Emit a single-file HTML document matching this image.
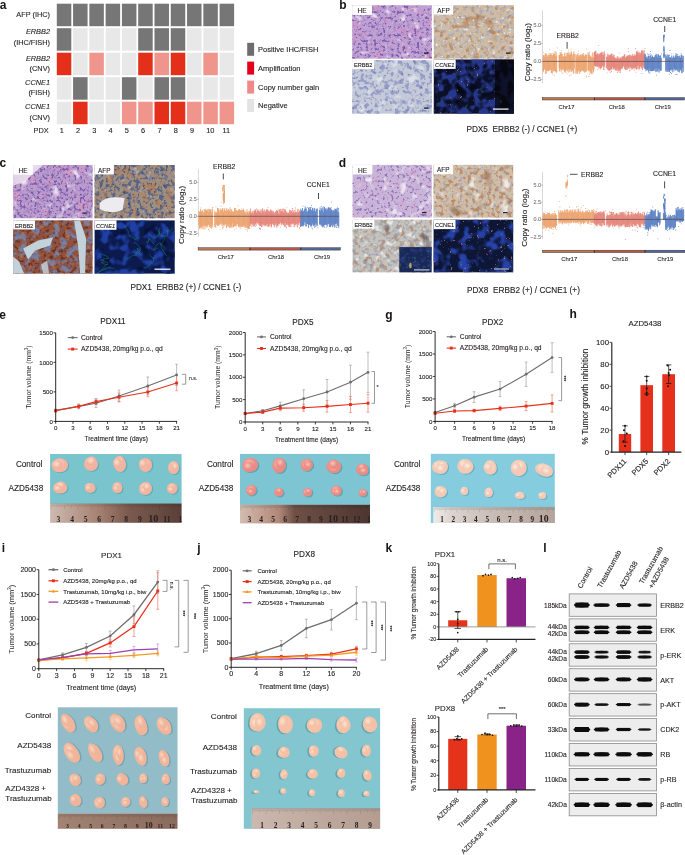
<!DOCTYPE html>
<html><head><meta charset="utf-8"><style>
html,body{margin:0;padding:0;background:#fff;width:685px;height:855px;overflow:hidden}
svg{display:block;will-change:transform}

</style></head><body>
<svg width="685" height="855" viewBox="0 0 685 855" font-family='"Liberation Sans", sans-serif'>
<text x="-0.30" y="8.80" font-size="12" font-weight="bold" fill="#1a1414">a</text><rect x="56.80" y="3.70" width="14.50" height="22.50" fill="#767676"/><rect x="73.08" y="3.70" width="14.50" height="22.50" fill="#767676"/><rect x="89.36" y="3.70" width="14.50" height="22.50" fill="#767676"/><rect x="105.64" y="3.70" width="14.50" height="22.50" fill="#767676"/><rect x="121.92" y="3.70" width="14.50" height="22.50" fill="#767676"/><rect x="138.20" y="3.70" width="14.50" height="22.50" fill="#767676"/><rect x="154.48" y="3.70" width="14.50" height="22.50" fill="#767676"/><rect x="170.76" y="3.70" width="14.50" height="22.50" fill="#767676"/><rect x="187.04" y="3.70" width="14.50" height="22.50" fill="#767676"/><rect x="203.32" y="3.70" width="14.50" height="22.50" fill="#767676"/><rect x="219.60" y="3.70" width="14.50" height="22.50" fill="#767676"/><rect x="56.80" y="28.20" width="14.50" height="22.50" fill="#767676"/><rect x="73.08" y="28.20" width="14.50" height="22.50" fill="#e8e8e8"/><rect x="89.36" y="28.20" width="14.50" height="22.50" fill="#e8e8e8"/><rect x="105.64" y="28.20" width="14.50" height="22.50" fill="#e8e8e8"/><rect x="121.92" y="28.20" width="14.50" height="22.50" fill="#e8e8e8"/><rect x="138.20" y="28.20" width="14.50" height="22.50" fill="#767676"/><rect x="154.48" y="28.20" width="14.50" height="22.50" fill="#767676"/><rect x="170.76" y="28.20" width="14.50" height="22.50" fill="#767676"/><rect x="187.04" y="28.20" width="14.50" height="22.50" fill="#e8e8e8"/><rect x="203.32" y="28.20" width="14.50" height="22.50" fill="#e8e8e8"/><rect x="219.60" y="28.20" width="14.50" height="22.50" fill="#e8e8e8"/><rect x="56.80" y="52.70" width="14.50" height="22.50" fill="#e4301a"/><rect x="73.08" y="52.70" width="14.50" height="22.50" fill="#e8e8e8"/><rect x="89.36" y="52.70" width="14.50" height="22.50" fill="#f0958b"/><rect x="105.64" y="52.70" width="14.50" height="22.50" fill="#e8e8e8"/><rect x="121.92" y="52.70" width="14.50" height="22.50" fill="#e8e8e8"/><rect x="138.20" y="52.70" width="14.50" height="22.50" fill="#e4301a"/><rect x="154.48" y="52.70" width="14.50" height="22.50" fill="#f0958b"/><rect x="170.76" y="52.70" width="14.50" height="22.50" fill="#e4301a"/><rect x="187.04" y="52.70" width="14.50" height="22.50" fill="#e8e8e8"/><rect x="203.32" y="52.70" width="14.50" height="22.50" fill="#f0958b"/><rect x="219.60" y="52.70" width="14.50" height="22.50" fill="#e8e8e8"/><rect x="56.80" y="77.20" width="14.50" height="22.50" fill="#e8e8e8"/><rect x="73.08" y="77.20" width="14.50" height="22.50" fill="#767676"/><rect x="89.36" y="77.20" width="14.50" height="22.50" fill="#e8e8e8"/><rect x="105.64" y="77.20" width="14.50" height="22.50" fill="#e8e8e8"/><rect x="121.92" y="77.20" width="14.50" height="22.50" fill="#767676"/><rect x="138.20" y="77.20" width="14.50" height="22.50" fill="#e8e8e8"/><rect x="154.48" y="77.20" width="14.50" height="22.50" fill="#767676"/><rect x="170.76" y="77.20" width="14.50" height="22.50" fill="#767676"/><rect x="187.04" y="77.20" width="14.50" height="22.50" fill="#e8e8e8"/><rect x="203.32" y="77.20" width="14.50" height="22.50" fill="#e8e8e8"/><rect x="219.60" y="77.20" width="14.50" height="22.50" fill="#e8e8e8"/><rect x="56.80" y="101.70" width="14.50" height="22.50" fill="#e8e8e8"/><rect x="73.08" y="101.70" width="14.50" height="22.50" fill="#e4301a"/><rect x="89.36" y="101.70" width="14.50" height="22.50" fill="#e8e8e8"/><rect x="105.64" y="101.70" width="14.50" height="22.50" fill="#e8e8e8"/><rect x="121.92" y="101.70" width="14.50" height="22.50" fill="#f0958b"/><rect x="138.20" y="101.70" width="14.50" height="22.50" fill="#f0958b"/><rect x="154.48" y="101.70" width="14.50" height="22.50" fill="#e4301a"/><rect x="170.76" y="101.70" width="14.50" height="22.50" fill="#e4301a"/><rect x="187.04" y="101.70" width="14.50" height="22.50" fill="#f0958b"/><rect x="203.32" y="101.70" width="14.50" height="22.50" fill="#f0958b"/><rect x="219.60" y="101.70" width="14.50" height="22.50" fill="#f0958b"/><text x="50.00" y="16.50" font-size="7.35" text-anchor="end" fill="#231f20" stroke="#231f20" stroke-width="0.12">AFP (IHC)</text><text x="50.00" y="33.90" font-size="7.35" text-anchor="end" font-style="italic" fill="#231f20" stroke="#231f20" stroke-width="0.12">ERBB2</text><text x="50.00" y="44.70" font-size="7.35" text-anchor="end" fill="#231f20" stroke="#231f20" stroke-width="0.12">(IHC/FISH)</text><text x="50.00" y="60.80" font-size="7.35" text-anchor="end" font-style="italic" fill="#231f20" stroke="#231f20" stroke-width="0.12">ERBB2</text><text x="50.00" y="71.40" font-size="7.35" text-anchor="end" fill="#231f20" stroke="#231f20" stroke-width="0.12">(CNV)</text><text x="50.00" y="84.70" font-size="7.35" text-anchor="end" font-style="italic" fill="#231f20" stroke="#231f20" stroke-width="0.12">CCNE1</text><text x="50.00" y="95.40" font-size="7.35" text-anchor="end" fill="#231f20" stroke="#231f20" stroke-width="0.12">(FISH)</text><text x="50.00" y="108.70" font-size="7.35" text-anchor="end" font-style="italic" fill="#231f20" stroke="#231f20" stroke-width="0.12">CCNE1</text><text x="50.00" y="119.50" font-size="7.35" text-anchor="end" fill="#231f20" stroke="#231f20" stroke-width="0.12">(CNV)</text><text x="48.60" y="133.40" font-size="7.35" text-anchor="end" fill="#231f20" stroke="#231f20" stroke-width="0.12">PDX</text><text x="59.70" y="133.40" font-size="7.35" fill="#231f20" stroke="#231f20" stroke-width="0.12">1</text><text x="75.98" y="133.40" font-size="7.35" fill="#231f20" stroke="#231f20" stroke-width="0.12">2</text><text x="92.26" y="133.40" font-size="7.35" fill="#231f20" stroke="#231f20" stroke-width="0.12">3</text><text x="108.54" y="133.40" font-size="7.35" fill="#231f20" stroke="#231f20" stroke-width="0.12">4</text><text x="124.82" y="133.40" font-size="7.35" fill="#231f20" stroke="#231f20" stroke-width="0.12">5</text><text x="141.10" y="133.40" font-size="7.35" fill="#231f20" stroke="#231f20" stroke-width="0.12">6</text><text x="157.38" y="133.40" font-size="7.35" fill="#231f20" stroke="#231f20" stroke-width="0.12">7</text><text x="173.66" y="133.40" font-size="7.35" fill="#231f20" stroke="#231f20" stroke-width="0.12">8</text><text x="189.94" y="133.40" font-size="7.35" fill="#231f20" stroke="#231f20" stroke-width="0.12">9</text><text x="206.22" y="133.40" font-size="7.35" fill="#231f20" stroke="#231f20" stroke-width="0.12">10</text><text x="222.50" y="133.40" font-size="7.35" fill="#231f20" stroke="#231f20" stroke-width="0.12">11</text><rect x="247.20" y="42.80" width="6.90" height="13.00" fill="#6d6d6d"/><text x="258.10" y="52.10" font-size="7.47" fill="#231f20" stroke="#231f20" stroke-width="0.12">Positive IHC/FISH</text><rect x="247.20" y="61.60" width="6.90" height="13.00" fill="#e2001a"/><text x="258.10" y="70.90" font-size="7.47" fill="#231f20" stroke="#231f20" stroke-width="0.12">Amplification</text><rect x="247.20" y="80.60" width="6.90" height="13.00" fill="#f08a8a"/><text x="258.10" y="89.90" font-size="7.47" fill="#231f20" stroke="#231f20" stroke-width="0.12">Copy number gain</text><rect x="247.20" y="99.00" width="6.90" height="13.00" fill="#e3e3e3"/><text x="258.10" y="108.30" font-size="7.47" fill="#231f20" stroke="#231f20" stroke-width="0.12">Negative</text><text x="339.30" y="9.00" font-size="12" font-weight="bold" fill="#1a1414">b</text><rect x="352.20" y="5.30" width="79.60" height="53.30" fill="#c2a2d2"/><filter id="nz1" x="0" y="0" width="1" height="1" filterUnits="objectBoundingBox" color-interpolation-filters="sRGB"><feTurbulence type="fractalNoise" baseFrequency="0.08" numOctaves="2" seed="11" result="t"/><feColorMatrix in="t" type="matrix" values="0 0 0 0 0.847 0 0 0 0 0.565 0 0 0 0 0.753 5 0 0 0 -2.7" result="c"/><feComposite in="c" in2="SourceGraphic" operator="in"/></filter><rect x="352.20" y="5.30" width="79.60" height="53.30" fill="#000" filter="url(#nz1)" opacity="0.5"/><filter id="nz2" x="0" y="0" width="1" height="1" filterUnits="objectBoundingBox" color-interpolation-filters="sRGB"><feTurbulence type="fractalNoise" baseFrequency="0.3" numOctaves="2" seed="18" result="t"/><feColorMatrix in="t" type="matrix" values="0 0 0 0 0.612 0 0 0 0 0.486 0 0 0 0 0.769 4 0 0 0 -2.0" result="c"/><feComposite in="c" in2="SourceGraphic" operator="in"/></filter><rect x="352.20" y="5.30" width="79.60" height="53.30" fill="#000" filter="url(#nz2)" opacity="0.6"/><filter id="nz3" x="0" y="0" width="1" height="1" filterUnits="objectBoundingBox" color-interpolation-filters="sRGB"><feTurbulence type="fractalNoise" baseFrequency="0.35" numOctaves="2" seed="25" result="t"/><feColorMatrix in="t" type="matrix" values="0 0 0 0 0.416 0 0 0 0 0.306 0 0 0 0 0.659 6 0 0 0 -3.3" result="c"/><feComposite in="c" in2="SourceGraphic" operator="in"/></filter><rect x="352.20" y="5.30" width="79.60" height="53.30" fill="#000" filter="url(#nz3)" opacity="0.8"/><filter id="nz4" x="0" y="0" width="1" height="1" filterUnits="objectBoundingBox" color-interpolation-filters="sRGB"><feTurbulence type="fractalNoise" baseFrequency="0.14" numOctaves="2" seed="32" result="t"/><feColorMatrix in="t" type="matrix" values="0 0 0 0 0.910 0 0 0 0 0.863 0 0 0 0 0.941 5 0 0 0 -3.0" result="c"/><feComposite in="c" in2="SourceGraphic" operator="in"/></filter><rect x="352.20" y="5.30" width="79.60" height="53.30" fill="#000" filter="url(#nz4)" opacity="1.0"/><rect x="433.80" y="5.20" width="80.10" height="53.40" fill="#d0bca4"/><filter id="nz5" x="0" y="0" width="1" height="1" filterUnits="objectBoundingBox" color-interpolation-filters="sRGB"><feTurbulence type="fractalNoise" baseFrequency="0.3" numOctaves="2" seed="21" result="t"/><feColorMatrix in="t" type="matrix" values="0 0 0 0 0.596 0 0 0 0 0.659 0 0 0 0 0.784 5 0 0 0 -2.5" result="c"/><feComposite in="c" in2="SourceGraphic" operator="in"/></filter><rect x="433.80" y="5.20" width="80.10" height="53.40" fill="#000" filter="url(#nz5)" opacity="0.75"/><filter id="nz6" x="0" y="0" width="1" height="1" filterUnits="objectBoundingBox" color-interpolation-filters="sRGB"><feTurbulence type="fractalNoise" baseFrequency="0.2" numOctaves="2" seed="28" result="t"/><feColorMatrix in="t" type="matrix" values="0 0 0 0 0.722 0 0 0 0 0.478 0 0 0 0 0.298 6 0 0 0 -3.4" result="c"/><feComposite in="c" in2="SourceGraphic" operator="in"/></filter><rect x="433.80" y="5.20" width="80.10" height="53.40" fill="#000" filter="url(#nz6)" opacity="0.65"/><filter id="nz7" x="0" y="0" width="1" height="1" filterUnits="objectBoundingBox" color-interpolation-filters="sRGB"><feTurbulence type="fractalNoise" baseFrequency="0.07" numOctaves="2" seed="35" result="t"/><feColorMatrix in="t" type="matrix" values="0 0 0 0 0.659 0 0 0 0 0.408 0 0 0 0 0.220 6 0 0 0 -3.6" result="c"/><feComposite in="c" in2="SourceGraphic" operator="in"/></filter><rect x="433.80" y="5.20" width="80.10" height="53.40" fill="#000" filter="url(#nz7)" opacity="0.45"/><filter id="nz8" x="0" y="0" width="1" height="1" filterUnits="objectBoundingBox" color-interpolation-filters="sRGB"><feTurbulence type="fractalNoise" baseFrequency="0.25" numOctaves="2" seed="42" result="t"/><feColorMatrix in="t" type="matrix" values="0 0 0 0 0.910 0 0 0 0 0.925 0 0 0 0 0.910 6 0 0 0 -3.9" result="c"/><feComposite in="c" in2="SourceGraphic" operator="in"/></filter><rect x="433.80" y="5.20" width="80.10" height="53.40" fill="#000" filter="url(#nz8)" opacity="1.0"/><rect x="352.20" y="60.10" width="79.60" height="53.60" fill="#c4cad8"/><filter id="nz9" x="0" y="0" width="1" height="1" filterUnits="objectBoundingBox" color-interpolation-filters="sRGB"><feTurbulence type="fractalNoise" baseFrequency="0.2" numOctaves="2" seed="31" result="t"/><feColorMatrix in="t" type="matrix" values="0 0 0 0 0.533 0 0 0 0 0.565 0 0 0 0 0.769 6 0 0 0 -3.0" result="c"/><feComposite in="c" in2="SourceGraphic" operator="in"/></filter><rect x="352.20" y="60.10" width="79.60" height="53.60" fill="#000" filter="url(#nz9)" opacity="0.8"/><filter id="nz10" x="0" y="0" width="1" height="1" filterUnits="objectBoundingBox" color-interpolation-filters="sRGB"><feTurbulence type="fractalNoise" baseFrequency="0.3" numOctaves="2" seed="38" result="t"/><feColorMatrix in="t" type="matrix" values="0 0 0 0 0.361 0 0 0 0 0.392 0 0 0 0 0.643 6 0 0 0 -3.7" result="c"/><feComposite in="c" in2="SourceGraphic" operator="in"/></filter><rect x="352.20" y="60.10" width="79.60" height="53.60" fill="#000" filter="url(#nz10)" opacity="0.5"/><filter id="nz11" x="0" y="0" width="1" height="1" filterUnits="objectBoundingBox" color-interpolation-filters="sRGB"><feTurbulence type="fractalNoise" baseFrequency="0.12" numOctaves="2" seed="45" result="t"/><feColorMatrix in="t" type="matrix" values="0 0 0 0 0.867 0 0 0 0 0.886 0 0 0 0 0.918 5 0 0 0 -2.9" result="c"/><feComposite in="c" in2="SourceGraphic" operator="in"/></filter><rect x="352.20" y="60.10" width="79.60" height="53.60" fill="#000" filter="url(#nz11)" opacity="1.0"/><rect x="433.80" y="59.50" width="80.10" height="54.20" fill="#0b0f28"/><filter id="nz12" x="0" y="0" width="1" height="1" filterUnits="objectBoundingBox" color-interpolation-filters="sRGB"><feTurbulence type="fractalNoise" baseFrequency="0.12" numOctaves="2" seed="41" result="t"/><feColorMatrix in="t" type="matrix" values="0 0 0 0 0.165 0 0 0 0 0.235 0 0 0 0 0.596 5 0 0 0 -2.0" result="c"/><feComposite in="c" in2="SourceGraphic" operator="in"/></filter><rect x="433.80" y="59.50" width="80.10" height="54.20" fill="#000" filter="url(#nz12)" opacity="0.9"/><filter id="nz13" x="0" y="0" width="1" height="1" filterUnits="objectBoundingBox" color-interpolation-filters="sRGB"><feTurbulence type="fractalNoise" baseFrequency="0.06" numOctaves="2" seed="48" result="t"/><feColorMatrix in="t" type="matrix" values="0 0 0 0 0.016 0 0 0 0 0.024 0 0 0 0 0.059 5 0 0 0 -3.1" result="c"/><feComposite in="c" in2="SourceGraphic" operator="in"/></filter><rect x="433.80" y="59.50" width="80.10" height="54.20" fill="#000" filter="url(#nz13)" opacity="1.0"/><filter id="nz14" x="0" y="0" width="1" height="1" filterUnits="objectBoundingBox" color-interpolation-filters="sRGB"><feTurbulence type="fractalNoise" baseFrequency="0.3" numOctaves="2" seed="55" result="t"/><feColorMatrix in="t" type="matrix" values="0 0 0 0 0.847 0 0 0 0 0.565 0 0 0 0 0.376 14 0 0 0 -10.3" result="c"/><feComposite in="c" in2="SourceGraphic" operator="in"/></filter><rect x="433.80" y="59.50" width="80.10" height="54.20" fill="#000" filter="url(#nz14)" opacity="0.75"/><filter id="nz15" x="0" y="0" width="1" height="1" filterUnits="objectBoundingBox" color-interpolation-filters="sRGB"><feTurbulence type="fractalNoise" baseFrequency="0.2" numOctaves="2" seed="62" result="t"/><feColorMatrix in="t" type="matrix" values="0 0 0 0 0.165 0 0 0 0 0.478 0 0 0 0 0.282 6 0 0 0 -4.0" result="c"/><feComposite in="c" in2="SourceGraphic" operator="in"/></filter><rect x="433.80" y="59.50" width="80.10" height="54.20" fill="#000" filter="url(#nz15)" opacity="0.5"/><rect x="495.00" y="59.50" width="18.90" height="54.20" fill="#050508" opacity="0.75"/><rect x="352.20" y="5.30" width="19.80" height="9.60" fill="#fff"/><text x="362.10" y="13.00" font-size="6.5" text-anchor="middle" fill="#231f20" stroke="#231f20" stroke-width="0.12">HE</text><rect x="433.80" y="5.20" width="19.30" height="9.40" fill="#fff"/><text x="443.45" y="12.70" font-size="6.4" text-anchor="middle" fill="#231f20" stroke="#231f20" stroke-width="0.12">AFP</text><rect x="352.20" y="60.10" width="21.90" height="9.00" fill="#fff"/><text x="363.15" y="67.20" font-size="5.6" text-anchor="middle" fill="#231f20" stroke="#231f20" stroke-width="0.12">ERBB2</text><rect x="433.80" y="59.50" width="21.90" height="9.40" fill="#fff"/><text x="444.75" y="67.00" font-size="5.7" text-anchor="middle" font-style="italic" fill="#231f20" stroke="#231f20" stroke-width="0.12">CCNE1</text><rect x="424.00" y="52.50" width="4.50" height="1.20" fill="#111"/><rect x="506.00" y="52.50" width="4.50" height="1.20" fill="#111"/><rect x="424.00" y="107.50" width="4.50" height="1.20" fill="#111"/><rect x="493.00" y="108.50" width="15.50" height="1.20" fill="#fff"/><line x1="542.50" y1="10.30" x2="542.50" y2="83.20" stroke="#cfcfcf" stroke-width="0.8"/><path d="M543.0 56.5V72.3M543.5 55.0V71.3M544.1 55.2V69.7M544.6 56.7V69.4M545.2 53.0V69.5M545.7 54.3V73.9M546.3 54.8V73.4M546.8 53.5V71.0M547.4 56.9V70.9M547.9 55.5V71.1M548.5 54.8V71.2M549.0 57.4V70.6M549.6 54.5V70.0M550.1 54.5V70.1M550.7 53.0V69.5M551.2 54.2V72.9M551.8 55.1V73.2M552.3 55.5V73.2M552.9 55.1V69.6M553.4 52.9V71.3M554.0 54.7V71.5M554.5 53.9V70.9M555.1 51.7V70.5M555.6 56.3V71.9M556.2 51.8V72.6M556.7 55.4V72.4" stroke="#eb9d66" stroke-width="0.8" fill="none"/><path fill="#eb9d66" d="M543.3 52.3h.8v.8h-.8zM551.6 53.0h.8v.8h-.8zM553.8 75.0h.8v.8h-.8zM548.6 52.9h.8v.8h-.8zM549.3 49.2h.8v.8h-.8zM554.5 50.9h.8v.8h-.8zM556.8 47.4h.8v.8h-.8zM545.1 72.9h.8v.8h-.8zM552.2 73.8h.8v.8h-.8z"/><path d="M559.0 55.1V68.3M559.5 54.9V71.3M560.1 52.4V70.2M560.6 53.0V68.5M561.2 52.0V72.0M561.7 54.1V69.9M562.3 54.1V69.4M562.8 56.3V70.0M563.4 56.5V68.7M563.9 56.6V70.8M564.5 53.1V72.3M565.0 55.9V70.7M565.6 56.2V72.8M566.1 53.4V69.9M566.7 56.7V70.8M567.2 52.9V69.6M567.8 52.7V71.8M568.3 54.5V69.2M568.9 51.7V72.6M569.4 54.9V69.9M570.0 53.3V71.6M570.5 54.4V69.0M571.1 51.2V72.1M571.6 52.0V71.5M572.2 54.5V70.6M572.7 57.2V70.6M573.3 53.6V73.5M573.8 52.1V73.3M574.4 54.0V68.7" stroke="#eb9d66" stroke-width="0.8" fill="none"/><path fill="#eb9d66" d="M562.5 73.0h.8v.8h-.8zM566.5 73.4h.8v.8h-.8zM569.2 75.5h.8v.8h-.8zM560.9 50.0h.8v.8h-.8zM570.7 48.8h.8v.8h-.8zM565.8 52.6h.8v.8h-.8zM573.8 51.6h.8v.8h-.8zM570.6 74.6h.8v.8h-.8zM561.7 72.3h.8v.8h-.8zM568.2 49.8h.8v.8h-.8z"/><path d="M575.8 53.8V73.8M576.3 55.2V70.9M576.9 57.7V73.8M577.4 54.3V72.7M578.0 53.1V72.6M578.5 56.4V70.5M579.1 54.8V70.3M579.6 56.6V73.0M580.2 55.2V71.6M580.7 54.4V72.2M581.3 54.6V71.1M581.8 55.8V70.3M582.4 54.2V70.3M582.9 53.7V71.3M583.5 54.9V71.5M584.0 56.1V70.7M584.6 56.2V72.7M585.1 54.4V72.2M585.7 54.3V70.8M586.2 54.7V71.9M586.8 54.7V70.9" stroke="#eb9d66" stroke-width="0.8" fill="none"/><path fill="#eb9d66" d="M586.3 48.8h.8v.8h-.8zM585.8 75.6h.8v.8h-.8zM577.3 73.2h.8v.8h-.8zM579.3 73.3h.8v.8h-.8zM578.2 50.7h.8v.8h-.8zM585.8 77.3h.8v.8h-.8zM583.0 53.1h.8v.8h-.8z"/><path d="M588.0 52.2V69.9M588.5 54.9V71.1M589.1 52.7V69.5M589.6 55.2V71.3M590.2 56.6V73.6M590.7 55.7V72.5M591.3 56.8V73.4M591.8 57.3V74.3M592.4 52.4V69.5M592.9 57.8V73.7M593.5 57.4V72.0M594.0 52.9V70.1" stroke="#eb9d66" stroke-width="0.8" fill="none"/><path fill="#eb9d66" d="M589.0 51.6h.8v.8h-.8zM588.6 76.2h.8v.8h-.8zM589.2 73.9h.8v.8h-.8zM588.1 76.2h.8v.8h-.8z"/><path d="M594.4 51.9V66.1M594.9 52.2V65.9M595.5 50.8V66.2M596.0 53.2V66.8M596.6 54.8V66.0M597.1 54.0V66.9M597.7 53.1V66.8M598.2 53.9V65.8M598.8 55.2V68.6M599.3 53.9V67.0M599.9 53.6V67.8M600.4 52.8V68.8M601.0 52.8V68.2M601.5 52.5V67.8M602.1 51.7V66.5M602.6 54.8V65.9M603.2 52.4V66.9M603.7 55.0V69.3M604.3 51.3V65.7M604.8 54.0V67.5" stroke="#e57c70" stroke-width="0.8" fill="none"/><path fill="#e57c70" d="M596.1 51.5h.8v.8h-.8zM598.3 45.0h.8v.8h-.8zM600.3 68.5h.8v.8h-.8zM603.9 69.2h.8v.8h-.8zM594.4 51.4h.8v.8h-.8zM597.4 68.9h.8v.8h-.8zM602.8 69.0h.8v.8h-.8z"/><path d="M606.6 56.5V67.8M607.1 57.0V68.6M607.7 55.1V69.7M608.2 54.3V70.0M608.8 56.3V70.9M609.3 55.1V70.0M609.9 54.9V71.2M610.4 54.3V69.8M611.0 55.9V69.5M611.5 53.6V69.5M612.1 53.7V69.4M612.6 56.1V66.7M613.2 56.6V67.9M613.7 54.6V68.8" stroke="#e57c70" stroke-width="0.8" fill="none"/><path fill="#e57c70" d="M611.2 71.1h.8v.8h-.8zM606.6 72.4h.8v.8h-.8zM610.3 71.9h.8v.8h-.8zM607.1 53.8h.8v.8h-.8zM607.2 53.8h.8v.8h-.8z"/><path d="M614.0 58.3V70.2M614.5 56.6V68.6M615.1 57.8V67.8M615.6 58.6V70.2M616.2 57.5V71.1M616.7 58.9V69.8M617.3 56.1V68.7M617.8 58.3V71.3M618.4 58.3V71.4M618.9 56.7V68.6M619.5 58.6V70.0M620.0 58.5V72.6M620.6 57.3V70.7M621.1 58.5V67.9M621.7 58.2V69.2" stroke="#e57c70" stroke-width="0.8" fill="none"/><path fill="#e57c70" d="M618.8 52.8h.8v.8h-.8zM619.6 72.3h.8v.8h-.8zM621.0 56.7h.8v.8h-.8zM614.0 54.7h.8v.8h-.8zM617.2 72.0h.8v.8h-.8z"/><path d="M622.0 57.3V68.1M622.5 56.6V68.5M623.1 56.1V66.0M623.6 56.2V66.5M624.2 54.5V67.2M624.7 54.0V69.1M625.3 57.7V69.5M625.8 56.8V70.1M626.4 56.5V69.7M626.9 55.5V66.3M627.5 55.6V69.5M628.0 56.7V66.9M628.6 55.3V68.2M629.1 54.9V69.1M629.7 54.8V66.6M630.2 56.7V67.8M630.8 54.7V67.8M631.3 56.2V69.6M631.9 55.8V67.6M632.4 54.5V68.7M633.0 56.4V69.6M633.5 55.6V67.7M634.1 56.0V68.4M634.6 54.8V67.7M635.2 55.1V69.0M635.7 56.3V67.3" stroke="#e57c70" stroke-width="0.8" fill="none"/><path fill="#e57c70" d="M632.5 54.1h.8v.8h-.8zM635.5 71.7h.8v.8h-.8zM629.4 69.8h.8v.8h-.8zM634.6 53.7h.8v.8h-.8zM628.2 51.2h.8v.8h-.8zM634.2 69.8h.8v.8h-.8zM628.0 48.4h.8v.8h-.8zM628.9 70.5h.8v.8h-.8zM635.0 48.2h.8v.8h-.8z"/><path d="M636.0 54.3V66.7M636.5 51.3V69.8M637.1 51.1V68.6M637.6 52.0V65.8M638.2 52.8V69.2M638.7 52.8V65.8M639.3 51.9V69.1M639.8 54.7V68.6M640.4 52.5V66.4M640.9 54.2V66.7M641.5 50.1V68.5M642.0 51.6V65.9M642.6 50.5V69.2M643.1 54.6V68.1M643.7 52.2V66.4M644.2 49.9V66.3M644.8 53.7V68.2" stroke="#e57c70" stroke-width="0.8" fill="none"/><path fill="#e57c70" d="M642.0 69.1h.8v.8h-.8zM638.6 69.5h.8v.8h-.8zM644.5 48.2h.8v.8h-.8zM637.7 50.4h.8v.8h-.8zM642.7 50.7h.8v.8h-.8zM641.5 73.1h.8v.8h-.8z"/><path d="M644.8 54.6V69.0M645.3 54.3V68.8M645.9 56.7V71.3M646.4 57.3V70.3M647.0 56.7V68.8M647.5 58.4V70.3M648.1 55.9V70.4M648.6 55.7V72.6M649.2 55.7V68.3M649.7 58.8V71.2M650.3 55.4V71.3M650.8 55.4V70.2M651.4 57.5V71.2M651.9 56.6V71.1M652.5 55.6V71.0M653.0 57.1V71.1M653.6 57.0V70.9M654.1 57.6V69.0M654.7 56.6V71.0M655.2 54.7V69.2M655.8 55.1V72.2M656.3 55.7V71.6M656.9 53.9V68.5M657.4 57.4V71.2M658.0 55.2V72.1M658.5 54.2V68.6M659.1 58.4V72.7M659.6 55.8V69.7M660.2 55.2V71.1M660.7 55.4V70.4M661.3 57.9V70.6" stroke="#5279c0" stroke-width="0.8" fill="none"/><path fill="#5279c0" d="M655.6 53.7h.8v.8h-.8zM650.2 51.2h.8v.8h-.8zM661.2 53.4h.8v.8h-.8zM648.3 53.9h.8v.8h-.8zM656.6 54.8h.8v.8h-.8zM647.0 53.4h.8v.8h-.8zM656.0 74.7h.8v.8h-.8zM649.7 53.6h.8v.8h-.8zM651.0 54.7h.8v.8h-.8zM648.9 72.5h.8v.8h-.8zM649.5 72.7h.8v.8h-.8z"/><path d="M665.7 54.4V71.1M666.2 55.5V72.0M666.8 57.1V69.9M667.3 54.3V72.0M667.9 58.0V70.0M668.4 54.8V71.7M669.0 56.1V71.6M669.5 57.4V72.1M670.1 57.2V70.5M670.6 57.3V70.1M671.2 58.2V70.4M671.7 55.5V69.4M672.3 57.9V72.4M672.8 57.6V70.1M673.4 55.6V68.5M673.9 57.4V71.7M674.5 57.8V69.2M675.0 56.3V69.6M675.6 54.7V70.4M676.1 56.8V70.4M676.7 53.6V69.6M677.2 55.9V70.1M677.8 55.5V71.4M678.3 56.1V71.9M678.9 57.8V68.9M679.4 55.6V72.5M680.0 56.5V71.0M680.5 57.8V69.9M681.1 54.5V69.2M681.6 55.0V72.8M682.2 58.4V73.2M682.7 55.5V68.1M683.3 56.0V71.8" stroke="#5279c0" stroke-width="0.8" fill="none"/><path fill="#5279c0" d="M676.6 73.9h.8v.8h-.8zM680.8 53.4h.8v.8h-.8zM669.2 54.8h.8v.8h-.8zM669.5 50.1h.8v.8h-.8zM668.5 54.9h.8v.8h-.8zM670.0 72.1h.8v.8h-.8zM675.6 74.0h.8v.8h-.8zM671.4 53.5h.8v.8h-.8zM675.4 53.2h.8v.8h-.8zM671.1 73.0h.8v.8h-.8zM677.3 53.9h.8v.8h-.8zM668.8 73.8h.8v.8h-.8z"/><path d="M664.0 48.5V53.8M664.2 46.3V48.6M664.0 54.7V56.8M664.0 53.4V57.1M664.0 53.6V58.3M663.7 36.9V42.3M664.0 54.0V58.0M663.9 35.1V37.3M664.2 34.7V36.2M664.2 48.4V54.8M664.0 34.7V37.1M663.8 34.9V41.0M663.7 45.9V51.1M663.8 35.7V38.5" stroke="#5279c0" stroke-width="0.7" fill="none"/><line x1="542.50" y1="61.40" x2="683.30" y2="61.40" stroke="#5a4a4a" stroke-width="0.7"/><line x1="541.30" y1="25.30" x2="542.50" y2="25.30" stroke="#777" stroke-width="0.6"/><text x="540.90" y="27.20" font-size="5.4" text-anchor="end" fill="#7a7a7a" stroke="#7a7a7a" stroke-width="0.12">5.0</text><line x1="541.30" y1="43.35" x2="542.50" y2="43.35" stroke="#777" stroke-width="0.6"/><text x="540.90" y="45.25" font-size="5.4" text-anchor="end" fill="#7a7a7a" stroke="#7a7a7a" stroke-width="0.12">2.5</text><line x1="541.30" y1="61.40" x2="542.50" y2="61.40" stroke="#777" stroke-width="0.6"/><text x="540.90" y="63.30" font-size="5.4" text-anchor="end" fill="#7a7a7a" stroke="#7a7a7a" stroke-width="0.12">0.0</text><line x1="541.30" y1="79.45" x2="542.50" y2="79.45" stroke="#777" stroke-width="0.6"/><text x="540.90" y="81.35" font-size="5.4" text-anchor="end" fill="#7a7a7a" stroke="#7a7a7a" stroke-width="0.12">−2.5</text><text x="529.60" y="52.10" font-size="8.1" text-anchor="middle" fill="#231f20" stroke="#231f20" stroke-width="0.12" transform="rotate(-90 529.60 52.10)">Copy ratio (log<tspan font-size="5.2" dy="1.6">2</tspan><tspan dy="-1.6">)</tspan></text><text x="567.60" y="37.80" font-size="6.8" text-anchor="middle" fill="#231f20" stroke="#231f20" stroke-width="0.12">ERBB2</text><line x1="567.10" y1="42.00" x2="567.10" y2="48.70" stroke="#231f20" stroke-width="0.8"/><text x="664.70" y="21.60" font-size="6.8" text-anchor="middle" fill="#231f20" stroke="#231f20" stroke-width="0.12">CCNE1</text><line x1="664.70" y1="26.00" x2="664.70" y2="32.00" stroke="#231f20" stroke-width="0.8"/><rect x="542.30" y="97.60" width="52.10" height="2.40" fill="#bc7a52"/><rect x="594.40" y="97.60" width="50.40" height="2.40" fill="#b45a4a"/><rect x="644.80" y="97.60" width="39.70" height="2.40" fill="#52689a"/><rect x="542.30" y="97.60" width="142.20" height="2.4" fill="none" stroke="#3a2a2a" stroke-width="0.45"/><line x1="594.40" y1="97.60" x2="594.40" y2="100.00" stroke="#111" stroke-width="0.8"/><line x1="644.80" y1="97.60" x2="644.80" y2="100.00" stroke="#111" stroke-width="0.8"/><text x="566.60" y="108.60" font-size="5.9" text-anchor="middle" fill="#333" stroke="#333" stroke-width="0.12">Chr17</text><text x="616.80" y="108.60" font-size="5.9" text-anchor="middle" fill="#333" stroke="#333" stroke-width="0.12">Chr18</text><text x="662.70" y="108.60" font-size="5.9" text-anchor="middle" fill="#333" stroke="#333" stroke-width="0.12">Chr19</text><text x="466.40" y="132.20" font-size="8.24" fill="#231f20" stroke="#231f20" stroke-width="0.12" xml:space="preserve">PDX5  ERBB2 (-) / CCNE1 (+)</text><text x="-0.60" y="166.60" font-size="12" font-weight="bold" fill="#1a1414">c</text><rect x="13.10" y="165.00" width="79.40" height="53.20" fill="#bc9ccc"/><filter id="nz16" x="0" y="0" width="1" height="1" filterUnits="objectBoundingBox" color-interpolation-filters="sRGB"><feTurbulence type="fractalNoise" baseFrequency="0.08" numOctaves="2" seed="51" result="t"/><feColorMatrix in="t" type="matrix" values="0 0 0 0 0.878 0 0 0 0 0.596 0 0 0 0 0.753 5 0 0 0 -2.7" result="c"/><feComposite in="c" in2="SourceGraphic" operator="in"/></filter><rect x="13.10" y="165.00" width="79.40" height="53.20" fill="#000" filter="url(#nz16)" opacity="0.6"/><filter id="nz17" x="0" y="0" width="1" height="1" filterUnits="objectBoundingBox" color-interpolation-filters="sRGB"><feTurbulence type="fractalNoise" baseFrequency="0.3" numOctaves="2" seed="58" result="t"/><feColorMatrix in="t" type="matrix" values="0 0 0 0 0.541 0 0 0 0 0.424 0 0 0 0 0.722 4 0 0 0 -2.0" result="c"/><feComposite in="c" in2="SourceGraphic" operator="in"/></filter><rect x="13.10" y="165.00" width="79.40" height="53.20" fill="#000" filter="url(#nz17)" opacity="0.5"/><filter id="nz18" x="0" y="0" width="1" height="1" filterUnits="objectBoundingBox" color-interpolation-filters="sRGB"><feTurbulence type="fractalNoise" baseFrequency="0.35" numOctaves="2" seed="65" result="t"/><feColorMatrix in="t" type="matrix" values="0 0 0 0 0.416 0 0 0 0 0.314 0 0 0 0 0.659 6 0 0 0 -3.2" result="c"/><feComposite in="c" in2="SourceGraphic" operator="in"/></filter><rect x="13.10" y="165.00" width="79.40" height="53.20" fill="#000" filter="url(#nz18)" opacity="0.8"/><filter id="nz19" x="0" y="0" width="1" height="1" filterUnits="objectBoundingBox" color-interpolation-filters="sRGB"><feTurbulence type="fractalNoise" baseFrequency="0.1" numOctaves="2" seed="72" result="t"/><feColorMatrix in="t" type="matrix" values="0 0 0 0 0.941 0 0 0 0 0.902 0 0 0 0 0.957 5 0 0 0 -3.1" result="c"/><feComposite in="c" in2="SourceGraphic" operator="in"/></filter><rect x="13.10" y="165.00" width="79.40" height="53.20" fill="#000" filter="url(#nz19)" opacity="1.0"/><path d="M13.1 174 L31.1 165 L43.1 165 L25.1 181 L13.1 186Z" fill="#ece2f0" opacity="0.85"/><rect x="94.60" y="165.00" width="80.10" height="53.20" fill="#a09080"/><filter id="nz20" x="0" y="0" width="1" height="1" filterUnits="objectBoundingBox" color-interpolation-filters="sRGB"><feTurbulence type="fractalNoise" baseFrequency="0.25" numOctaves="2" seed="61" result="t"/><feColorMatrix in="t" type="matrix" values="0 0 0 0 0.290 0 0 0 0 0.353 0 0 0 0 0.541 6 0 0 0 -2.9" result="c"/><feComposite in="c" in2="SourceGraphic" operator="in"/></filter><rect x="94.60" y="165.00" width="80.10" height="53.20" fill="#000" filter="url(#nz20)" opacity="0.8"/><filter id="nz21" x="0" y="0" width="1" height="1" filterUnits="objectBoundingBox" color-interpolation-filters="sRGB"><feTurbulence type="fractalNoise" baseFrequency="0.12" numOctaves="2" seed="68" result="t"/><feColorMatrix in="t" type="matrix" values="0 0 0 0 0.722 0 0 0 0 0.502 0 0 0 0 0.345 5 0 0 0 -2.6" result="c"/><feComposite in="c" in2="SourceGraphic" operator="in"/></filter><rect x="94.60" y="165.00" width="80.10" height="53.20" fill="#000" filter="url(#nz21)" opacity="0.8"/><filter id="nz22" x="0" y="0" width="1" height="1" filterUnits="objectBoundingBox" color-interpolation-filters="sRGB"><feTurbulence type="fractalNoise" baseFrequency="0.35" numOctaves="2" seed="75" result="t"/><feColorMatrix in="t" type="matrix" values="0 0 0 0 0.180 0 0 0 0 0.227 0 0 0 0 0.400 6 0 0 0 -3.6" result="c"/><feComposite in="c" in2="SourceGraphic" operator="in"/></filter><rect x="94.60" y="165.00" width="80.10" height="53.20" fill="#000" filter="url(#nz22)" opacity="0.6"/><filter id="nz23" x="0" y="0" width="1" height="1" filterUnits="objectBoundingBox" color-interpolation-filters="sRGB"><feTurbulence type="fractalNoise" baseFrequency="0.15" numOctaves="2" seed="82" result="t"/><feColorMatrix in="t" type="matrix" values="0 0 0 0 0.847 0 0 0 0 0.816 0 0 0 0 0.816 5 0 0 0 -3.2" result="c"/><feComposite in="c" in2="SourceGraphic" operator="in"/></filter><rect x="94.60" y="165.00" width="80.10" height="53.20" fill="#000" filter="url(#nz23)" opacity="0.5"/><path d="M99.6 203 Q106.6 195 124.6 198 L122.6 210 Q109.6 215 99.6 209Z" fill="#ebebf0"/><rect x="13.10" y="220.40" width="79.40" height="53.20" fill="#945038"/><filter id="nz24" x="0" y="0" width="1" height="1" filterUnits="objectBoundingBox" color-interpolation-filters="sRGB"><feTurbulence type="fractalNoise" baseFrequency="0.3" numOctaves="2" seed="71" result="t"/><feColorMatrix in="t" type="matrix" values="0 0 0 0 0.369 0 0 0 0 0.157 0 0 0 0 0.078 6 0 0 0 -3.1" result="c"/><feComposite in="c" in2="SourceGraphic" operator="in"/></filter><rect x="13.10" y="220.40" width="79.40" height="53.20" fill="#000" filter="url(#nz24)" opacity="0.75"/><filter id="nz25" x="0" y="0" width="1" height="1" filterUnits="objectBoundingBox" color-interpolation-filters="sRGB"><feTurbulence type="fractalNoise" baseFrequency="0.15" numOctaves="2" seed="78" result="t"/><feColorMatrix in="t" type="matrix" values="0 0 0 0 0.471 0 0 0 0 0.533 0 0 0 0 0.690 5 0 0 0 -2.3" result="c"/><feComposite in="c" in2="SourceGraphic" operator="in"/></filter><rect x="13.10" y="220.40" width="79.40" height="53.20" fill="#000" filter="url(#nz25)" opacity="0.85"/><filter id="nz26" x="0" y="0" width="1" height="1" filterUnits="objectBoundingBox" color-interpolation-filters="sRGB"><feTurbulence type="fractalNoise" baseFrequency="0.35" numOctaves="2" seed="85" result="t"/><feColorMatrix in="t" type="matrix" values="0 0 0 0 0.290 0 0 0 0 0.353 0 0 0 0 0.596 6 0 0 0 -3.6" result="c"/><feComposite in="c" in2="SourceGraphic" operator="in"/></filter><rect x="13.10" y="220.40" width="79.40" height="53.20" fill="#000" filter="url(#nz26)" opacity="0.6"/><filter id="nz27" x="0" y="0" width="1" height="1" filterUnits="objectBoundingBox" color-interpolation-filters="sRGB"><feTurbulence type="fractalNoise" baseFrequency="0.2" numOctaves="2" seed="92" result="t"/><feColorMatrix in="t" type="matrix" values="0 0 0 0 0.753 0 0 0 0 0.502 0 0 0 0 0.376 5 0 0 0 -3.0" result="c"/><feComposite in="c" in2="SourceGraphic" operator="in"/></filter><rect x="13.10" y="220.40" width="79.40" height="53.20" fill="#000" filter="url(#nz27)" opacity="0.5"/><path d="M23.1 248.4 L38.1 240.4 L53.1 237.4 L50.1 245.4 L35.1 250.4 L28.1 259.4Z" fill="#c2d2da"/><path d="M74.1 220.4 L80.1 220.4 L86.1 238.4 L85.1 273.6 L80.1 273.6 L78.1 246.4Z" fill="#c2d2da"/><path d="M13.1 256.4 L19.1 261.4 L24.1 273.6 L13.1 273.6Z" fill="#c2d2da"/><path d="M41.1 264.4 L47.1 260.4 L49.1 273.6 L43.1 273.6Z" fill="#c8d6dc" opacity="0.8"/><rect x="94.60" y="220.40" width="80.10" height="53.20" fill="#0c1a4e"/><filter id="nz28" x="0" y="0" width="1" height="1" filterUnits="objectBoundingBox" color-interpolation-filters="sRGB"><feTurbulence type="fractalNoise" baseFrequency="0.1" numOctaves="2" seed="81" result="t"/><feColorMatrix in="t" type="matrix" values="0 0 0 0 0.141 0 0 0 0 0.275 0 0 0 0 0.706 5 0 0 0 -2.3" result="c"/><feComposite in="c" in2="SourceGraphic" operator="in"/></filter><rect x="94.60" y="220.40" width="80.10" height="53.20" fill="#000" filter="url(#nz28)" opacity="0.85"/><filter id="nz29" x="0" y="0" width="1" height="1" filterUnits="objectBoundingBox" color-interpolation-filters="sRGB"><feTurbulence type="fractalNoise" baseFrequency="0.08" numOctaves="2" seed="88" result="t"/><feColorMatrix in="t" type="matrix" values="0 0 0 0 0.020 0 0 0 0 0.039 0 0 0 0 0.141 5 0 0 0 -2.9" result="c"/><feComposite in="c" in2="SourceGraphic" operator="in"/></filter><rect x="94.60" y="220.40" width="80.10" height="53.20" fill="#000" filter="url(#nz29)" opacity="0.8"/><clipPath id="ccg"><rect x="94.6" y="220.4" width="80.1" height="53.2"/></clipPath><path d="M159.9 228.0 Q157.6 232.0 160.0 233.9 Q156.4 228.8 160.1 231.4 Q155.4 240.7 154.0 237.5 M108.1 262.2 Q102.3 261.5 101.2 262.6 Q108.5 266.4 107.9 263.4 Q101.8 269.4 100.8 270.3 M158.5 234.5 Q166.2 237.7 167.3 235.6 Q168.2 227.4 166.3 231.0 Q173.2 231.5 172.0 227.6 M141.5 255.7 Q134.4 245.9 138.2 248.7 Q140.3 250.9 140.2 247.8 Q134.8 240.1 133.6 244.0 M94.8 239.3 Q85.5 238.0 87.7 237.3 Q90.3 232.9 89.3 233.1 Q80.7 236.4 82.8 239.3 M102.3 254.4 Q108.2 256.4 109.0 258.3 Q100.7 259.1 100.2 260.3 Q106.3 261.4 102.8 259.5 M114.5 268.5 Q105.5 266.8 106.3 268.9 Q94.4 273.2 98.3 272.8 Q103.9 268.7 106.3 267.8 M135.2 254.5 Q139.3 248.4 140.8 250.0 Q135.0 257.2 132.7 255.4 Q125.8 260.0 123.8 260.2 M154.0 244.5 Q146.9 235.3 149.1 238.9 Q147.7 245.2 146.1 242.4 Q150.4 238.7 149.9 239.2 M157.8 248.2 Q157.3 248.0 153.5 250.2 Q158.5 241.3 160.4 243.4 Q166.7 248.3 164.8 249.7 M165.1 237.9 Q161.5 245.1 160.4 243.6 Q163.1 253.0 163.4 250.3 Q166.4 257.1 166.9 255.3 M140.3 236.8 Q131.7 241.8 135.1 238.5 Q125.6 235.3 128.7 231.9 Q122.1 223.2 125.9 226.9 M150.1 254.1 Q150.2 258.2 153.6 257.4 Q153.7 265.0 151.2 261.9 Q146.7 270.6 143.4 267.0 M103.2 231.3 Q99.0 227.3 96.2 224.8 Q99.7 227.7 98.6 229.4 Q93.5 221.4 91.4 223.7" fill="none" stroke="#22987a" stroke-width="0.8" opacity="0.5" clip-path="url(#ccg)"/><rect x="13.10" y="165.00" width="19.80" height="9.60" fill="#fff"/><text x="23.00" y="172.70" font-size="6.5" text-anchor="middle" fill="#231f20" stroke="#231f20" stroke-width="0.12">HE</text><rect x="94.60" y="165.00" width="19.30" height="9.40" fill="#fff"/><text x="104.25" y="172.50" font-size="6.4" text-anchor="middle" fill="#231f20" stroke="#231f20" stroke-width="0.12">AFP</text><rect x="13.10" y="220.40" width="21.90" height="9.00" fill="#fff"/><text x="24.05" y="227.50" font-size="5.6" text-anchor="middle" fill="#231f20" stroke="#231f20" stroke-width="0.12">ERBB2</text><rect x="94.60" y="220.40" width="21.90" height="9.40" fill="#fff"/><text x="105.55" y="227.90" font-size="5.7" text-anchor="middle" font-style="italic" fill="#231f20" stroke="#231f20" stroke-width="0.12">CCNE1</text><rect x="82.50" y="212.50" width="4.50" height="1.20" fill="#222"/><rect x="154.50" y="268.60" width="16.00" height="1.20" fill="#fff"/><line x1="198.40" y1="169.30" x2="198.40" y2="236.80" stroke="#cfcfcf" stroke-width="0.8"/><path d="M198.8 211.2V224.9M199.4 211.9V228.3M199.9 211.6V229.3M200.5 208.8V227.4M201.0 211.7V227.3M201.6 210.8V227.4M202.1 211.8V228.5M202.7 209.7V226.0M203.2 212.7V228.9M203.8 212.1V226.0M204.3 209.1V225.4M204.9 211.2V228.4M205.4 208.8V226.2M206.0 210.0V227.3M206.5 210.5V225.5M207.1 209.1V227.7M207.6 211.0V226.2M208.2 208.8V225.1M208.7 212.1V224.8M209.3 209.0V227.2M209.8 208.9V225.8M210.4 210.4V228.1M210.9 209.4V225.7M211.5 212.4V228.8M212.0 209.1V225.0M212.6 209.3V227.3" stroke="#eb9d66" stroke-width="0.8" fill="none"/><path fill="#eb9d66" d="M200.5 207.4h.8v.8h-.8zM208.4 228.7h.8v.8h-.8zM209.2 230.4h.8v.8h-.8zM212.3 207.6h.8v.8h-.8zM203.6 228.8h.8v.8h-.8zM201.4 228.5h.8v.8h-.8zM207.9 229.0h.8v.8h-.8zM212.4 206.9h.8v.8h-.8zM204.8 228.4h.8v.8h-.8z"/><path d="M214.7 210.7V226.7M215.2 212.6V227.3M215.8 211.7V227.9M216.4 212.8V224.9M216.9 212.2V224.1M217.5 208.9V225.5M218.0 208.6V226.1M218.6 208.4V226.0M219.1 211.4V224.1M219.7 211.3V225.2M220.2 208.3V224.2M220.8 209.6V224.3M221.3 209.9V222.9M221.9 209.7V225.8M222.4 208.0V224.3M223.0 209.7V228.3M223.5 212.1V225.0M224.1 208.0V224.0M224.6 209.1V225.7M225.2 210.9V224.0M225.7 210.5V224.5M226.3 210.2V227.4M226.8 210.8V228.1M227.4 209.5V225.9M227.9 211.3V224.1M228.5 209.2V226.9M229.0 209.7V223.6M229.6 211.1V228.0M230.1 207.4V226.9M230.7 211.9V227.6M231.2 209.7V225.0" stroke="#eb9d66" stroke-width="0.8" fill="none"/><path fill="#eb9d66" d="M225.4 229.7h.8v.8h-.8zM217.1 208.1h.8v.8h-.8zM219.6 229.4h.8v.8h-.8zM222.5 227.4h.8v.8h-.8zM220.9 202.2h.8v.8h-.8zM226.0 209.1h.8v.8h-.8zM226.7 208.4h.8v.8h-.8zM225.6 208.0h.8v.8h-.8zM221.8 228.7h.8v.8h-.8zM220.7 205.8h.8v.8h-.8zM215.6 206.5h.8v.8h-.8z"/><path d="M231.3 209.1V226.5M231.9 213.0V228.1M232.4 210.9V223.3M233.0 211.8V227.1M233.5 211.8V227.3M234.1 211.0V226.6M234.6 208.6V225.9M235.2 208.1V226.2M235.7 209.7V225.9M236.3 209.9V226.6M236.8 211.0V224.0M237.4 210.6V223.9M237.9 211.6V225.3M238.5 209.8V226.9M239.0 209.3V226.0M239.6 209.2V226.7M240.1 210.6V227.5M240.7 210.1V226.6M241.2 210.3V226.9M241.8 210.1V226.7M242.3 210.1V227.0M242.9 209.8V226.6M243.4 208.7V225.0M244.0 209.9V226.5" stroke="#eb9d66" stroke-width="0.8" fill="none"/><path fill="#eb9d66" d="M234.0 208.1h.8v.8h-.8zM234.5 229.5h.8v.8h-.8zM235.0 207.9h.8v.8h-.8zM237.7 205.3h.8v.8h-.8zM235.7 228.3h.8v.8h-.8zM241.4 208.4h.8v.8h-.8zM240.4 228.0h.8v.8h-.8zM239.4 227.4h.8v.8h-.8z"/><path d="M244.1 212.0V227.2M244.7 213.6V225.2M245.2 211.3V227.7M245.8 212.4V227.9M246.3 213.5V228.0M246.9 209.7V224.8M247.4 211.9V228.3M248.0 211.5V229.2M248.5 213.6V229.0M249.1 210.9V226.2M249.6 211.1V228.9" stroke="#eb9d66" stroke-width="0.8" fill="none"/><path fill="#eb9d66" d="M245.2 228.9h.8v.8h-.8zM246.6 229.4h.8v.8h-.8zM247.2 230.8h.8v.8h-.8zM246.6 209.5h.8v.8h-.8z"/><path d="M250.0 212.4V226.0M250.6 208.5V224.0M251.1 212.9V225.6M251.7 213.0V223.4M252.2 211.2V224.2M252.8 212.0V225.6M253.3 213.7V226.3M253.9 210.6V224.0M254.4 210.8V226.4M255.0 209.7V222.6M255.5 210.1V224.5M256.1 211.4V226.0M256.6 212.7V222.6M257.2 209.6V222.9M257.7 210.5V223.8M258.3 210.6V222.5M258.8 211.1V224.8M259.4 212.3V225.7M259.9 210.8V225.6M260.5 211.7V226.1M261.0 209.3V224.4M261.6 213.2V227.1M262.1 209.5V223.9M262.7 209.1V226.0M263.2 211.7V224.4M263.8 211.0V225.0M264.3 209.4V225.9M264.9 213.5V224.3M265.4 210.9V226.2M266.0 212.3V225.5M266.5 209.2V224.6M267.1 210.1V226.4M267.6 209.2V223.9M268.2 211.6V226.7M268.7 210.6V227.1M269.3 211.2V226.0M269.8 212.4V223.9M270.4 209.6V224.3M270.9 210.6V226.6M271.5 211.3V226.9M272.0 210.4V224.1M272.6 212.2V223.5M273.1 210.9V224.8M273.7 211.4V224.8M274.2 213.5V227.4M274.8 212.9V225.6M275.3 212.0V224.8M275.9 211.3V223.2M276.4 210.0V227.1M277.0 210.9V223.9M277.5 211.0V226.2M278.1 209.4V226.3M278.6 213.4V224.1M279.2 213.3V223.6M279.7 209.6V224.6M280.3 208.8V222.4M280.8 211.4V223.2M281.4 211.4V224.4M281.9 209.1V225.3M282.5 211.5V223.7M283.0 208.4V223.0M283.6 212.9V225.0M284.1 208.9V225.5M284.7 210.7V226.4M285.2 209.0V222.8M285.8 210.7V227.2M286.3 211.7V224.9M286.9 212.3V223.7M287.4 213.0V225.2M288.0 212.7V224.0M288.5 212.8V225.4M289.1 213.5V227.0M289.6 209.9V226.8M290.2 211.9V224.0M290.7 210.1V226.9M291.3 211.1V224.0M291.8 210.7V224.8M292.4 212.8V223.7M292.9 210.6V223.1M293.5 211.5V223.9M294.0 212.6V226.8M294.6 212.7V225.1M295.1 209.8V223.6M295.7 212.1V225.6M296.2 212.0V224.5M296.8 212.5V224.0M297.3 209.4V227.1M297.9 212.1V223.3M298.4 212.3V225.1M299.0 209.6V223.3M299.5 211.3V222.9M300.1 210.6V225.8M300.6 211.9V227.0" stroke="#e57c70" stroke-width="0.8" fill="none"/><path fill="#e57c70" d="M261.1 226.2h.8v.8h-.8zM259.2 228.1h.8v.8h-.8zM260.0 229.0h.8v.8h-.8zM295.2 207.6h.8v.8h-.8zM258.9 227.6h.8v.8h-.8zM286.0 227.4h.8v.8h-.8zM260.3 228.0h.8v.8h-.8zM276.4 227.2h.8v.8h-.8zM267.7 206.9h.8v.8h-.8zM293.9 209.9h.8v.8h-.8zM270.8 209.8h.8v.8h-.8zM283.8 226.3h.8v.8h-.8zM292.2 210.0h.8v.8h-.8zM285.7 226.7h.8v.8h-.8zM297.4 226.2h.8v.8h-.8zM286.3 207.5h.8v.8h-.8zM294.1 226.5h.8v.8h-.8zM255.5 209.0h.8v.8h-.8zM251.3 226.0h.8v.8h-.8zM299.1 227.6h.8v.8h-.8zM258.5 209.6h.8v.8h-.8zM291.5 226.0h.8v.8h-.8zM297.1 226.5h.8v.8h-.8zM292.5 208.8h.8v.8h-.8zM285.7 226.7h.8v.8h-.8zM254.8 226.0h.8v.8h-.8zM256.3 208.5h.8v.8h-.8zM288.7 226.2h.8v.8h-.8zM270.6 227.3h.8v.8h-.8zM261.6 226.2h.8v.8h-.8zM279.1 209.7h.8v.8h-.8zM292.0 208.0h.8v.8h-.8zM280.3 226.8h.8v.8h-.8zM297.8 209.3h.8v.8h-.8zM262.2 207.9h.8v.8h-.8z"/><path d="M300.8 208.6V226.9M301.4 210.2V225.8M301.9 211.3V226.3M302.5 208.0V226.2M303.0 212.0V224.6M303.6 211.1V226.3M304.1 210.2V225.2M304.7 208.8V222.3M305.2 206.5V222.3M305.8 208.3V226.5M306.3 208.6V226.4M306.9 212.0V224.2M307.4 211.4V223.9M308.0 210.7V224.3M308.5 208.0V227.9M309.1 210.7V225.0M309.6 209.0V224.6M310.2 206.9V225.0M310.7 208.7V226.7M311.3 210.0V226.5M311.8 210.4V225.9M312.4 207.8V224.5M312.9 208.0V223.1M313.5 211.1V225.7M314.0 209.1V226.4M314.6 207.9V225.0M315.1 210.8V227.2M315.7 211.9V223.5M316.2 208.8V224.4M316.8 209.1V226.5M317.3 208.4V225.6" stroke="#5279c0" stroke-width="0.8" fill="none"/><path fill="#5279c0" d="M317.5 227.4h.8v.8h-.8zM312.1 228.4h.8v.8h-.8zM311.2 205.2h.8v.8h-.8zM309.6 207.6h.8v.8h-.8zM311.5 227.4h.8v.8h-.8zM302.5 205.7h.8v.8h-.8zM310.7 207.3h.8v.8h-.8zM317.6 227.4h.8v.8h-.8zM314.0 227.3h.8v.8h-.8zM308.4 207.6h.8v.8h-.8zM306.8 207.3h.8v.8h-.8z"/><path d="M319.5 209.9V224.3M320.1 207.3V224.8M320.6 211.0V224.4M321.2 209.6V226.2M321.7 208.2V225.1M322.3 207.3V226.8M322.8 210.2V227.6M323.4 212.3V226.3M323.9 207.5V226.5M324.5 207.1V225.2M325.0 208.5V224.7M325.6 209.2V224.8M326.1 207.9V224.6M326.7 210.6V225.4M327.2 209.0V226.9M327.8 208.7V224.2M328.3 206.9V224.3M328.9 207.9V223.7M329.4 207.5V227.0M330.0 211.2V227.0M330.5 207.6V227.2M331.1 209.1V223.0M331.6 209.7V225.6M332.2 211.4V226.3M332.7 209.9V227.3M333.3 211.3V224.6M333.8 209.8V225.6M334.4 211.1V227.6M334.9 208.5V223.7M335.5 209.2V224.2M336.0 209.0V227.3M336.6 209.7V223.4M337.1 208.8V224.0M337.7 211.6V226.0M338.2 208.4V226.1M338.8 212.4V227.2" stroke="#5279c0" stroke-width="0.8" fill="none"/><path fill="#5279c0" d="M325.8 227.2h.8v.8h-.8zM322.8 206.5h.8v.8h-.8zM336.3 227.2h.8v.8h-.8zM328.3 208.1h.8v.8h-.8zM323.8 206.7h.8v.8h-.8zM338.3 208.0h.8v.8h-.8zM324.2 226.6h.8v.8h-.8zM337.7 227.1h.8v.8h-.8zM337.1 207.5h.8v.8h-.8zM331.3 201.5h.8v.8h-.8zM320.8 206.2h.8v.8h-.8zM331.0 207.5h.8v.8h-.8zM336.7 208.1h.8v.8h-.8z"/><path d="M224.4 200.3V202.5M223.5 198.4V203.9M223.5 194.7V197.6M224.4 193.7V198.1M224.5 190.9V196.6M223.8 193.6V197.2M223.4 193.7V196.4M222.8 187.3V189.8M223.0 196.6V200.6M224.2 190.7V194.2M224.2 196.7V199.8M223.2 192.5V196.9M223.8 195.2V198.8M223.2 185.0V188.9M224.5 185.0V186.4M223.6 185.0V186.6M223.5 193.1V195.0M224.2 190.3V192.1M224.3 186.0V191.0M222.9 189.3V191.4M222.8 186.8V191.5M224.2 197.7V200.0M224.4 197.1V202.9M224.2 188.4V190.7M224.1 199.8V202.5M224.3 194.0V197.0M224.3 191.5V195.8M223.9 185.0V188.8" stroke="#eb9d66" stroke-width="0.7" fill="none"/><line x1="198.40" y1="216.30" x2="339.10" y2="216.30" stroke="#5a4a4a" stroke-width="0.7"/><line x1="197.20" y1="182.30" x2="198.40" y2="182.30" stroke="#777" stroke-width="0.6"/><text x="196.80" y="184.20" font-size="5.4" text-anchor="end" fill="#7a7a7a" stroke="#7a7a7a" stroke-width="0.12">5.0</text><line x1="197.20" y1="199.30" x2="198.40" y2="199.30" stroke="#777" stroke-width="0.6"/><text x="196.80" y="201.20" font-size="5.4" text-anchor="end" fill="#7a7a7a" stroke="#7a7a7a" stroke-width="0.12">2.5</text><line x1="197.20" y1="216.30" x2="198.40" y2="216.30" stroke="#777" stroke-width="0.6"/><text x="196.80" y="218.20" font-size="5.4" text-anchor="end" fill="#7a7a7a" stroke="#7a7a7a" stroke-width="0.12">0.0</text><line x1="197.20" y1="233.30" x2="198.40" y2="233.30" stroke="#777" stroke-width="0.6"/><text x="196.80" y="235.20" font-size="5.4" text-anchor="end" fill="#7a7a7a" stroke="#7a7a7a" stroke-width="0.12">−2.5</text><text x="183.90" y="215.00" font-size="8.1" text-anchor="middle" fill="#231f20" stroke="#231f20" stroke-width="0.12" transform="rotate(-90 183.90 215.00)">Copy ratio (log<tspan font-size="5.2" dy="1.6">2</tspan><tspan dy="-1.6">)</tspan></text><text x="224.20" y="168.80" font-size="6.8" text-anchor="middle" fill="#231f20" stroke="#231f20" stroke-width="0.12">ERBB2</text><line x1="223.30" y1="173.50" x2="223.30" y2="179.40" stroke="#231f20" stroke-width="0.8"/><text x="318.20" y="186.70" font-size="6.8" text-anchor="middle" fill="#231f20" stroke="#231f20" stroke-width="0.12">CCNE1</text><line x1="318.50" y1="193.00" x2="318.50" y2="199.00" stroke="#231f20" stroke-width="0.8"/><rect x="198.10" y="247.70" width="51.90" height="2.40" fill="#bc7a52"/><rect x="250.00" y="247.70" width="50.80" height="2.40" fill="#b45a4a"/><rect x="300.80" y="247.70" width="39.50" height="2.40" fill="#52689a"/><rect x="198.10" y="247.70" width="142.20" height="2.4" fill="none" stroke="#3a2a2a" stroke-width="0.45"/><line x1="250.00" y1="247.70" x2="250.00" y2="250.10" stroke="#111" stroke-width="0.8"/><line x1="300.80" y1="247.70" x2="300.80" y2="250.10" stroke="#111" stroke-width="0.8"/><text x="225.70" y="258.80" font-size="5.9" text-anchor="middle" fill="#333" stroke="#333" stroke-width="0.12">Chr17</text><text x="276.00" y="258.80" font-size="5.9" text-anchor="middle" fill="#333" stroke="#333" stroke-width="0.12">Chr18</text><text x="322.00" y="258.80" font-size="5.9" text-anchor="middle" fill="#333" stroke="#333" stroke-width="0.12">Chr19</text><text x="130.40" y="290.30" font-size="8.24" fill="#231f20" stroke="#231f20" stroke-width="0.12" xml:space="preserve">PDX1  ERBB2 (+) / CCNE1 (-)</text><text x="338.70" y="166.80" font-size="12" font-weight="bold" fill="#1a1414">d</text><rect x="352.60" y="164.90" width="79.10" height="52.60" fill="#cab4d8"/><filter id="nz30" x="0" y="0" width="1" height="1" filterUnits="objectBoundingBox" color-interpolation-filters="sRGB"><feTurbulence type="fractalNoise" baseFrequency="0.35" numOctaves="2" seed="91" result="t"/><feColorMatrix in="t" type="matrix" values="0 0 0 0 0.541 0 0 0 0 0.455 0 0 0 0 0.722 6 0 0 0 -3.3" result="c"/><feComposite in="c" in2="SourceGraphic" operator="in"/></filter><rect x="352.60" y="164.90" width="79.10" height="52.60" fill="#000" filter="url(#nz30)" opacity="1.0"/><filter id="nz31" x="0" y="0" width="1" height="1" filterUnits="objectBoundingBox" color-interpolation-filters="sRGB"><feTurbulence type="fractalNoise" baseFrequency="0.1" numOctaves="2" seed="98" result="t"/><feColorMatrix in="t" type="matrix" values="0 0 0 0 0.847 0 0 0 0 0.627 0 0 0 0 0.784 5 0 0 0 -2.9" result="c"/><feComposite in="c" in2="SourceGraphic" operator="in"/></filter><rect x="352.60" y="164.90" width="79.10" height="52.60" fill="#000" filter="url(#nz31)" opacity="0.5"/><filter id="nz32" x="0" y="0" width="1" height="1" filterUnits="objectBoundingBox" color-interpolation-filters="sRGB"><feTurbulence type="fractalNoise" baseFrequency="0.12" numOctaves="2" seed="105" result="t"/><feColorMatrix in="t" type="matrix" values="0 0 0 0 0.925 0 0 0 0 0.886 0 0 0 0 0.941 5 0 0 0 -2.9" result="c"/><feComposite in="c" in2="SourceGraphic" operator="in"/></filter><rect x="352.60" y="164.90" width="79.10" height="52.60" fill="#000" filter="url(#nz32)" opacity="1.0"/><rect x="433.60" y="164.90" width="79.60" height="52.60" fill="#d0bea8"/><filter id="nz33" x="0" y="0" width="1" height="1" filterUnits="objectBoundingBox" color-interpolation-filters="sRGB"><feTurbulence type="fractalNoise" baseFrequency="0.25" numOctaves="2" seed="101" result="t"/><feColorMatrix in="t" type="matrix" values="0 0 0 0 0.722 0 0 0 0 0.478 0 0 0 0 0.314 6 0 0 0 -3.1" result="c"/><feComposite in="c" in2="SourceGraphic" operator="in"/></filter><rect x="433.60" y="164.90" width="79.60" height="52.60" fill="#000" filter="url(#nz33)" opacity="0.75"/><filter id="nz34" x="0" y="0" width="1" height="1" filterUnits="objectBoundingBox" color-interpolation-filters="sRGB"><feTurbulence type="fractalNoise" baseFrequency="0.3" numOctaves="2" seed="108" result="t"/><feColorMatrix in="t" type="matrix" values="0 0 0 0 0.596 0 0 0 0 0.643 0 0 0 0 0.769 5 0 0 0 -2.7" result="c"/><feComposite in="c" in2="SourceGraphic" operator="in"/></filter><rect x="433.60" y="164.90" width="79.60" height="52.60" fill="#000" filter="url(#nz34)" opacity="0.7"/><filter id="nz35" x="0" y="0" width="1" height="1" filterUnits="objectBoundingBox" color-interpolation-filters="sRGB"><feTurbulence type="fractalNoise" baseFrequency="0.1" numOctaves="2" seed="115" result="t"/><feColorMatrix in="t" type="matrix" values="0 0 0 0 0.933 0 0 0 0 0.918 0 0 0 0 0.894 5 0 0 0 -3.0" result="c"/><feComposite in="c" in2="SourceGraphic" operator="in"/></filter><rect x="433.60" y="164.90" width="79.60" height="52.60" fill="#000" filter="url(#nz35)" opacity="1.0"/><filter id="nz36" x="0" y="0" width="1" height="1" filterUnits="objectBoundingBox" color-interpolation-filters="sRGB"><feTurbulence type="fractalNoise" baseFrequency="0.06" numOctaves="2" seed="122" result="t"/><feColorMatrix in="t" type="matrix" values="0 0 0 0 0.541 0 0 0 0 0.353 0 0 0 0 0.227 6 0 0 0 -3.9" result="c"/><feComposite in="c" in2="SourceGraphic" operator="in"/></filter><rect x="433.60" y="164.90" width="79.60" height="52.60" fill="#000" filter="url(#nz36)" opacity="0.5"/><rect x="352.60" y="219.70" width="79.10" height="52.60" fill="#c6c2bc"/><filter id="nz37" x="0" y="0" width="1" height="1" filterUnits="objectBoundingBox" color-interpolation-filters="sRGB"><feTurbulence type="fractalNoise" baseFrequency="0.2" numOctaves="2" seed="111" result="t"/><feColorMatrix in="t" type="matrix" values="0 0 0 0 0.690 0 0 0 0 0.518 0 0 0 0 0.392 5 0 0 0 -2.5" result="c"/><feComposite in="c" in2="SourceGraphic" operator="in"/></filter><rect x="352.60" y="219.70" width="79.10" height="52.60" fill="#000" filter="url(#nz37)" opacity="0.75"/><filter id="nz38" x="0" y="0" width="1" height="1" filterUnits="objectBoundingBox" color-interpolation-filters="sRGB"><feTurbulence type="fractalNoise" baseFrequency="0.3" numOctaves="2" seed="118" result="t"/><feColorMatrix in="t" type="matrix" values="0 0 0 0 0.541 0 0 0 0 0.612 0 0 0 0 0.737 5 0 0 0 -2.6" result="c"/><feComposite in="c" in2="SourceGraphic" operator="in"/></filter><rect x="352.60" y="219.70" width="79.10" height="52.60" fill="#000" filter="url(#nz38)" opacity="0.7"/><filter id="nz39" x="0" y="0" width="1" height="1" filterUnits="objectBoundingBox" color-interpolation-filters="sRGB"><feTurbulence type="fractalNoise" baseFrequency="0.15" numOctaves="2" seed="125" result="t"/><feColorMatrix in="t" type="matrix" values="0 0 0 0 0.894 0 0 0 0 0.918 0 0 0 0 0.925 5 0 0 0 -2.9" result="c"/><feComposite in="c" in2="SourceGraphic" operator="in"/></filter><rect x="352.60" y="219.70" width="79.10" height="52.60" fill="#000" filter="url(#nz39)" opacity="1.0"/><filter id="nz40" x="0" y="0" width="1" height="1" filterUnits="objectBoundingBox" color-interpolation-filters="sRGB"><feTurbulence type="fractalNoise" baseFrequency="0.06" numOctaves="2" seed="132" result="t"/><feColorMatrix in="t" type="matrix" values="0 0 0 0 0.353 0 0 0 0 0.290 0 0 0 0 0.282 6 0 0 0 -3.9" result="c"/><feComposite in="c" in2="SourceGraphic" operator="in"/></filter><rect x="352.60" y="219.70" width="79.10" height="52.60" fill="#000" filter="url(#nz40)" opacity="0.6"/><rect x="433.60" y="219.70" width="79.60" height="52.60" fill="#0e1636"/><filter id="nz41" x="0" y="0" width="1" height="1" filterUnits="objectBoundingBox" color-interpolation-filters="sRGB"><feTurbulence type="fractalNoise" baseFrequency="0.1" numOctaves="2" seed="121" result="t"/><feColorMatrix in="t" type="matrix" values="0 0 0 0 0.149 0 0 0 0 0.259 0 0 0 0 0.659 5 0 0 0 -2.3" result="c"/><feComposite in="c" in2="SourceGraphic" operator="in"/></filter><rect x="433.60" y="219.70" width="79.60" height="52.60" fill="#000" filter="url(#nz41)" opacity="1.0"/><filter id="nz42" x="0" y="0" width="1" height="1" filterUnits="objectBoundingBox" color-interpolation-filters="sRGB"><feTurbulence type="fractalNoise" baseFrequency="0.3" numOctaves="2" seed="128" result="t"/><feColorMatrix in="t" type="matrix" values="0 0 0 0 0.878 0 0 0 0 0.439 0 0 0 0 0.502 14 0 0 0 -10.0" result="c"/><feComposite in="c" in2="SourceGraphic" operator="in"/></filter><rect x="433.60" y="219.70" width="79.60" height="52.60" fill="#000" filter="url(#nz42)" opacity="0.7"/><filter id="nz43" x="0" y="0" width="1" height="1" filterUnits="objectBoundingBox" color-interpolation-filters="sRGB"><feTurbulence type="fractalNoise" baseFrequency="0.3" numOctaves="2" seed="135" result="t"/><feColorMatrix in="t" type="matrix" values="0 0 0 0 0.251 0 0 0 0 0.627 0 0 0 0 0.376 10 0 0 0 -7.2" result="c"/><feComposite in="c" in2="SourceGraphic" operator="in"/></filter><rect x="433.60" y="219.70" width="79.60" height="52.60" fill="#000" filter="url(#nz43)" opacity="0.6"/><rect x="399.30" y="247.10" width="32.30" height="25.20" fill="#1a2858"/><filter id="nz44" x="0" y="0" width="1" height="1" filterUnits="objectBoundingBox" color-interpolation-filters="sRGB"><feTurbulence type="fractalNoise" baseFrequency="0.15" numOctaves="2" seed="131" result="t"/><feColorMatrix in="t" type="matrix" values="0 0 0 0 0.165 0 0 0 0 0.235 0 0 0 0 0.502 5 0 0 0 -2.6" result="c"/><feComposite in="c" in2="SourceGraphic" operator="in"/></filter><rect x="399.30" y="247.10" width="32.30" height="25.20" fill="#000" filter="url(#nz44)" opacity="0.8"/><filter id="nz45" x="0" y="0" width="1" height="1" filterUnits="objectBoundingBox" color-interpolation-filters="sRGB"><feTurbulence type="fractalNoise" baseFrequency="0.3" numOctaves="2" seed="138" result="t"/><feColorMatrix in="t" type="matrix" values="0 0 0 0 0.165 0 0 0 0 0.439 0 0 0 0 0.502 8 0 0 0 -5.0" result="c"/><feComposite in="c" in2="SourceGraphic" operator="in"/></filter><rect x="399.30" y="247.10" width="32.30" height="25.20" fill="#000" filter="url(#nz45)" opacity="0.5"/><ellipse cx="410.4" cy="265.5" rx="1.3" ry="2.8" fill="#d0b060" opacity="0.9"/><rect x="414.00" y="269.30" width="15.50" height="1.20" fill="#c8c8c8"/><rect x="352.60" y="164.90" width="19.80" height="9.60" fill="#fff"/><text x="362.50" y="172.60" font-size="6.5" text-anchor="middle" fill="#231f20" stroke="#231f20" stroke-width="0.12">HE</text><rect x="433.60" y="164.90" width="19.30" height="9.40" fill="#fff"/><text x="443.25" y="172.40" font-size="6.4" text-anchor="middle" fill="#231f20" stroke="#231f20" stroke-width="0.12">AFP</text><rect x="352.60" y="219.70" width="21.90" height="9.00" fill="#fff"/><text x="363.55" y="226.80" font-size="5.6" text-anchor="middle" fill="#231f20" stroke="#231f20" stroke-width="0.12">ERBB2</text><rect x="433.60" y="219.70" width="21.90" height="9.40" fill="#fff"/><text x="444.55" y="227.20" font-size="5.7" text-anchor="middle" fill="#231f20" stroke="#231f20" stroke-width="0.12">CCNE1</text><rect x="422.00" y="212.00" width="4.50" height="1.20" fill="#222"/><rect x="503.00" y="212.00" width="4.50" height="1.20" fill="#222"/><rect x="494.00" y="268.40" width="15.00" height="1.20" fill="#bbb"/><line x1="542.50" y1="171.80" x2="542.50" y2="239.20" stroke="#cfcfcf" stroke-width="0.8"/><path d="M542.9 215.4V228.8M543.4 212.6V225.1M544.0 214.2V228.7M544.5 213.0V225.8M545.1 215.6V227.9M545.6 214.2V227.3M546.2 214.5V227.9M546.7 214.1V227.9M547.3 212.5V227.2M547.8 214.8V227.7M548.4 213.0V226.8M548.9 215.1V227.4M549.5 212.6V228.3M550.0 213.5V228.8M550.6 215.8V226.2M551.1 214.5V228.3M551.7 213.6V229.2M552.2 215.2V227.1M552.8 213.0V227.2M553.3 214.6V228.1M553.9 213.4V226.6M554.4 215.2V227.5M555.0 212.8V226.6M555.5 213.2V228.9M556.1 215.5V225.8M556.6 214.9V225.8" stroke="#eb9d66" stroke-width="0.8" fill="none"/><path fill="#eb9d66" d="M556.2 229.0h.8v.8h-.8zM548.6 229.9h.8v.8h-.8zM544.8 211.4h.8v.8h-.8zM546.2 228.2h.8v.8h-.8zM552.4 232.9h.8v.8h-.8zM547.8 213.1h.8v.8h-.8zM552.7 228.9h.8v.8h-.8zM554.2 210.9h.8v.8h-.8zM545.2 229.8h.8v.8h-.8z"/><path d="M558.8 210.2V223.4M559.3 212.4V222.4M559.9 213.0V222.0M560.4 210.9V222.6M561.0 212.3V222.8M561.5 212.4V221.1M562.1 210.3V223.9M562.6 211.0V224.5M563.2 212.2V222.1M563.7 212.2V222.5M564.3 210.5V223.5M564.8 209.4V222.5M565.4 212.3V221.5M565.9 210.9V224.1M566.5 212.4V223.0M567.0 209.1V220.6M567.6 209.5V222.6M568.1 212.4V223.6M568.7 211.8V222.7M569.2 210.2V221.6M569.8 211.6V223.4M570.3 209.9V223.0M570.9 210.3V221.5M571.4 212.3V223.1M572.0 211.1V221.8M572.5 209.6V221.0M573.1 212.0V222.0M573.6 212.3V223.0M574.2 209.5V221.4M574.7 210.9V222.7M575.3 211.7V222.2M575.8 209.7V223.3M576.4 212.3V222.6M576.9 211.4V221.2M577.5 212.3V222.8M578.0 208.9V222.7M578.6 208.8V221.9M579.1 212.0V222.3M579.7 211.5V222.3M580.2 210.4V222.0M580.8 211.9V223.8M581.3 212.8V223.6M581.9 212.5V222.9M582.4 211.0V222.2M583.0 210.8V221.9M583.5 212.7V224.2M584.1 212.2V223.3M584.6 212.8V222.8M585.2 211.5V222.8M585.7 211.3V221.4M586.3 210.7V220.9M586.8 212.6V222.2M587.4 210.3V222.3M587.9 211.9V223.4M588.5 212.0V223.0M589.0 212.3V223.9M589.6 210.1V221.0M590.1 212.0V220.9M590.7 212.8V222.8M591.2 212.2V223.4M591.8 209.9V222.8M592.3 210.2V223.0M592.9 211.5V222.4M593.4 210.5V223.1M594.0 211.7V221.3" stroke="#eb9d66" stroke-width="0.8" fill="none"/><path fill="#eb9d66" d="M585.0 207.9h.8v.8h-.8zM560.3 210.0h.8v.8h-.8zM578.3 223.2h.8v.8h-.8zM591.1 223.7h.8v.8h-.8zM565.7 210.1h.8v.8h-.8zM593.9 209.9h.8v.8h-.8zM559.5 223.3h.8v.8h-.8zM568.0 224.5h.8v.8h-.8zM569.1 207.0h.8v.8h-.8zM579.7 208.8h.8v.8h-.8zM583.3 205.0h.8v.8h-.8zM559.3 201.2h.8v.8h-.8zM576.1 206.6h.8v.8h-.8zM587.2 223.3h.8v.8h-.8zM580.8 207.0h.8v.8h-.8zM593.1 209.3h.8v.8h-.8zM589.8 223.9h.8v.8h-.8zM577.6 206.3h.8v.8h-.8zM579.7 223.6h.8v.8h-.8zM587.9 209.5h.8v.8h-.8zM575.4 209.5h.8v.8h-.8zM570.7 209.4h.8v.8h-.8zM559.5 206.6h.8v.8h-.8zM580.4 225.4h.8v.8h-.8z"/><path d="M594.3 214.2V224.0M594.8 212.9V224.4M595.4 214.3V225.5M595.9 211.1V222.9M596.5 213.9V225.7M597.0 212.9V226.6M597.6 212.6V224.1M598.1 212.3V225.1M598.7 212.2V224.3M599.2 211.8V223.7M599.8 212.3V225.9M600.3 212.7V225.8M600.9 211.0V223.2M601.4 212.4V226.0M602.0 213.7V226.0M602.5 212.2V223.0M603.1 213.7V224.8M603.6 211.3V223.2M604.2 212.3V225.7M604.7 214.0V225.1" stroke="#e57c70" stroke-width="0.8" fill="none"/><path fill="#e57c70" d="M604.9 210.0h.8v.8h-.8zM604.3 211.6h.8v.8h-.8zM596.2 210.9h.8v.8h-.8zM602.6 211.8h.8v.8h-.8zM594.5 226.7h.8v.8h-.8zM596.5 208.8h.8v.8h-.8zM601.4 226.3h.8v.8h-.8z"/><path d="M606.6 215.9V224.8M607.1 213.5V226.6M607.7 215.2V224.5M608.2 215.3V224.8M608.8 215.3V227.6M609.3 214.7V226.8M609.9 214.5V226.4M610.4 214.8V225.5M611.0 211.8V224.8M611.5 211.9V223.3M612.1 213.7V225.3M612.6 213.3V226.9M613.2 216.1V225.2M613.7 212.7V225.1M614.3 214.6V226.5M614.8 214.5V226.6M615.4 214.7V225.9M615.9 213.4V223.5M616.5 213.1V225.5M617.0 213.3V224.8M617.6 214.6V224.7M618.1 215.1V226.6M618.7 214.3V225.3M619.2 212.4V227.3M619.8 215.0V225.6M620.3 213.4V225.3M620.9 212.9V226.8M621.4 212.1V225.9M622.0 214.3V226.3M622.5 212.7V224.7M623.1 211.8V224.6M623.6 213.4V224.5M624.2 215.3V226.4M624.7 212.6V224.4M625.3 214.8V227.4M625.8 213.5V227.0M626.4 216.3V227.1M626.9 214.8V225.4M627.5 214.8V227.0M628.0 212.2V226.6M628.6 212.4V226.6M629.1 214.4V224.2M629.7 216.2V227.6M630.2 214.9V226.4M630.8 214.1V223.3M631.3 212.2V225.9M631.9 213.7V226.2M632.4 215.2V227.2M633.0 212.5V224.1M633.5 214.4V224.3M634.1 214.4V226.5M634.6 214.3V225.4M635.2 213.1V225.0M635.7 212.8V226.2M636.3 213.9V224.5M636.8 214.2V226.5M637.4 212.8V223.7M637.9 214.7V223.6M638.5 211.5V224.9M639.0 215.6V226.6M639.6 213.5V227.1M640.1 212.7V227.1M640.7 213.0V227.5M641.2 214.0V223.4M641.8 215.2V224.5M642.3 214.1V223.3M642.9 211.9V224.3M643.4 215.7V225.7M644.0 214.8V225.7M644.5 212.2V224.0" stroke="#e57c70" stroke-width="0.8" fill="none"/><path fill="#e57c70" d="M622.8 212.1h.8v.8h-.8zM612.4 209.3h.8v.8h-.8zM637.4 227.0h.8v.8h-.8zM625.8 210.9h.8v.8h-.8zM634.6 229.6h.8v.8h-.8zM632.0 229.7h.8v.8h-.8zM636.6 227.5h.8v.8h-.8zM628.0 211.6h.8v.8h-.8zM618.7 227.7h.8v.8h-.8zM631.4 211.7h.8v.8h-.8zM629.3 212.5h.8v.8h-.8zM630.7 212.2h.8v.8h-.8zM609.1 211.3h.8v.8h-.8zM632.5 212.8h.8v.8h-.8zM637.1 231.0h.8v.8h-.8zM635.9 208.8h.8v.8h-.8zM624.7 211.7h.8v.8h-.8zM624.9 239.3h.8v.8h-.8zM609.1 211.7h.8v.8h-.8zM626.8 212.5h.8v.8h-.8zM613.2 212.6h.8v.8h-.8zM642.9 227.2h.8v.8h-.8zM620.5 212.7h.8v.8h-.8zM612.5 212.1h.8v.8h-.8zM620.6 211.9h.8v.8h-.8zM610.0 212.3h.8v.8h-.8z"/><path d="M645.2 215.8V229.6M645.8 215.0V228.6M646.3 216.4V229.7M646.8 213.2V228.8M647.4 214.6V228.7M647.9 215.9V230.1M648.5 214.1V231.1M649.0 215.4V229.1M649.6 214.0V227.1M650.1 212.6V228.6M650.7 211.7V229.4" stroke="#5279c0" stroke-width="0.8" fill="none"/><path fill="#5279c0" d="M647.4 232.3h.8v.8h-.8zM646.9 211.8h.8v.8h-.8zM648.7 212.0h.8v.8h-.8zM647.4 234.6h.8v.8h-.8z"/><path d="M651.0 209.0V226.3M651.5 210.0V224.4M652.1 210.1V225.1M652.6 210.5V226.5M653.2 212.0V224.8M653.7 210.7V226.4M654.3 210.7V226.7M654.8 210.6V225.0M655.4 209.2V225.3" stroke="#5279c0" stroke-width="0.8" fill="none"/><path fill="#5279c0" d="M653.0 230.5h.8v.8h-.8zM652.4 206.8h.8v.8h-.8zM654.8 226.2h.8v.8h-.8z"/><path d="M655.9 216.6V225.0M656.4 216.4V226.2M657.0 216.5V226.2M657.5 216.6V227.4" stroke="#5279c0" stroke-width="0.8" fill="none"/><path fill="#5279c0" d="M657.5 238.5h.8v.8h-.8z"/><path d="M658.0 210.4V222.2M658.5 212.4V222.5M659.1 212.1V222.3M659.6 213.3V225.4M660.2 212.0V223.5" stroke="#5279c0" stroke-width="0.8" fill="none"/><path fill="#5279c0" d="M658.1 210.7h.8v.8h-.8z"/><path d="M663.4 212.6V220.0M663.9 213.3V219.4M664.5 211.0V219.8M665.0 212.7V220.3M665.6 212.6V220.4" stroke="#5279c0" stroke-width="0.8" fill="none"/><path fill="#5279c0" d="M664.9 211.6h.8v.8h-.8z"/><path d="M665.6 215.5V229.8M666.1 218.0V228.6M666.7 217.8V230.1M667.2 216.4V228.6M667.8 217.8V227.4M668.3 217.0V226.2M668.9 214.6V227.4M669.4 216.3V229.6M670.0 217.8V229.3M670.5 214.8V227.7M671.1 215.9V229.3M671.6 216.4V227.0M672.2 218.5V227.8M672.7 215.0V227.3M673.3 215.2V229.6M673.8 218.0V228.4M674.4 214.6V228.6M674.9 215.2V227.0M675.5 216.5V227.4" stroke="#5279c0" stroke-width="0.8" fill="none"/><path fill="#5279c0" d="M675.4 229.8h.8v.8h-.8zM665.9 215.0h.8v.8h-.8zM668.6 229.3h.8v.8h-.8zM667.1 229.9h.8v.8h-.8zM672.7 229.0h.8v.8h-.8zM669.3 238.5h.8v.8h-.8zM675.4 229.6h.8v.8h-.8z"/><path d="M676.0 208.2V221.9M676.5 209.7V220.9M677.1 207.9V221.2M677.6 210.9V221.5M678.2 206.9V220.0M678.7 209.9V221.3M679.3 208.7V222.5M679.8 210.3V220.8M680.4 209.9V222.7M680.9 208.3V221.5M681.5 209.4V220.9M682.0 207.7V221.9M682.6 210.7V221.8M683.1 209.0V221.0M683.7 209.3V221.1" stroke="#5279c0" stroke-width="0.8" fill="none"/><path fill="#5279c0" d="M681.1 223.5h.8v.8h-.8zM681.1 223.4h.8v.8h-.8zM682.5 207.2h.8v.8h-.8zM678.0 226.3h.8v.8h-.8zM676.9 207.3h.8v.8h-.8z"/><path d="M566.8 182.3V184.9M566.8 186.0V188.6M567.5 181.4V185.4M567.6 174.7V177.3M566.8 184.2V186.0M566.0 183.2V188.4M567.1 181.4V186.4M566.0 181.5V186.9M567.6 179.2V183.6" stroke="#eb9d66" stroke-width="0.7" fill="none"/><path d="M566.0 195.3V197.0" stroke="#eb9d66" stroke-width="0.7" fill="none"/><path d="M664.7 206.2V208.8M664.9 198.4V203.7M665.0 208.3V211.3M663.7 203.7V208.8M663.8 205.5V207.3M664.9 200.1V202.3M664.1 193.9V196.5M663.6 196.9V199.0M664.4 204.4V209.6M664.9 203.2V209.0M664.7 198.6V200.3M663.5 195.8V197.4M664.4 205.1V206.8M664.6 205.9V211.4M663.6 202.9V206.2M664.7 193.9V195.8M664.9 199.0V204.0M664.4 203.3V208.1M664.0 208.0V211.6M664.9 198.7V200.8" stroke="#5279c0" stroke-width="0.7" fill="none"/><line x1="542.50" y1="219.40" x2="683.70" y2="219.40" stroke="#5a4a4a" stroke-width="0.7"/><line x1="541.30" y1="185.00" x2="542.50" y2="185.00" stroke="#777" stroke-width="0.6"/><text x="540.90" y="186.90" font-size="5.4" text-anchor="end" fill="#7a7a7a" stroke="#7a7a7a" stroke-width="0.12">5.0</text><line x1="541.30" y1="202.20" x2="542.50" y2="202.20" stroke="#777" stroke-width="0.6"/><text x="540.90" y="204.10" font-size="5.4" text-anchor="end" fill="#7a7a7a" stroke="#7a7a7a" stroke-width="0.12">2.5</text><line x1="541.30" y1="219.40" x2="542.50" y2="219.40" stroke="#777" stroke-width="0.6"/><text x="540.90" y="221.30" font-size="5.4" text-anchor="end" fill="#7a7a7a" stroke="#7a7a7a" stroke-width="0.12">0.0</text><line x1="541.30" y1="236.60" x2="542.50" y2="236.60" stroke="#777" stroke-width="0.6"/><text x="540.90" y="238.50" font-size="5.4" text-anchor="end" fill="#7a7a7a" stroke="#7a7a7a" stroke-width="0.12">−2.5</text><text x="527.00" y="217.60" font-size="8.1" text-anchor="middle" fill="#231f20" stroke="#231f20" stroke-width="0.12" transform="rotate(-90 527.00 217.60)">Copy ratio (log<tspan font-size="5.2" dy="1.6">2</tspan><tspan dy="-1.6">)</tspan></text><line x1="570.00" y1="174.30" x2="577.50" y2="174.30" stroke="#231f20" stroke-width="0.8"/><text x="581.00" y="176.70" font-size="6.8" fill="#231f20" stroke="#231f20" stroke-width="0.12">ERBB2</text><text x="664.60" y="176.00" font-size="6.8" text-anchor="middle" fill="#231f20" stroke="#231f20" stroke-width="0.12">CCNE1</text><line x1="664.60" y1="181.40" x2="664.60" y2="188.30" stroke="#231f20" stroke-width="0.8"/><rect x="542.40" y="250.20" width="51.90" height="2.40" fill="#bc7a52"/><rect x="594.30" y="250.20" width="50.60" height="2.40" fill="#b45a4a"/><rect x="644.90" y="250.20" width="40.00" height="2.40" fill="#52689a"/><rect x="542.40" y="250.20" width="142.50" height="2.4" fill="none" stroke="#3a2a2a" stroke-width="0.45"/><line x1="594.30" y1="250.20" x2="594.30" y2="252.60" stroke="#111" stroke-width="0.8"/><line x1="644.90" y1="250.20" x2="644.90" y2="252.60" stroke="#111" stroke-width="0.8"/><text x="569.30" y="261.20" font-size="5.9" text-anchor="middle" fill="#333" stroke="#333" stroke-width="0.12">Chr17</text><text x="619.90" y="261.20" font-size="5.9" text-anchor="middle" fill="#333" stroke="#333" stroke-width="0.12">Chr18</text><text x="665.30" y="261.20" font-size="5.9" text-anchor="middle" fill="#333" stroke="#333" stroke-width="0.12">Chr19</text><text x="466.90" y="292.70" font-size="8.24" fill="#231f20" stroke="#231f20" stroke-width="0.12" xml:space="preserve">PDX8  ERBB2 (+) / CCNE1 (+)</text><text x="-0.80" y="318.70" font-size="12" font-weight="bold" fill="#1a1414">e</text><text x="203.30" y="318.70" font-size="12" font-weight="bold" fill="#1a1414">f</text><text x="385.30" y="319.30" font-size="12" font-weight="bold" fill="#1a1414">g</text><text x="569.50" y="318.40" font-size="12" font-weight="bold" fill="#1a1414">h</text><line x1="55.70" y1="411.59" x2="55.70" y2="409.23" stroke="#a0a0a0" stroke-width="0.7"/><line x1="54.30" y1="409.23" x2="57.10" y2="409.23" stroke="#a0a0a0" stroke-width="0.7"/><line x1="54.30" y1="411.59" x2="57.10" y2="411.59" stroke="#a0a0a0" stroke-width="0.7"/><line x1="78.73" y1="408.76" x2="78.73" y2="404.03" stroke="#a0a0a0" stroke-width="0.7"/><line x1="77.33" y1="404.03" x2="80.13" y2="404.03" stroke="#a0a0a0" stroke-width="0.7"/><line x1="77.33" y1="408.76" x2="80.13" y2="408.76" stroke="#a0a0a0" stroke-width="0.7"/><line x1="96.00" y1="407.46" x2="96.00" y2="399.19" stroke="#a0a0a0" stroke-width="0.7"/><line x1="94.60" y1="399.19" x2="97.40" y2="399.19" stroke="#a0a0a0" stroke-width="0.7"/><line x1="94.60" y1="407.46" x2="97.40" y2="407.46" stroke="#a0a0a0" stroke-width="0.7"/><line x1="119.03" y1="401.91" x2="119.03" y2="390.09" stroke="#a0a0a0" stroke-width="0.7"/><line x1="117.63" y1="390.09" x2="120.43" y2="390.09" stroke="#a0a0a0" stroke-width="0.7"/><line x1="117.63" y1="401.91" x2="120.43" y2="401.91" stroke="#a0a0a0" stroke-width="0.7"/><line x1="147.81" y1="394.76" x2="147.81" y2="377.04" stroke="#a0a0a0" stroke-width="0.7"/><line x1="146.41" y1="377.04" x2="149.21" y2="377.04" stroke="#a0a0a0" stroke-width="0.7"/><line x1="146.41" y1="394.76" x2="149.21" y2="394.76" stroke="#a0a0a0" stroke-width="0.7"/><line x1="176.60" y1="385.55" x2="176.60" y2="364.28" stroke="#a0a0a0" stroke-width="0.7"/><line x1="175.20" y1="364.28" x2="178.00" y2="364.28" stroke="#a0a0a0" stroke-width="0.7"/><line x1="175.20" y1="385.55" x2="178.00" y2="385.55" stroke="#a0a0a0" stroke-width="0.7"/><line x1="55.70" y1="411.95" x2="55.70" y2="409.59" stroke="#ef7a68" stroke-width="0.7"/><line x1="54.30" y1="409.59" x2="57.10" y2="409.59" stroke="#ef7a68" stroke-width="0.7"/><line x1="54.30" y1="411.95" x2="57.10" y2="411.95" stroke="#ef7a68" stroke-width="0.7"/><line x1="78.73" y1="408.41" x2="78.73" y2="404.27" stroke="#ef7a68" stroke-width="0.7"/><line x1="77.33" y1="404.27" x2="80.13" y2="404.27" stroke="#ef7a68" stroke-width="0.7"/><line x1="77.33" y1="408.41" x2="80.13" y2="408.41" stroke="#ef7a68" stroke-width="0.7"/><line x1="96.00" y1="404.57" x2="96.00" y2="398.66" stroke="#ef7a68" stroke-width="0.7"/><line x1="94.60" y1="398.66" x2="97.40" y2="398.66" stroke="#ef7a68" stroke-width="0.7"/><line x1="94.60" y1="404.57" x2="97.40" y2="404.57" stroke="#ef7a68" stroke-width="0.7"/><line x1="119.03" y1="401.32" x2="119.03" y2="393.05" stroke="#ef7a68" stroke-width="0.7"/><line x1="117.63" y1="393.05" x2="120.43" y2="393.05" stroke="#ef7a68" stroke-width="0.7"/><line x1="117.63" y1="401.32" x2="120.43" y2="401.32" stroke="#ef7a68" stroke-width="0.7"/><line x1="147.81" y1="396.71" x2="147.81" y2="387.26" stroke="#ef7a68" stroke-width="0.7"/><line x1="146.41" y1="387.26" x2="149.21" y2="387.26" stroke="#ef7a68" stroke-width="0.7"/><line x1="146.41" y1="396.71" x2="149.21" y2="396.71" stroke="#ef7a68" stroke-width="0.7"/><line x1="176.60" y1="390.69" x2="176.60" y2="375.33" stroke="#ef7a68" stroke-width="0.7"/><line x1="175.20" y1="375.33" x2="178.00" y2="375.33" stroke="#ef7a68" stroke-width="0.7"/><line x1="175.20" y1="390.69" x2="178.00" y2="390.69" stroke="#ef7a68" stroke-width="0.7"/><polyline points="55.70,410.41 78.73,406.40 96.00,403.33 119.03,396.00 147.81,385.90 176.60,374.91" fill="none" stroke="#6e6e6e" stroke-width="1.1"/><circle cx="55.70" cy="410.41" r="1.4" fill="#6e6e6e"/><circle cx="78.73" cy="406.40" r="1.4" fill="#6e6e6e"/><circle cx="96.00" cy="403.33" r="1.4" fill="#6e6e6e"/><circle cx="119.03" cy="396.00" r="1.4" fill="#6e6e6e"/><circle cx="147.81" cy="385.90" r="1.4" fill="#6e6e6e"/><circle cx="176.60" cy="374.91" r="1.4" fill="#6e6e6e"/><polyline points="55.70,410.77 78.73,406.34 96.00,401.61 119.03,397.18 147.81,391.98 176.60,383.01" fill="none" stroke="#e5311c" stroke-width="1.1"/><rect x="54.25" y="409.32" width="2.90" height="2.90" fill="#e5311c"/><rect x="77.28" y="404.89" width="2.90" height="2.90" fill="#e5311c"/><rect x="94.55" y="400.16" width="2.90" height="2.90" fill="#e5311c"/><rect x="117.58" y="395.73" width="2.90" height="2.90" fill="#e5311c"/><rect x="146.36" y="390.53" width="2.90" height="2.90" fill="#e5311c"/><rect x="175.15" y="381.56" width="2.90" height="2.90" fill="#e5311c"/><line x1="55.70" y1="332.80" x2="55.70" y2="421.80" stroke="#111" stroke-width="0.9"/><line x1="55.30" y1="421.40" x2="177.00" y2="421.40" stroke="#111" stroke-width="0.9"/><line x1="53.50" y1="421.40" x2="55.70" y2="421.40" stroke="#111" stroke-width="0.8"/><text x="52.90" y="423.60" font-size="6.1" text-anchor="end" fill="#231f20" stroke="#231f20" stroke-width="0.12">0</text><line x1="53.50" y1="391.87" x2="55.70" y2="391.87" stroke="#111" stroke-width="0.8"/><text x="52.90" y="394.07" font-size="6.1" text-anchor="end" fill="#231f20" stroke="#231f20" stroke-width="0.12">500</text><line x1="53.50" y1="362.33" x2="55.70" y2="362.33" stroke="#111" stroke-width="0.8"/><text x="52.90" y="364.53" font-size="6.1" text-anchor="end" fill="#231f20" stroke="#231f20" stroke-width="0.12">1000</text><line x1="53.50" y1="332.80" x2="55.70" y2="332.80" stroke="#111" stroke-width="0.8"/><text x="52.90" y="335.00" font-size="6.1" text-anchor="end" fill="#231f20" stroke="#231f20" stroke-width="0.12">1500</text><line x1="55.70" y1="421.40" x2="55.70" y2="423.80" stroke="#111" stroke-width="0.8"/><text x="55.70" y="430.20" font-size="6.1" text-anchor="middle" fill="#231f20" stroke="#231f20" stroke-width="0.12">0</text><line x1="72.97" y1="421.40" x2="72.97" y2="423.80" stroke="#111" stroke-width="0.8"/><text x="72.97" y="430.20" font-size="6.1" text-anchor="middle" fill="#231f20" stroke="#231f20" stroke-width="0.12">3</text><line x1="90.24" y1="421.40" x2="90.24" y2="423.80" stroke="#111" stroke-width="0.8"/><text x="90.24" y="430.20" font-size="6.1" text-anchor="middle" fill="#231f20" stroke="#231f20" stroke-width="0.12">6</text><line x1="107.51" y1="421.40" x2="107.51" y2="423.80" stroke="#111" stroke-width="0.8"/><text x="107.51" y="430.20" font-size="6.1" text-anchor="middle" fill="#231f20" stroke="#231f20" stroke-width="0.12">9</text><line x1="124.79" y1="421.40" x2="124.79" y2="423.80" stroke="#111" stroke-width="0.8"/><text x="124.79" y="430.20" font-size="6.1" text-anchor="middle" fill="#231f20" stroke="#231f20" stroke-width="0.12">12</text><line x1="142.06" y1="421.40" x2="142.06" y2="423.80" stroke="#111" stroke-width="0.8"/><text x="142.06" y="430.20" font-size="6.1" text-anchor="middle" fill="#231f20" stroke="#231f20" stroke-width="0.12">15</text><line x1="159.33" y1="421.40" x2="159.33" y2="423.80" stroke="#111" stroke-width="0.8"/><text x="159.33" y="430.20" font-size="6.1" text-anchor="middle" fill="#231f20" stroke="#231f20" stroke-width="0.12">18</text><line x1="176.60" y1="421.40" x2="176.60" y2="423.80" stroke="#111" stroke-width="0.8"/><text x="176.60" y="430.20" font-size="6.1" text-anchor="middle" fill="#231f20" stroke="#231f20" stroke-width="0.12">21</text><text x="116.15" y="440.50" font-size="6.5" text-anchor="middle" fill="#231f20" stroke="#231f20" stroke-width="0.12">Treatment time (days)</text><text x="30.80" y="377.10" font-size="6.8" text-anchor="middle" fill="#231f20" transform="rotate(-90 30.80 377.10)">Tumor volume (mm<tspan font-size="4.49" dy="-2.58">3</tspan><tspan dy="2.58">)</tspan></text><text x="113.00" y="324.30" font-size="8.2" text-anchor="middle" fill="#231f20" stroke="#231f20" stroke-width="0.12">PDX11</text><line x1="67.80" y1="337.60" x2="77.50" y2="337.60" stroke="#6e6e6e" stroke-width="1.1"/><circle cx="72.65" cy="337.60" r="1.4" fill="#6e6e6e"/><text x="80.90" y="339.80" font-size="6.7" fill="#231f20" stroke="#231f20" stroke-width="0.12">Control</text><line x1="67.80" y1="349.10" x2="77.50" y2="349.10" stroke="#e5311c" stroke-width="1.1"/><rect x="71.20" y="347.65" width="2.90" height="2.90" fill="#e5311c"/><text x="80.90" y="351.30" font-size="6.7" fill="#231f20" stroke="#231f20" stroke-width="0.12">AZD5438, 20mg/kg p.o., qd</text><path d="M181.90 374.30H185.70V384.20H181.90" fill="none" stroke="#555" stroke-width="0.6"/><text x="188.90" y="380.40" font-size="5.2" fill="#333" stroke="#333" stroke-width="0.12">n.s.</text><line x1="245.20" y1="414.39" x2="245.20" y2="412.60" stroke="#a0a0a0" stroke-width="0.7"/><line x1="243.80" y1="412.60" x2="246.60" y2="412.60" stroke="#a0a0a0" stroke-width="0.7"/><line x1="243.80" y1="414.39" x2="246.60" y2="414.39" stroke="#a0a0a0" stroke-width="0.7"/><line x1="262.74" y1="412.15" x2="262.74" y2="409.47" stroke="#a0a0a0" stroke-width="0.7"/><line x1="261.34" y1="409.47" x2="264.14" y2="409.47" stroke="#a0a0a0" stroke-width="0.7"/><line x1="261.34" y1="412.15" x2="264.14" y2="412.15" stroke="#a0a0a0" stroke-width="0.7"/><line x1="280.29" y1="409.47" x2="280.29" y2="402.31" stroke="#a0a0a0" stroke-width="0.7"/><line x1="278.89" y1="402.31" x2="281.69" y2="402.31" stroke="#a0a0a0" stroke-width="0.7"/><line x1="278.89" y1="409.47" x2="281.69" y2="409.47" stroke="#a0a0a0" stroke-width="0.7"/><line x1="303.68" y1="407.68" x2="303.68" y2="389.78" stroke="#a0a0a0" stroke-width="0.7"/><line x1="302.28" y1="389.78" x2="305.08" y2="389.78" stroke="#a0a0a0" stroke-width="0.7"/><line x1="302.28" y1="407.68" x2="305.08" y2="407.68" stroke="#a0a0a0" stroke-width="0.7"/><line x1="327.07" y1="404.55" x2="327.07" y2="379.49" stroke="#a0a0a0" stroke-width="0.7"/><line x1="325.67" y1="379.49" x2="328.47" y2="379.49" stroke="#a0a0a0" stroke-width="0.7"/><line x1="325.67" y1="404.55" x2="328.47" y2="404.55" stroke="#a0a0a0" stroke-width="0.7"/><line x1="350.46" y1="399.18" x2="350.46" y2="365.17" stroke="#a0a0a0" stroke-width="0.7"/><line x1="349.06" y1="365.17" x2="351.86" y2="365.17" stroke="#a0a0a0" stroke-width="0.7"/><line x1="349.06" y1="399.18" x2="351.86" y2="399.18" stroke="#a0a0a0" stroke-width="0.7"/><line x1="368.00" y1="392.46" x2="368.00" y2="352.19" stroke="#a0a0a0" stroke-width="0.7"/><line x1="366.60" y1="352.19" x2="369.40" y2="352.19" stroke="#a0a0a0" stroke-width="0.7"/><line x1="366.60" y1="392.46" x2="369.40" y2="392.46" stroke="#a0a0a0" stroke-width="0.7"/><line x1="245.20" y1="414.39" x2="245.20" y2="412.60" stroke="#ef7a68" stroke-width="0.7"/><line x1="243.80" y1="412.60" x2="246.60" y2="412.60" stroke="#ef7a68" stroke-width="0.7"/><line x1="243.80" y1="414.39" x2="246.60" y2="414.39" stroke="#ef7a68" stroke-width="0.7"/><line x1="262.74" y1="413.50" x2="262.74" y2="410.81" stroke="#ef7a68" stroke-width="0.7"/><line x1="261.34" y1="410.81" x2="264.14" y2="410.81" stroke="#ef7a68" stroke-width="0.7"/><line x1="261.34" y1="413.50" x2="264.14" y2="413.50" stroke="#ef7a68" stroke-width="0.7"/><line x1="280.29" y1="410.81" x2="280.29" y2="405.44" stroke="#ef7a68" stroke-width="0.7"/><line x1="278.89" y1="405.44" x2="281.69" y2="405.44" stroke="#ef7a68" stroke-width="0.7"/><line x1="278.89" y1="410.81" x2="281.69" y2="410.81" stroke="#ef7a68" stroke-width="0.7"/><line x1="303.68" y1="411.26" x2="303.68" y2="404.10" stroke="#ef7a68" stroke-width="0.7"/><line x1="302.28" y1="404.10" x2="305.08" y2="404.10" stroke="#ef7a68" stroke-width="0.7"/><line x1="302.28" y1="411.26" x2="305.08" y2="411.26" stroke="#ef7a68" stroke-width="0.7"/><line x1="327.07" y1="412.15" x2="327.07" y2="400.52" stroke="#ef7a68" stroke-width="0.7"/><line x1="325.67" y1="400.52" x2="328.47" y2="400.52" stroke="#ef7a68" stroke-width="0.7"/><line x1="325.67" y1="412.15" x2="328.47" y2="412.15" stroke="#ef7a68" stroke-width="0.7"/><line x1="350.46" y1="412.60" x2="350.46" y2="396.49" stroke="#ef7a68" stroke-width="0.7"/><line x1="349.06" y1="396.49" x2="351.86" y2="396.49" stroke="#ef7a68" stroke-width="0.7"/><line x1="349.06" y1="412.60" x2="351.86" y2="412.60" stroke="#ef7a68" stroke-width="0.7"/><line x1="368.00" y1="412.15" x2="368.00" y2="394.25" stroke="#ef7a68" stroke-width="0.7"/><line x1="366.60" y1="394.25" x2="369.40" y2="394.25" stroke="#ef7a68" stroke-width="0.7"/><line x1="366.60" y1="412.15" x2="369.40" y2="412.15" stroke="#ef7a68" stroke-width="0.7"/><polyline points="245.20,413.50 262.74,410.81 280.29,405.89 303.68,398.73 327.07,392.02 350.46,382.17 368.00,372.33" fill="none" stroke="#6e6e6e" stroke-width="1.1"/><circle cx="245.20" cy="413.50" r="1.4" fill="#6e6e6e"/><circle cx="262.74" cy="410.81" r="1.4" fill="#6e6e6e"/><circle cx="280.29" cy="405.89" r="1.4" fill="#6e6e6e"/><circle cx="303.68" cy="398.73" r="1.4" fill="#6e6e6e"/><circle cx="327.07" cy="392.02" r="1.4" fill="#6e6e6e"/><circle cx="350.46" cy="382.17" r="1.4" fill="#6e6e6e"/><circle cx="368.00" cy="372.33" r="1.4" fill="#6e6e6e"/><polyline points="245.20,413.50 262.74,412.15 280.29,408.13 303.68,407.68 327.07,406.34 350.46,404.55 368.00,403.20" fill="none" stroke="#e5311c" stroke-width="1.1"/><rect x="243.75" y="412.05" width="2.90" height="2.90" fill="#e5311c"/><rect x="261.29" y="410.70" width="2.90" height="2.90" fill="#e5311c"/><rect x="278.84" y="406.68" width="2.90" height="2.90" fill="#e5311c"/><rect x="302.23" y="406.23" width="2.90" height="2.90" fill="#e5311c"/><rect x="325.62" y="404.89" width="2.90" height="2.90" fill="#e5311c"/><rect x="349.01" y="403.10" width="2.90" height="2.90" fill="#e5311c"/><rect x="366.55" y="401.75" width="2.90" height="2.90" fill="#e5311c"/><line x1="245.20" y1="332.50" x2="245.20" y2="422.40" stroke="#111" stroke-width="0.9"/><line x1="244.80" y1="422.00" x2="368.40" y2="422.00" stroke="#111" stroke-width="0.9"/><line x1="243.00" y1="422.00" x2="245.20" y2="422.00" stroke="#111" stroke-width="0.8"/><text x="242.40" y="424.20" font-size="6.1" text-anchor="end" fill="#231f20" stroke="#231f20" stroke-width="0.12">0</text><line x1="243.00" y1="399.62" x2="245.20" y2="399.62" stroke="#111" stroke-width="0.8"/><text x="242.40" y="401.82" font-size="6.1" text-anchor="end" fill="#231f20" stroke="#231f20" stroke-width="0.12">500</text><line x1="243.00" y1="377.25" x2="245.20" y2="377.25" stroke="#111" stroke-width="0.8"/><text x="242.40" y="379.45" font-size="6.1" text-anchor="end" fill="#231f20" stroke="#231f20" stroke-width="0.12">1000</text><line x1="243.00" y1="354.88" x2="245.20" y2="354.88" stroke="#111" stroke-width="0.8"/><text x="242.40" y="357.07" font-size="6.1" text-anchor="end" fill="#231f20" stroke="#231f20" stroke-width="0.12">1500</text><line x1="243.00" y1="332.50" x2="245.20" y2="332.50" stroke="#111" stroke-width="0.8"/><text x="242.40" y="334.70" font-size="6.1" text-anchor="end" fill="#231f20" stroke="#231f20" stroke-width="0.12">2000</text><line x1="245.20" y1="422.00" x2="245.20" y2="424.40" stroke="#111" stroke-width="0.8"/><text x="245.20" y="430.80" font-size="6.1" text-anchor="middle" fill="#231f20" stroke="#231f20" stroke-width="0.12">0</text><line x1="262.74" y1="422.00" x2="262.74" y2="424.40" stroke="#111" stroke-width="0.8"/><text x="262.74" y="430.80" font-size="6.1" text-anchor="middle" fill="#231f20" stroke="#231f20" stroke-width="0.12">3</text><line x1="280.29" y1="422.00" x2="280.29" y2="424.40" stroke="#111" stroke-width="0.8"/><text x="280.29" y="430.80" font-size="6.1" text-anchor="middle" fill="#231f20" stroke="#231f20" stroke-width="0.12">6</text><line x1="297.83" y1="422.00" x2="297.83" y2="424.40" stroke="#111" stroke-width="0.8"/><text x="297.83" y="430.80" font-size="6.1" text-anchor="middle" fill="#231f20" stroke="#231f20" stroke-width="0.12">9</text><line x1="315.37" y1="422.00" x2="315.37" y2="424.40" stroke="#111" stroke-width="0.8"/><text x="315.37" y="430.80" font-size="6.1" text-anchor="middle" fill="#231f20" stroke="#231f20" stroke-width="0.12">12</text><line x1="332.91" y1="422.00" x2="332.91" y2="424.40" stroke="#111" stroke-width="0.8"/><text x="332.91" y="430.80" font-size="6.1" text-anchor="middle" fill="#231f20" stroke="#231f20" stroke-width="0.12">15</text><line x1="350.46" y1="422.00" x2="350.46" y2="424.40" stroke="#111" stroke-width="0.8"/><text x="350.46" y="430.80" font-size="6.1" text-anchor="middle" fill="#231f20" stroke="#231f20" stroke-width="0.12">18</text><line x1="368.00" y1="422.00" x2="368.00" y2="424.40" stroke="#111" stroke-width="0.8"/><text x="368.00" y="430.80" font-size="6.1" text-anchor="middle" fill="#231f20" stroke="#231f20" stroke-width="0.12">21</text><text x="306.60" y="441.50" font-size="6.5" text-anchor="middle" fill="#231f20" stroke="#231f20" stroke-width="0.12">Treatment time (days)</text><text x="220.40" y="377.25" font-size="6.8" text-anchor="middle" fill="#231f20" transform="rotate(-90 220.40 377.25)">Tumor volume (mm<tspan font-size="4.49" dy="-2.58">3</tspan><tspan dy="2.58">)</tspan></text><text x="302.90" y="324.70" font-size="8.2" text-anchor="middle" fill="#231f20" stroke="#231f20" stroke-width="0.12">PDX5</text><line x1="257.00" y1="336.90" x2="266.00" y2="336.90" stroke="#6e6e6e" stroke-width="1.1"/><circle cx="261.50" cy="336.90" r="1.4" fill="#6e6e6e"/><text x="270.00" y="339.10" font-size="6.7" fill="#231f20" stroke="#231f20" stroke-width="0.12">Control</text><line x1="257.00" y1="348.50" x2="266.00" y2="348.50" stroke="#e5311c" stroke-width="1.1"/><rect x="260.05" y="347.05" width="2.90" height="2.90" fill="#e5311c"/><text x="270.00" y="350.70" font-size="6.7" fill="#231f20" stroke="#231f20" stroke-width="0.12">AZD5438, 20mg/kg p.o., qd</text><path d="M371.50 371.50H374.50V403.30H371.50" fill="none" stroke="#555" stroke-width="0.6"/><text x="376.60" y="388.60" font-size="5.5" fill="#333" stroke="#333" stroke-width="0.12">*</text><line x1="435.10" y1="413.31" x2="435.10" y2="411.51" stroke="#a0a0a0" stroke-width="0.7"/><line x1="433.70" y1="411.51" x2="436.50" y2="411.51" stroke="#a0a0a0" stroke-width="0.7"/><line x1="433.70" y1="413.31" x2="436.50" y2="413.31" stroke="#a0a0a0" stroke-width="0.7"/><line x1="454.60" y1="407.91" x2="454.60" y2="403.42" stroke="#a0a0a0" stroke-width="0.7"/><line x1="453.20" y1="403.42" x2="456.00" y2="403.42" stroke="#a0a0a0" stroke-width="0.7"/><line x1="453.20" y1="407.91" x2="456.00" y2="407.91" stroke="#a0a0a0" stroke-width="0.7"/><line x1="474.10" y1="402.52" x2="474.10" y2="391.73" stroke="#a0a0a0" stroke-width="0.7"/><line x1="472.70" y1="391.73" x2="475.50" y2="391.73" stroke="#a0a0a0" stroke-width="0.7"/><line x1="472.70" y1="402.52" x2="475.50" y2="402.52" stroke="#a0a0a0" stroke-width="0.7"/><line x1="500.10" y1="396.68" x2="500.10" y2="381.39" stroke="#a0a0a0" stroke-width="0.7"/><line x1="498.70" y1="381.39" x2="501.50" y2="381.39" stroke="#a0a0a0" stroke-width="0.7"/><line x1="498.70" y1="396.68" x2="501.50" y2="396.68" stroke="#a0a0a0" stroke-width="0.7"/><line x1="526.10" y1="386.34" x2="526.10" y2="362.07" stroke="#a0a0a0" stroke-width="0.7"/><line x1="524.70" y1="362.07" x2="527.50" y2="362.07" stroke="#a0a0a0" stroke-width="0.7"/><line x1="524.70" y1="386.34" x2="527.50" y2="386.34" stroke="#a0a0a0" stroke-width="0.7"/><line x1="552.10" y1="372.40" x2="552.10" y2="342.74" stroke="#a0a0a0" stroke-width="0.7"/><line x1="550.70" y1="342.74" x2="553.50" y2="342.74" stroke="#a0a0a0" stroke-width="0.7"/><line x1="550.70" y1="372.40" x2="553.50" y2="372.40" stroke="#a0a0a0" stroke-width="0.7"/><line x1="435.10" y1="413.98" x2="435.10" y2="412.63" stroke="#ef7a68" stroke-width="0.7"/><line x1="433.70" y1="412.63" x2="436.50" y2="412.63" stroke="#ef7a68" stroke-width="0.7"/><line x1="433.70" y1="413.98" x2="436.50" y2="413.98" stroke="#ef7a68" stroke-width="0.7"/><line x1="454.60" y1="412.41" x2="454.60" y2="409.71" stroke="#ef7a68" stroke-width="0.7"/><line x1="453.20" y1="409.71" x2="456.00" y2="409.71" stroke="#ef7a68" stroke-width="0.7"/><line x1="453.20" y1="412.41" x2="456.00" y2="412.41" stroke="#ef7a68" stroke-width="0.7"/><line x1="474.10" y1="411.96" x2="474.10" y2="409.26" stroke="#ef7a68" stroke-width="0.7"/><line x1="472.70" y1="409.26" x2="475.50" y2="409.26" stroke="#ef7a68" stroke-width="0.7"/><line x1="472.70" y1="411.96" x2="475.50" y2="411.96" stroke="#ef7a68" stroke-width="0.7"/><line x1="500.10" y1="410.61" x2="500.10" y2="406.12" stroke="#ef7a68" stroke-width="0.7"/><line x1="498.70" y1="406.12" x2="501.50" y2="406.12" stroke="#ef7a68" stroke-width="0.7"/><line x1="498.70" y1="410.61" x2="501.50" y2="410.61" stroke="#ef7a68" stroke-width="0.7"/><line x1="526.10" y1="410.61" x2="526.10" y2="401.62" stroke="#ef7a68" stroke-width="0.7"/><line x1="524.70" y1="401.62" x2="527.50" y2="401.62" stroke="#ef7a68" stroke-width="0.7"/><line x1="524.70" y1="410.61" x2="527.50" y2="410.61" stroke="#ef7a68" stroke-width="0.7"/><line x1="552.10" y1="411.96" x2="552.10" y2="394.88" stroke="#ef7a68" stroke-width="0.7"/><line x1="550.70" y1="394.88" x2="553.50" y2="394.88" stroke="#ef7a68" stroke-width="0.7"/><line x1="550.70" y1="411.96" x2="553.50" y2="411.96" stroke="#ef7a68" stroke-width="0.7"/><polyline points="435.10,412.41 454.60,405.67 474.10,397.13 500.10,389.04 526.10,374.20 552.10,357.57" fill="none" stroke="#6e6e6e" stroke-width="1.1"/><circle cx="435.10" cy="412.41" r="1.4" fill="#6e6e6e"/><circle cx="454.60" cy="405.67" r="1.4" fill="#6e6e6e"/><circle cx="474.10" cy="397.13" r="1.4" fill="#6e6e6e"/><circle cx="500.10" cy="389.04" r="1.4" fill="#6e6e6e"/><circle cx="526.10" cy="374.20" r="1.4" fill="#6e6e6e"/><circle cx="552.10" cy="357.57" r="1.4" fill="#6e6e6e"/><polyline points="435.10,413.31 454.60,411.06 474.10,410.61 500.10,408.36 526.10,406.12 552.10,403.42" fill="none" stroke="#e5311c" stroke-width="1.1"/><rect x="433.65" y="411.86" width="2.90" height="2.90" fill="#e5311c"/><rect x="453.15" y="409.61" width="2.90" height="2.90" fill="#e5311c"/><rect x="472.65" y="409.16" width="2.90" height="2.90" fill="#e5311c"/><rect x="498.65" y="406.91" width="2.90" height="2.90" fill="#e5311c"/><rect x="524.65" y="404.67" width="2.90" height="2.90" fill="#e5311c"/><rect x="550.65" y="401.97" width="2.90" height="2.90" fill="#e5311c"/><line x1="435.10" y1="331.50" x2="435.10" y2="421.80" stroke="#111" stroke-width="0.9"/><line x1="434.70" y1="421.40" x2="552.50" y2="421.40" stroke="#111" stroke-width="0.9"/><line x1="432.90" y1="421.40" x2="435.10" y2="421.40" stroke="#111" stroke-width="0.8"/><text x="432.30" y="423.60" font-size="6.1" text-anchor="end" fill="#231f20" stroke="#231f20" stroke-width="0.12">0</text><line x1="432.90" y1="398.92" x2="435.10" y2="398.92" stroke="#111" stroke-width="0.8"/><text x="432.30" y="401.12" font-size="6.1" text-anchor="end" fill="#231f20" stroke="#231f20" stroke-width="0.12">500</text><line x1="432.90" y1="376.45" x2="435.10" y2="376.45" stroke="#111" stroke-width="0.8"/><text x="432.30" y="378.65" font-size="6.1" text-anchor="end" fill="#231f20" stroke="#231f20" stroke-width="0.12">1000</text><line x1="432.90" y1="353.98" x2="435.10" y2="353.98" stroke="#111" stroke-width="0.8"/><text x="432.30" y="356.18" font-size="6.1" text-anchor="end" fill="#231f20" stroke="#231f20" stroke-width="0.12">1500</text><line x1="432.90" y1="331.50" x2="435.10" y2="331.50" stroke="#111" stroke-width="0.8"/><text x="432.30" y="333.70" font-size="6.1" text-anchor="end" fill="#231f20" stroke="#231f20" stroke-width="0.12">2000</text><line x1="435.10" y1="421.40" x2="435.10" y2="423.80" stroke="#111" stroke-width="0.8"/><text x="435.10" y="430.20" font-size="6.1" text-anchor="middle" fill="#231f20" stroke="#231f20" stroke-width="0.12">0</text><line x1="454.60" y1="421.40" x2="454.60" y2="423.80" stroke="#111" stroke-width="0.8"/><text x="454.60" y="430.20" font-size="6.1" text-anchor="middle" fill="#231f20" stroke="#231f20" stroke-width="0.12">3</text><line x1="474.10" y1="421.40" x2="474.10" y2="423.80" stroke="#111" stroke-width="0.8"/><text x="474.10" y="430.20" font-size="6.1" text-anchor="middle" fill="#231f20" stroke="#231f20" stroke-width="0.12">6</text><line x1="493.60" y1="421.40" x2="493.60" y2="423.80" stroke="#111" stroke-width="0.8"/><text x="493.60" y="430.20" font-size="6.1" text-anchor="middle" fill="#231f20" stroke="#231f20" stroke-width="0.12">9</text><line x1="513.10" y1="421.40" x2="513.10" y2="423.80" stroke="#111" stroke-width="0.8"/><text x="513.10" y="430.20" font-size="6.1" text-anchor="middle" fill="#231f20" stroke="#231f20" stroke-width="0.12">12</text><line x1="532.60" y1="421.40" x2="532.60" y2="423.80" stroke="#111" stroke-width="0.8"/><text x="532.60" y="430.20" font-size="6.1" text-anchor="middle" fill="#231f20" stroke="#231f20" stroke-width="0.12">15</text><line x1="552.10" y1="421.40" x2="552.10" y2="423.80" stroke="#111" stroke-width="0.8"/><text x="552.10" y="430.20" font-size="6.1" text-anchor="middle" fill="#231f20" stroke="#231f20" stroke-width="0.12">18</text><text x="493.60" y="441.00" font-size="6.5" text-anchor="middle" fill="#231f20" stroke="#231f20" stroke-width="0.12">Treatment time (days)</text><text x="409.80" y="376.45" font-size="6.8" text-anchor="middle" fill="#231f20" transform="rotate(-90 409.80 376.45)">Tumor volume (mm<tspan font-size="4.49" dy="-2.58">3</tspan><tspan dy="2.58">)</tspan></text><text x="492.70" y="324.80" font-size="8.2" text-anchor="middle" fill="#231f20" stroke="#231f20" stroke-width="0.12">PDX2</text><line x1="446.70" y1="336.80" x2="455.90" y2="336.80" stroke="#6e6e6e" stroke-width="1.1"/><circle cx="451.30" cy="336.80" r="1.4" fill="#6e6e6e"/><text x="459.80" y="339.00" font-size="6.7" fill="#231f20" stroke="#231f20" stroke-width="0.12">Control</text><line x1="446.70" y1="348.10" x2="455.90" y2="348.10" stroke="#e5311c" stroke-width="1.1"/><rect x="449.85" y="346.65" width="2.90" height="2.90" fill="#e5311c"/><text x="459.80" y="350.30" font-size="6.7" fill="#231f20" stroke="#231f20" stroke-width="0.12">AZD5438, 20mg/kg p.o., qd</text><path d="M558.40 357.50H561.60V400.70H558.40" fill="none" stroke="#555" stroke-width="0.6"/><text x="561.80" y="378.40" font-size="5.0" text-anchor="middle" fill="#231f20" stroke="#231f20" stroke-width="0.12" transform="rotate(90 561.80 378.40)">***</text><rect x="618.80" y="434.00" width="12.40" height="18.10" fill="#e5311c"/><rect x="640.40" y="385.18" width="12.60" height="66.92" fill="#e5311c"/><rect x="662.30" y="374.21" width="12.70" height="77.89" fill="#e5311c"/><line x1="625.00" y1="442.23" x2="625.00" y2="425.77" stroke="#111" stroke-width="0.7"/><line x1="622.30" y1="425.77" x2="627.70" y2="425.77" stroke="#111" stroke-width="0.7"/><line x1="622.30" y1="442.23" x2="627.70" y2="442.23" stroke="#111" stroke-width="0.7"/><g fill="#111"><circle cx="625.00" cy="425.77" r="1.0"/><circle cx="624.00" cy="430.16" r="1.0"/><circle cx="626.80" cy="433.45" r="1.0"/><circle cx="623.50" cy="441.13" r="1.0"/><circle cx="625.00" cy="446.07" r="1.0"/></g><line x1="646.70" y1="393.96" x2="646.70" y2="376.41" stroke="#111" stroke-width="0.7"/><line x1="644.00" y1="376.41" x2="649.40" y2="376.41" stroke="#111" stroke-width="0.7"/><line x1="644.00" y1="393.96" x2="649.40" y2="393.96" stroke="#111" stroke-width="0.7"/><g fill="#111"><circle cx="646.70" cy="376.41" r="1.0"/><circle cx="646.70" cy="380.80" r="1.0"/><circle cx="646.70" cy="388.47" r="1.0"/><circle cx="646.70" cy="392.86" r="1.0"/><circle cx="646.70" cy="395.06" r="1.0"/></g><line x1="668.65" y1="383.54" x2="668.65" y2="364.89" stroke="#111" stroke-width="0.7"/><line x1="665.95" y1="364.89" x2="671.35" y2="364.89" stroke="#111" stroke-width="0.7"/><line x1="665.95" y1="383.54" x2="671.35" y2="383.54" stroke="#111" stroke-width="0.7"/><g fill="#111"><circle cx="667.65" cy="365.44" r="1.0"/><circle cx="670.15" cy="369.82" r="1.0"/><circle cx="668.65" cy="373.12" r="1.0"/><circle cx="668.15" cy="386.28" r="1.0"/><circle cx="669.15" cy="375.31" r="1.0"/></g><line x1="611.80" y1="342.40" x2="611.80" y2="452.60" stroke="#222" stroke-width="1.15"/><line x1="611.30" y1="452.10" x2="681.40" y2="452.10" stroke="#222" stroke-width="1.15"/><line x1="609.60" y1="452.10" x2="611.80" y2="452.10" stroke="#222" stroke-width="0.8"/><text x="609.00" y="454.91" font-size="7.8" text-anchor="end" fill="#231f20" stroke="#231f20" stroke-width="0.12">0</text><line x1="609.60" y1="430.16" x2="611.80" y2="430.16" stroke="#222" stroke-width="0.8"/><text x="609.00" y="432.97" font-size="7.8" text-anchor="end" fill="#231f20" stroke="#231f20" stroke-width="0.12">20</text><line x1="609.60" y1="408.22" x2="611.80" y2="408.22" stroke="#222" stroke-width="0.8"/><text x="609.00" y="411.03" font-size="7.8" text-anchor="end" fill="#231f20" stroke="#231f20" stroke-width="0.12">40</text><line x1="609.60" y1="386.28" x2="611.80" y2="386.28" stroke="#222" stroke-width="0.8"/><text x="609.00" y="389.09" font-size="7.8" text-anchor="end" fill="#231f20" stroke="#231f20" stroke-width="0.12">60</text><line x1="609.60" y1="364.34" x2="611.80" y2="364.34" stroke="#222" stroke-width="0.8"/><text x="609.00" y="367.15" font-size="7.8" text-anchor="end" fill="#231f20" stroke="#231f20" stroke-width="0.12">80</text><line x1="609.60" y1="342.40" x2="611.80" y2="342.40" stroke="#222" stroke-width="0.8"/><text x="609.00" y="345.21" font-size="7.8" text-anchor="end" fill="#231f20" stroke="#231f20" stroke-width="0.12">100</text><line x1="625.00" y1="452.10" x2="625.00" y2="455.10" stroke="#222" stroke-width="0.8"/><text x="627.00" y="461.90" font-size="7.5" text-anchor="end" fill="#231f20" stroke="#231f20" stroke-width="0.12" transform="rotate(-45 627.00 461.90)">PDX11</text><line x1="646.70" y1="452.10" x2="646.70" y2="455.10" stroke="#222" stroke-width="0.8"/><text x="648.70" y="461.90" font-size="7.5" text-anchor="end" fill="#231f20" stroke="#231f20" stroke-width="0.12" transform="rotate(-45 648.70 461.90)">PDX5</text><line x1="668.65" y1="452.10" x2="668.65" y2="455.10" stroke="#222" stroke-width="0.8"/><text x="670.65" y="461.90" font-size="7.5" text-anchor="end" fill="#231f20" stroke="#231f20" stroke-width="0.12" transform="rotate(-45 670.65 461.90)">PDX2</text><text x="645.00" y="326.00" font-size="7.8" text-anchor="middle" fill="#231f20" stroke="#231f20" stroke-width="0.12">AZD5438</text><text x="588.20" y="396.50" font-size="8.34" text-anchor="middle" fill="#231f20" stroke="#231f20" stroke-width="0.12" transform="rotate(-90 588.20 396.50)">% Tumor growth inhibition</text><rect x="50.10" y="454.00" width="131.50" height="50.00" fill="#7ac4ce"/><radialGradient id="tg1" cx="0.42" cy="0.38" r="0.7"><stop offset="0" stop-color="#fce2d0"/><stop offset="0.55" stop-color="#f2b4a0"/><stop offset="1" stop-color="#f2b4a0"/></radialGradient><g transform="rotate(0 60.00 465.20)"><g fill="#4a9aa8" opacity="0.5"><ellipse cx="61.20" cy="466.10" rx="8.00" ry="7.00"/><ellipse cx="59.09" cy="467.71" rx="5.57" ry="5.18"/><ellipse cx="58.41" cy="465.90" rx="5.70" ry="4.82"/></g><g fill="url(#tg1)"><ellipse cx="60.00" cy="465.20" rx="8.00" ry="7.00"/><ellipse cx="57.89" cy="466.81" rx="5.57" ry="5.18"/><ellipse cx="57.21" cy="465.00" rx="5.70" ry="4.82"/></g></g><radialGradient id="tg2" cx="0.42" cy="0.38" r="0.7"><stop offset="0" stop-color="#fce2d0"/><stop offset="0.55" stop-color="#f2b4a0"/><stop offset="1" stop-color="#f2b4a0"/></radialGradient><g transform="rotate(0 91.00 464.00)"><g fill="#4a9aa8" opacity="0.5"><ellipse cx="92.20" cy="464.90" rx="7.00" ry="7.00"/><ellipse cx="90.82" cy="462.87" rx="4.86" ry="4.27"/><ellipse cx="92.70" cy="462.50" rx="5.04" ry="4.99"/></g><g fill="url(#tg2)"><ellipse cx="91.00" cy="464.00" rx="7.00" ry="7.00"/><ellipse cx="89.62" cy="461.97" rx="4.86" ry="4.27"/><ellipse cx="91.50" cy="461.60" rx="5.04" ry="4.99"/></g></g><radialGradient id="tg3" cx="0.42" cy="0.38" r="0.7"><stop offset="0" stop-color="#fce2d0"/><stop offset="0.55" stop-color="#f2b4a0"/><stop offset="1" stop-color="#f2b4a0"/></radialGradient><g transform="rotate(-10 119.80 464.00)"><g fill="#4a9aa8" opacity="0.5"><ellipse cx="121.00" cy="464.90" rx="6.20" ry="8.00"/><ellipse cx="122.24" cy="462.60" rx="3.94" ry="5.51"/><ellipse cx="118.99" cy="463.85" rx="4.54" ry="5.49"/></g><g fill="url(#tg3)"><ellipse cx="119.80" cy="464.00" rx="6.20" ry="8.00"/><ellipse cx="121.04" cy="461.70" rx="3.94" ry="5.51"/><ellipse cx="117.79" cy="462.95" rx="4.54" ry="5.49"/></g></g><radialGradient id="tg4" cx="0.42" cy="0.38" r="0.7"><stop offset="0" stop-color="#fce2d0"/><stop offset="0.55" stop-color="#f2b4a0"/><stop offset="1" stop-color="#f2b4a0"/></radialGradient><g transform="rotate(-25 145.50 465.00)"><g fill="#4a9aa8" opacity="0.5"><ellipse cx="146.70" cy="465.90" rx="6.50" ry="7.00"/><ellipse cx="148.78" cy="464.90" rx="4.77" ry="4.25"/><ellipse cx="145.52" cy="463.80" rx="4.28" ry="4.86"/></g><g fill="url(#tg4)"><ellipse cx="145.50" cy="465.00" rx="6.50" ry="7.00"/><ellipse cx="147.58" cy="464.00" rx="4.77" ry="4.25"/><ellipse cx="144.32" cy="462.90" rx="4.28" ry="4.86"/></g></g><radialGradient id="tg5" cx="0.42" cy="0.38" r="0.7"><stop offset="0" stop-color="#fce2d0"/><stop offset="0.55" stop-color="#f2b4a0"/><stop offset="1" stop-color="#f2b4a0"/></radialGradient><g transform="rotate(0 173.50 467.70)"><g fill="#4a9aa8" opacity="0.5"><ellipse cx="174.70" cy="468.60" rx="5.50" ry="6.50"/><ellipse cx="174.98" cy="466.35" rx="3.58" ry="4.27"/><ellipse cx="176.52" cy="467.86" rx="3.49" ry="4.56"/></g><g fill="url(#tg5)"><ellipse cx="173.50" cy="467.70" rx="5.50" ry="6.50"/><ellipse cx="173.78" cy="465.45" rx="3.58" ry="4.27"/><ellipse cx="175.32" cy="466.96" rx="3.49" ry="4.56"/></g></g><radialGradient id="tg6" cx="0.42" cy="0.38" r="0.7"><stop offset="0" stop-color="#fce2d0"/><stop offset="0.55" stop-color="#f2b4a0"/><stop offset="1" stop-color="#f2b4a0"/></radialGradient><g transform="rotate(0 60.20 487.80)"><g fill="#4a9aa8" opacity="0.5"><ellipse cx="61.40" cy="488.70" rx="7.20" ry="5.80"/><ellipse cx="62.05" cy="486.74" rx="5.04" ry="4.27"/><ellipse cx="59.14" cy="489.61" rx="4.65" ry="3.74"/></g><g fill="url(#tg6)"><ellipse cx="60.20" cy="487.80" rx="7.20" ry="5.80"/><ellipse cx="60.85" cy="485.84" rx="5.04" ry="4.27"/><ellipse cx="57.94" cy="488.71" rx="4.65" ry="3.74"/></g></g><radialGradient id="tg7" cx="0.42" cy="0.38" r="0.7"><stop offset="0" stop-color="#fce2d0"/><stop offset="0.55" stop-color="#f2b4a0"/><stop offset="1" stop-color="#f2b4a0"/></radialGradient><g transform="rotate(0 90.30 488.00)"><g fill="#4a9aa8" opacity="0.5"><ellipse cx="91.50" cy="488.90" rx="5.30" ry="5.00"/><ellipse cx="90.02" cy="487.84" rx="3.94" ry="3.66"/><ellipse cx="89.67" cy="489.17" rx="3.51" ry="3.22"/></g><g fill="url(#tg7)"><ellipse cx="90.30" cy="488.00" rx="5.30" ry="5.00"/><ellipse cx="88.82" cy="486.94" rx="3.94" ry="3.66"/><ellipse cx="88.47" cy="488.27" rx="3.51" ry="3.22"/></g></g><radialGradient id="tg8" cx="0.42" cy="0.38" r="0.7"><stop offset="0" stop-color="#fce2d0"/><stop offset="0.55" stop-color="#f2b4a0"/><stop offset="1" stop-color="#f2b4a0"/></radialGradient><g transform="rotate(0 117.40 487.50)"><g fill="#4a9aa8" opacity="0.5"><ellipse cx="118.60" cy="488.40" rx="5.00" ry="5.50"/><ellipse cx="119.67" cy="489.93" rx="3.41" ry="3.37"/><ellipse cx="117.23" cy="489.59" rx="3.35" ry="3.33"/></g><g fill="url(#tg8)"><ellipse cx="117.40" cy="487.50" rx="5.00" ry="5.50"/><ellipse cx="118.47" cy="489.03" rx="3.41" ry="3.37"/><ellipse cx="116.03" cy="488.69" rx="3.35" ry="3.33"/></g></g><radialGradient id="tg9" cx="0.42" cy="0.38" r="0.7"><stop offset="0" stop-color="#fce2d0"/><stop offset="0.55" stop-color="#f2b4a0"/><stop offset="1" stop-color="#f2b4a0"/></radialGradient><g transform="rotate(0 145.50 488.50)"><g fill="#4a9aa8" opacity="0.5"><ellipse cx="146.70" cy="489.40" rx="6.50" ry="6.50"/><ellipse cx="145.53" cy="491.35" rx="4.87" ry="4.08"/><ellipse cx="148.44" cy="487.94" rx="4.30" ry="4.42"/></g><g fill="url(#tg9)"><ellipse cx="145.50" cy="488.50" rx="6.50" ry="6.50"/><ellipse cx="144.33" cy="490.45" rx="4.87" ry="4.08"/><ellipse cx="147.24" cy="487.04" rx="4.30" ry="4.42"/></g></g><radialGradient id="tg10" cx="0.42" cy="0.38" r="0.7"><stop offset="0" stop-color="#fce2d0"/><stop offset="0.55" stop-color="#f2b4a0"/><stop offset="1" stop-color="#f2b4a0"/></radialGradient><g transform="rotate(0 172.30 488.30)"><g fill="#4a9aa8" opacity="0.5"><ellipse cx="173.50" cy="489.20" rx="5.30" ry="5.30"/><ellipse cx="173.60" cy="491.05" rx="3.35" ry="3.68"/><ellipse cx="172.18" cy="490.51" rx="3.89" ry="3.49"/></g><g fill="url(#tg10)"><ellipse cx="172.30" cy="488.30" rx="5.30" ry="5.30"/><ellipse cx="172.40" cy="490.15" rx="3.35" ry="3.68"/><ellipse cx="170.98" cy="489.61" rx="3.89" ry="3.49"/></g></g><linearGradient id="rg11" x1="0" y1="0" x2="1" y2="0"><stop offset="0" stop-color="#cdbab0"/><stop offset="0.35" stop-color="#a88474"/><stop offset="0.6" stop-color="#7a5a4e"/><stop offset="1" stop-color="#5a4038"/></linearGradient><rect x="50.10" y="503.60" width="131.50" height="19.20" fill="url(#rg11)"/><path d="M51.10 504.60v4.5M52.45 504.60v2M53.81 504.60v2M55.16 504.60v2M56.52 504.60v2M57.87 504.60v3M59.23 504.60v2M60.58 504.60v2M61.94 504.60v2M63.29 504.60v2M64.65 504.60v4.5M66.00 504.60v2M67.36 504.60v2M68.71 504.60v2M70.07 504.60v2M71.42 504.60v3M72.78 504.60v2M74.14 504.60v2M75.49 504.60v2M76.85 504.60v2M78.20 504.60v4.5M79.56 504.60v2M80.91 504.60v2M82.27 504.60v2M83.62 504.60v2M84.98 504.60v3M86.33 504.60v2M87.69 504.60v2M89.04 504.60v2M90.40 504.60v2M91.75 504.60v4.5M93.11 504.60v2M94.46 504.60v2M95.82 504.60v2M97.17 504.60v2M98.53 504.60v3M99.88 504.60v2M101.24 504.60v2M102.59 504.60v2M103.95 504.60v2M105.30 504.60v4.5M106.66 504.60v2M108.01 504.60v2M109.37 504.60v2M110.72 504.60v2M112.08 504.60v3M113.43 504.60v2M114.79 504.60v2M116.14 504.60v2M117.50 504.60v2M118.85 504.60v4.5M120.21 504.60v2M121.56 504.60v2M122.92 504.60v2M124.27 504.60v2M125.63 504.60v3M126.98 504.60v2M128.34 504.60v2M129.69 504.60v2M131.05 504.60v2M132.40 504.60v4.5M133.76 504.60v2M135.11 504.60v2M136.47 504.60v2M137.82 504.60v2M139.18 504.60v3M140.53 504.60v2M141.89 504.60v2M143.24 504.60v2M144.60 504.60v2M145.95 504.60v4.5M147.31 504.60v2M148.66 504.60v2M150.01 504.60v2M151.37 504.60v2M152.72 504.60v3M154.08 504.60v2M155.43 504.60v2M156.79 504.60v2M158.14 504.60v2M159.50 504.60v4.5M160.85 504.60v2M162.21 504.60v2M163.56 504.60v2M164.92 504.60v2M166.27 504.60v3M167.63 504.60v2M168.98 504.60v2M170.34 504.60v2M171.69 504.60v2M173.05 504.60v4.5M174.40 504.60v2M175.76 504.60v2M177.11 504.60v2M178.47 504.60v2M179.82 504.60v3M181.18 504.60v2" stroke="#000" stroke-opacity="0.28" stroke-width="0.4"/><line x1="50.10" y1="503.90" x2="181.60" y2="503.90" stroke="#000" stroke-width="0.5" stroke-opacity="0.2"/><g font-family="Liberation Serif, serif" font-size="7.6" font-weight="bold" fill="#2a2020" text-anchor="middle"><text x="58.50" y="522.20" font-size="7.60" font-family="'Liberation Serif', serif">3</text><text x="72.05" y="522.20" font-size="7.60" font-family="'Liberation Serif', serif">4</text><text x="85.60" y="522.20" font-size="7.60" font-family="'Liberation Serif', serif">5</text><text x="99.15" y="522.20" font-size="7.60" font-family="'Liberation Serif', serif">6</text><text x="112.70" y="522.20" font-size="7.60" font-family="'Liberation Serif', serif">7</text><text x="126.25" y="522.20" font-size="7.60" font-family="'Liberation Serif', serif">8</text><text x="139.80" y="522.20" font-size="7.60" font-family="'Liberation Serif', serif">9</text><text x="153.35" y="522.20" font-size="10.26" font-family="'Liberation Serif', serif">10</text><text x="166.90" y="522.20" font-size="7.60" font-family="'Liberation Serif', serif">11</text><text x="180.45" y="522.20" font-size="7.60" font-family="'Liberation Serif', serif">1</text></g><text x="42.30" y="466.50" font-size="8.2" text-anchor="end" fill="#231f20" stroke="#231f20" stroke-width="0.12">Control</text><text x="43.20" y="490.50" font-size="8.2" text-anchor="end" fill="#231f20" stroke="#231f20" stroke-width="0.12">AZD5438</text><rect x="240.00" y="453.90" width="130.00" height="51.00" fill="#7dc5d2"/><radialGradient id="tg12" cx="0.42" cy="0.38" r="0.7"><stop offset="0" stop-color="#f6c6bc"/><stop offset="0.55" stop-color="#ea8c86"/><stop offset="1" stop-color="#ea8c86"/></radialGradient><g transform="rotate(0 250.20 464.80)"><g fill="#3a8898" opacity="0.5"><ellipse cx="251.40" cy="465.70" rx="8.00" ry="7.00"/><ellipse cx="250.01" cy="467.83" rx="4.98" ry="4.38"/><ellipse cx="249.73" cy="467.67" rx="5.78" ry="5.13"/></g><g fill="url(#tg12)"><ellipse cx="250.20" cy="464.80" rx="8.00" ry="7.00"/><ellipse cx="248.81" cy="466.93" rx="4.98" ry="4.38"/><ellipse cx="248.53" cy="466.77" rx="5.78" ry="5.13"/></g></g><radialGradient id="tg13" cx="0.42" cy="0.38" r="0.7"><stop offset="0" stop-color="#f6c6bc"/><stop offset="0.55" stop-color="#ea8c86"/><stop offset="1" stop-color="#ea8c86"/></radialGradient><g transform="rotate(0 279.00 465.40)"><g fill="#3a8898" opacity="0.5"><ellipse cx="280.20" cy="466.30" rx="6.80" ry="7.60"/><ellipse cx="282.51" cy="465.64" rx="4.39" ry="4.92"/><ellipse cx="281.89" cy="464.43" rx="4.89" ry="5.25"/></g><g fill="url(#tg13)"><ellipse cx="279.00" cy="465.40" rx="6.80" ry="7.60"/><ellipse cx="281.31" cy="464.74" rx="4.39" ry="4.92"/><ellipse cx="280.69" cy="463.53" rx="4.89" ry="5.25"/></g></g><radialGradient id="tg14" cx="0.42" cy="0.38" r="0.7"><stop offset="0" stop-color="#f6c6bc"/><stop offset="0.55" stop-color="#ea8c86"/><stop offset="1" stop-color="#ea8c86"/></radialGradient><g transform="rotate(0 306.50 465.00)"><g fill="#3a8898" opacity="0.5"><ellipse cx="307.70" cy="465.90" rx="5.90" ry="6.20"/><ellipse cx="308.98" cy="464.20" rx="4.40" ry="4.08"/><ellipse cx="309.76" cy="466.02" rx="4.30" ry="3.82"/></g><g fill="url(#tg14)"><ellipse cx="306.50" cy="465.00" rx="5.90" ry="6.20"/><ellipse cx="307.78" cy="463.30" rx="4.40" ry="4.08"/><ellipse cx="308.56" cy="465.12" rx="4.30" ry="3.82"/></g></g><radialGradient id="tg15" cx="0.42" cy="0.38" r="0.7"><stop offset="0" stop-color="#f6c6bc"/><stop offset="0.55" stop-color="#ea8c86"/><stop offset="1" stop-color="#ea8c86"/></radialGradient><g transform="rotate(0 333.80 466.60)"><g fill="#3a8898" opacity="0.5"><ellipse cx="335.00" cy="467.50" rx="7.50" ry="6.40"/><ellipse cx="335.07" cy="469.74" rx="5.14" ry="4.47"/><ellipse cx="334.77" cy="465.27" rx="5.26" ry="4.79"/></g><g fill="url(#tg15)"><ellipse cx="333.80" cy="466.60" rx="7.50" ry="6.40"/><ellipse cx="333.87" cy="468.84" rx="5.14" ry="4.47"/><ellipse cx="333.57" cy="464.37" rx="5.26" ry="4.79"/></g></g><radialGradient id="tg16" cx="0.42" cy="0.38" r="0.7"><stop offset="0" stop-color="#f6c6bc"/><stop offset="0.55" stop-color="#ea8c86"/><stop offset="1" stop-color="#ea8c86"/></radialGradient><g transform="rotate(0 362.30 469.50)"><g fill="#3a8898" opacity="0.5"><ellipse cx="363.50" cy="470.40" rx="6.30" ry="5.80"/><ellipse cx="363.28" cy="468.38" rx="4.49" ry="4.06"/><ellipse cx="364.96" cy="471.92" rx="4.49" ry="3.70"/></g><g fill="url(#tg16)"><ellipse cx="362.30" cy="469.50" rx="6.30" ry="5.80"/><ellipse cx="362.08" cy="467.48" rx="4.49" ry="4.06"/><ellipse cx="363.76" cy="471.02" rx="4.49" ry="3.70"/></g></g><radialGradient id="tg17" cx="0.42" cy="0.38" r="0.7"><stop offset="0" stop-color="#f6c6bc"/><stop offset="0.55" stop-color="#ea8c86"/><stop offset="1" stop-color="#ea8c86"/></radialGradient><g transform="rotate(0 251.20 490.10)"><g fill="#3a8898" opacity="0.5"><ellipse cx="252.40" cy="491.00" rx="5.40" ry="5.30"/><ellipse cx="250.77" cy="491.94" rx="3.66" ry="3.44"/><ellipse cx="252.21" cy="492.85" rx="3.48" ry="3.42"/></g><g fill="url(#tg17)"><ellipse cx="251.20" cy="490.10" rx="5.40" ry="5.30"/><ellipse cx="249.57" cy="491.04" rx="3.66" ry="3.44"/><ellipse cx="251.01" cy="491.95" rx="3.48" ry="3.42"/></g></g><radialGradient id="tg18" cx="0.42" cy="0.38" r="0.7"><stop offset="0" stop-color="#f6c6bc"/><stop offset="0.55" stop-color="#ea8c86"/><stop offset="1" stop-color="#ea8c86"/></radialGradient><g transform="rotate(0 278.80 492.30)"><g fill="#3a8898" opacity="0.5"><ellipse cx="280.00" cy="493.20" rx="4.60" ry="4.30"/><ellipse cx="279.59" cy="491.74" rx="3.23" ry="3.18"/><ellipse cx="280.58" cy="491.79" rx="2.80" ry="3.00"/></g><g fill="url(#tg18)"><ellipse cx="278.80" cy="492.30" rx="4.60" ry="4.30"/><ellipse cx="278.39" cy="490.84" rx="3.23" ry="3.18"/><ellipse cx="279.38" cy="490.89" rx="2.80" ry="3.00"/></g></g><radialGradient id="tg19" cx="0.42" cy="0.38" r="0.7"><stop offset="0" stop-color="#f6c6bc"/><stop offset="0.55" stop-color="#ea8c86"/><stop offset="1" stop-color="#ea8c86"/></radialGradient><g transform="rotate(0 307.50 492.30)"><g fill="#3a8898" opacity="0.5"><ellipse cx="308.70" cy="493.20" rx="4.50" ry="4.30"/><ellipse cx="307.13" cy="493.27" rx="3.17" ry="2.59"/><ellipse cx="309.81" cy="492.13" rx="3.30" ry="2.66"/></g><g fill="url(#tg19)"><ellipse cx="307.50" cy="492.30" rx="4.50" ry="4.30"/><ellipse cx="305.93" cy="492.37" rx="3.17" ry="2.59"/><ellipse cx="308.61" cy="491.23" rx="3.30" ry="2.66"/></g></g><radialGradient id="tg20" cx="0.42" cy="0.38" r="0.7"><stop offset="0" stop-color="#f6c6bc"/><stop offset="0.55" stop-color="#ea8c86"/><stop offset="1" stop-color="#ea8c86"/></radialGradient><g transform="rotate(0 336.30 490.60)"><g fill="#3a8898" opacity="0.5"><ellipse cx="337.50" cy="491.50" rx="5.40" ry="5.00"/><ellipse cx="336.15" cy="492.72" rx="3.49" ry="3.38"/><ellipse cx="338.59" cy="492.93" rx="3.73" ry="3.34"/></g><g fill="url(#tg20)"><ellipse cx="336.30" cy="490.60" rx="5.40" ry="5.00"/><ellipse cx="334.95" cy="491.82" rx="3.49" ry="3.38"/><ellipse cx="337.39" cy="492.03" rx="3.73" ry="3.34"/></g></g><radialGradient id="tg21" cx="0.42" cy="0.38" r="0.7"><stop offset="0" stop-color="#f6c6bc"/><stop offset="0.55" stop-color="#ea8c86"/><stop offset="1" stop-color="#ea8c86"/></radialGradient><g transform="rotate(0 362.70 492.80)"><g fill="#3a8898" opacity="0.5"><ellipse cx="363.90" cy="493.70" rx="4.00" ry="3.80"/><ellipse cx="365.23" cy="493.27" rx="2.69" ry="2.28"/><ellipse cx="365.19" cy="493.18" rx="2.56" ry="2.39"/></g><g fill="url(#tg21)"><ellipse cx="362.70" cy="492.80" rx="4.00" ry="3.80"/><ellipse cx="364.03" cy="492.37" rx="2.69" ry="2.28"/><ellipse cx="363.99" cy="492.28" rx="2.56" ry="2.39"/></g></g><linearGradient id="rg22" x1="0" y1="0" x2="1" y2="0"><stop offset="0" stop-color="#d4bcb0"/><stop offset="0.3" stop-color="#b08878"/><stop offset="0.42" stop-color="#6e5046"/><stop offset="1" stop-color="#4c3630"/></linearGradient><rect x="240.00" y="504.80" width="130.00" height="18.60" fill="url(#rg22)"/><path d="M241.00 505.80v4.5M242.19 505.80v2M243.39 505.80v2M244.58 505.80v2M245.78 505.80v2M246.97 505.80v3M248.17 505.80v2M249.36 505.80v2M250.56 505.80v2M251.75 505.80v2M252.95 505.80v4.5M254.14 505.80v2M255.34 505.80v2M256.53 505.80v2M257.73 505.80v2M258.92 505.80v3M260.12 505.80v2M261.31 505.80v2M262.51 505.80v2M263.70 505.80v2M264.90 505.80v4.5M266.09 505.80v2M267.29 505.80v2M268.48 505.80v2M269.68 505.80v2M270.87 505.80v3M272.07 505.80v2M273.26 505.80v2M274.46 505.80v2M275.65 505.80v2M276.85 505.80v4.5M278.04 505.80v2M279.24 505.80v2M280.43 505.80v2M281.63 505.80v2M282.82 505.80v3M284.02 505.80v2M285.21 505.80v2M286.41 505.80v2M287.60 505.80v2M288.80 505.80v4.5M289.99 505.80v2M291.19 505.80v2M292.38 505.80v2M293.58 505.80v2M294.77 505.80v3M295.97 505.80v2M297.16 505.80v2M298.36 505.80v2M299.55 505.80v2M300.75 505.80v4.5M301.94 505.80v2M303.14 505.80v2M304.33 505.80v2M305.53 505.80v2M306.72 505.80v3M307.92 505.80v2M309.11 505.80v2M310.31 505.80v2M311.50 505.80v2M312.70 505.80v4.5M313.89 505.80v2M315.09 505.80v2M316.28 505.80v2M317.48 505.80v2M318.67 505.80v3M319.87 505.80v2M321.06 505.80v2M322.26 505.80v2M323.45 505.80v2M324.65 505.80v4.5M325.84 505.80v2M327.04 505.80v2M328.23 505.80v2M329.43 505.80v2M330.62 505.80v3M331.82 505.80v2M333.01 505.80v2M334.21 505.80v2M335.40 505.80v2M336.60 505.80v4.5M337.79 505.80v2M338.99 505.80v2M340.18 505.80v2M341.38 505.80v2M342.57 505.80v3M343.77 505.80v2M344.96 505.80v2M346.16 505.80v2M347.35 505.80v2M348.55 505.80v4.5M349.74 505.80v2M350.94 505.80v2M352.13 505.80v2M353.33 505.80v2M354.52 505.80v3M355.72 505.80v2M356.91 505.80v2M358.11 505.80v2M359.30 505.80v2M360.50 505.80v4.5M361.69 505.80v2M362.89 505.80v2M364.08 505.80v2M365.28 505.80v2M366.47 505.80v3M367.67 505.80v2M368.86 505.80v2" stroke="#000" stroke-opacity="0.28" stroke-width="0.4"/><line x1="240.00" y1="505.10" x2="370.00" y2="505.10" stroke="#000" stroke-width="0.5" stroke-opacity="0.2"/><g font-family="Liberation Serif, serif" font-size="7.6" font-weight="bold" fill="#2a2020" text-anchor="middle"><text x="249.30" y="522.20" font-size="7.60" font-family="'Liberation Serif', serif">3</text><text x="261.25" y="522.20" font-size="7.60" font-family="'Liberation Serif', serif">4</text><text x="273.20" y="522.20" font-size="7.60" font-family="'Liberation Serif', serif">5</text><text x="285.15" y="522.20" font-size="7.60" font-family="'Liberation Serif', serif">6</text><text x="297.10" y="522.20" font-size="7.60" font-family="'Liberation Serif', serif">7</text><text x="309.05" y="522.20" font-size="7.60" font-family="'Liberation Serif', serif">8</text><text x="321.00" y="522.20" font-size="7.60" font-family="'Liberation Serif', serif">9</text><text x="332.95" y="522.20" font-size="10.26" font-family="'Liberation Serif', serif">10</text><text x="344.90" y="522.20" font-size="7.60" font-family="'Liberation Serif', serif">11</text><text x="356.85" y="522.20" font-size="7.60" font-family="'Liberation Serif', serif">12</text><text x="368.80" y="522.20" font-size="7.60" font-family="'Liberation Serif', serif">1</text></g><text x="233.30" y="467.30" font-size="8.2" text-anchor="end" fill="#231f20" stroke="#231f20" stroke-width="0.12">Control</text><text x="233.30" y="490.90" font-size="8.2" text-anchor="end" fill="#231f20" stroke="#231f20" stroke-width="0.12">AZD5438</text><rect x="430.80" y="453.80" width="124.00" height="69.20" fill="#85cdde"/><radialGradient id="tg23" cx="0.42" cy="0.38" r="0.7"><stop offset="0" stop-color="#fdece0"/><stop offset="0.55" stop-color="#f3c8b4"/><stop offset="1" stop-color="#f3c8b4"/></radialGradient><g transform="rotate(0 439.90 467.00)"><g fill="#4a98ac" opacity="0.5"><ellipse cx="441.10" cy="467.90" rx="8.00" ry="6.70"/><ellipse cx="443.53" cy="466.74" rx="5.41" ry="5.02"/><ellipse cx="442.39" cy="469.98" rx="5.51" ry="5.01"/></g><g fill="url(#tg23)"><ellipse cx="439.90" cy="467.00" rx="8.00" ry="6.70"/><ellipse cx="442.33" cy="465.84" rx="5.41" ry="5.02"/><ellipse cx="441.19" cy="469.08" rx="5.51" ry="5.01"/></g></g><radialGradient id="tg24" cx="0.42" cy="0.38" r="0.7"><stop offset="0" stop-color="#fdece0"/><stop offset="0.55" stop-color="#f3c8b4"/><stop offset="1" stop-color="#f3c8b4"/></radialGradient><g transform="rotate(0 465.30 466.40)"><g fill="#4a98ac" opacity="0.5"><ellipse cx="466.50" cy="467.30" rx="7.90" ry="7.40"/><ellipse cx="464.57" cy="465.45" rx="5.03" ry="5.30"/><ellipse cx="469.23" cy="467.72" rx="5.39" ry="4.89"/></g><g fill="url(#tg24)"><ellipse cx="465.30" cy="466.40" rx="7.90" ry="7.40"/><ellipse cx="463.37" cy="464.55" rx="5.03" ry="5.30"/><ellipse cx="468.03" cy="466.82" rx="5.39" ry="4.89"/></g></g><radialGradient id="tg25" cx="0.42" cy="0.38" r="0.7"><stop offset="0" stop-color="#fdece0"/><stop offset="0.55" stop-color="#f3c8b4"/><stop offset="1" stop-color="#f3c8b4"/></radialGradient><g transform="rotate(0 490.20 467.30)"><g fill="#4a98ac" opacity="0.5"><ellipse cx="491.40" cy="468.20" rx="6.20" ry="7.40"/><ellipse cx="493.27" cy="469.51" rx="4.60" ry="5.15"/><ellipse cx="489.23" cy="468.32" rx="4.63" ry="4.84"/></g><g fill="url(#tg25)"><ellipse cx="490.20" cy="467.30" rx="6.20" ry="7.40"/><ellipse cx="492.07" cy="468.61" rx="4.60" ry="5.15"/><ellipse cx="488.03" cy="467.42" rx="4.63" ry="4.84"/></g></g><radialGradient id="tg26" cx="0.42" cy="0.38" r="0.7"><stop offset="0" stop-color="#fdece0"/><stop offset="0.55" stop-color="#f3c8b4"/><stop offset="1" stop-color="#f3c8b4"/></radialGradient><g transform="rotate(0 518.70 468.00)"><g fill="#4a98ac" opacity="0.5"><ellipse cx="519.90" cy="468.90" rx="8.00" ry="8.20"/><ellipse cx="522.19" cy="467.25" rx="5.19" ry="5.95"/><ellipse cx="517.10" cy="468.98" rx="4.86" ry="5.57"/></g><g fill="url(#tg26)"><ellipse cx="518.70" cy="468.00" rx="8.00" ry="8.20"/><ellipse cx="520.99" cy="466.35" rx="5.19" ry="5.95"/><ellipse cx="515.90" cy="468.08" rx="4.86" ry="5.57"/></g></g><radialGradient id="tg27" cx="0.42" cy="0.38" r="0.7"><stop offset="0" stop-color="#fdece0"/><stop offset="0.55" stop-color="#f3c8b4"/><stop offset="1" stop-color="#f3c8b4"/></radialGradient><g transform="rotate(20 544.00 470.00)"><g fill="#4a98ac" opacity="0.5"><ellipse cx="545.20" cy="470.90" rx="9.30" ry="6.20"/><ellipse cx="547.75" cy="469.55" rx="5.86" ry="4.47"/><ellipse cx="548.21" cy="471.72" rx="6.01" ry="4.20"/></g><g fill="url(#tg27)"><ellipse cx="544.00" cy="470.00" rx="9.30" ry="6.20"/><ellipse cx="546.55" cy="468.65" rx="5.86" ry="4.47"/><ellipse cx="547.01" cy="470.82" rx="6.01" ry="4.20"/></g></g><radialGradient id="tg28" cx="0.42" cy="0.38" r="0.7"><stop offset="0" stop-color="#fdece0"/><stop offset="0.55" stop-color="#f3c8b4"/><stop offset="1" stop-color="#f3c8b4"/></radialGradient><g transform="rotate(0 440.60 491.70)"><g fill="#4a98ac" opacity="0.5"><ellipse cx="441.80" cy="492.60" rx="6.00" ry="5.70"/><ellipse cx="440.92" cy="490.79" rx="4.42" ry="3.92"/><ellipse cx="443.87" cy="492.24" rx="4.30" ry="3.73"/></g><g fill="url(#tg28)"><ellipse cx="440.60" cy="491.70" rx="6.00" ry="5.70"/><ellipse cx="439.72" cy="489.89" rx="4.42" ry="3.92"/><ellipse cx="442.67" cy="491.34" rx="4.30" ry="3.73"/></g></g><radialGradient id="tg29" cx="0.42" cy="0.38" r="0.7"><stop offset="0" stop-color="#fdece0"/><stop offset="0.55" stop-color="#f3c8b4"/><stop offset="1" stop-color="#f3c8b4"/></radialGradient><g transform="rotate(0 464.40 491.10)"><g fill="#4a98ac" opacity="0.5"><ellipse cx="465.60" cy="492.00" rx="3.80" ry="4.10"/><ellipse cx="465.14" cy="490.66" rx="2.44" ry="3.01"/><ellipse cx="464.29" cy="492.23" rx="2.63" ry="3.03"/></g><g fill="url(#tg29)"><ellipse cx="464.40" cy="491.10" rx="3.80" ry="4.10"/><ellipse cx="463.94" cy="489.76" rx="2.44" ry="3.01"/><ellipse cx="463.09" cy="491.33" rx="2.63" ry="3.03"/></g></g><radialGradient id="tg30" cx="0.42" cy="0.38" r="0.7"><stop offset="0" stop-color="#fdece0"/><stop offset="0.55" stop-color="#f3c8b4"/><stop offset="1" stop-color="#f3c8b4"/></radialGradient><g transform="rotate(0 488.80 492.30)"><g fill="#4a98ac" opacity="0.5"><ellipse cx="490.00" cy="493.20" rx="4.20" ry="4.80"/><ellipse cx="488.80" cy="494.16" rx="2.95" ry="3.14"/><ellipse cx="489.38" cy="494.72" rx="3.02" ry="3.22"/></g><g fill="url(#tg30)"><ellipse cx="488.80" cy="492.30" rx="4.20" ry="4.80"/><ellipse cx="487.60" cy="493.26" rx="2.95" ry="3.14"/><ellipse cx="488.18" cy="493.82" rx="3.02" ry="3.22"/></g></g><radialGradient id="tg31" cx="0.42" cy="0.38" r="0.7"><stop offset="0" stop-color="#fdece0"/><stop offset="0.55" stop-color="#f3c8b4"/><stop offset="1" stop-color="#f3c8b4"/></radialGradient><g transform="rotate(0 519.70 495.40)"><g fill="#4a98ac" opacity="0.5"><ellipse cx="520.90" cy="496.30" rx="4.80" ry="3.60"/><ellipse cx="522.18" cy="497.12" rx="3.55" ry="2.50"/><ellipse cx="519.22" cy="496.29" rx="3.17" ry="2.25"/></g><g fill="url(#tg31)"><ellipse cx="519.70" cy="495.40" rx="4.80" ry="3.60"/><ellipse cx="520.98" cy="496.22" rx="3.55" ry="2.50"/><ellipse cx="518.02" cy="495.39" rx="3.17" ry="2.25"/></g></g><radialGradient id="tg32" cx="0.42" cy="0.38" r="0.7"><stop offset="0" stop-color="#fdece0"/><stop offset="0.55" stop-color="#f3c8b4"/><stop offset="1" stop-color="#f3c8b4"/></radialGradient><g transform="rotate(0 542.40 495.50)"><g fill="#4a98ac" opacity="0.5"><ellipse cx="543.60" cy="496.40" rx="3.80" ry="3.50"/><ellipse cx="544.64" cy="495.63" rx="2.31" ry="2.25"/><ellipse cx="542.30" cy="496.13" rx="2.66" ry="2.55"/></g><g fill="url(#tg32)"><ellipse cx="542.40" cy="495.50" rx="3.80" ry="3.50"/><ellipse cx="543.44" cy="494.73" rx="2.31" ry="2.25"/><ellipse cx="541.10" cy="495.23" rx="2.66" ry="2.55"/></g></g><linearGradient id="rg33" x1="0" y1="0" x2="1" y2="0"><stop offset="0" stop-color="#f0ecea"/><stop offset="0.15" stop-color="#dcd4d0"/><stop offset="0.5" stop-color="#c8bcb6"/><stop offset="1" stop-color="#b4a49c"/></linearGradient><rect x="433.30" y="507.00" width="121.50" height="16.00" fill="url(#rg33)"/><path d="M434.30 508.00v4.5M435.43 508.00v2M436.56 508.00v2M437.69 508.00v2M438.82 508.00v2M439.95 508.00v3M441.08 508.00v2M442.21 508.00v2M443.34 508.00v2M444.47 508.00v2M445.60 508.00v4.5M446.73 508.00v2M447.86 508.00v2M448.99 508.00v2M450.12 508.00v2M451.25 508.00v3M452.38 508.00v2M453.51 508.00v2M454.64 508.00v2M455.77 508.00v2M456.90 508.00v4.5M458.03 508.00v2M459.16 508.00v2M460.29 508.00v2M461.42 508.00v2M462.55 508.00v3M463.68 508.00v2M464.81 508.00v2M465.94 508.00v2M467.07 508.00v2M468.20 508.00v4.5M469.33 508.00v2M470.46 508.00v2M471.59 508.00v2M472.72 508.00v2M473.85 508.00v3M474.98 508.00v2M476.11 508.00v2M477.24 508.00v2M478.37 508.00v2M479.50 508.00v4.5M480.63 508.00v2M481.76 508.00v2M482.89 508.00v2M484.02 508.00v2M485.15 508.00v3M486.28 508.00v2M487.41 508.00v2M488.54 508.00v2M489.67 508.00v2M490.80 508.00v4.5M491.93 508.00v2M493.06 508.00v2M494.19 508.00v2M495.32 508.00v2M496.45 508.00v3M497.58 508.00v2M498.71 508.00v2M499.84 508.00v2M500.97 508.00v2M502.10 508.00v4.5M503.23 508.00v2M504.36 508.00v2M505.49 508.00v2M506.62 508.00v2M507.75 508.00v3M508.88 508.00v2M510.01 508.00v2M511.14 508.00v2M512.27 508.00v2M513.40 508.00v4.5M514.53 508.00v2M515.66 508.00v2M516.79 508.00v2M517.92 508.00v2M519.05 508.00v3M520.18 508.00v2M521.31 508.00v2M522.44 508.00v2M523.57 508.00v2M524.70 508.00v4.5M525.83 508.00v2M526.96 508.00v2M528.09 508.00v2M529.22 508.00v2M530.35 508.00v3M531.48 508.00v2M532.61 508.00v2M533.74 508.00v2M534.87 508.00v2M536.00 508.00v4.5M537.13 508.00v2M538.26 508.00v2M539.39 508.00v2M540.52 508.00v2M541.65 508.00v3M542.78 508.00v2M543.91 508.00v2M545.04 508.00v2M546.17 508.00v2M547.30 508.00v4.5M548.43 508.00v2M549.56 508.00v2M550.69 508.00v2M551.82 508.00v2M552.95 508.00v3M554.08 508.00v2" stroke="#000" stroke-opacity="0.28" stroke-width="0.4"/><line x1="433.30" y1="507.30" x2="554.80" y2="507.30" stroke="#000" stroke-width="0.5" stroke-opacity="0.2"/><g font-family="Liberation Serif, serif" font-size="7.2" font-weight="bold" fill="#2a2020" text-anchor="middle"><text x="442.00" y="521.60" font-size="7.20" font-family="'Liberation Serif', serif">1</text><text x="453.30" y="521.60" font-size="7.20" font-family="'Liberation Serif', serif">2</text><text x="464.60" y="521.60" font-size="7.20" font-family="'Liberation Serif', serif">3</text><text x="475.90" y="521.60" font-size="7.20" font-family="'Liberation Serif', serif">4</text><text x="487.20" y="521.60" font-size="7.20" font-family="'Liberation Serif', serif">5</text><text x="498.50" y="521.60" font-size="7.20" font-family="'Liberation Serif', serif">6</text><text x="509.80" y="521.60" font-size="7.20" font-family="'Liberation Serif', serif">7</text><text x="521.10" y="521.60" font-size="7.20" font-family="'Liberation Serif', serif">8</text><text x="532.40" y="521.60" font-size="7.20" font-family="'Liberation Serif', serif">9</text><text x="543.70" y="521.60" font-size="9.72" font-family="'Liberation Serif', serif">10</text></g><text x="420.30" y="466.80" font-size="8.2" text-anchor="end" fill="#231f20" stroke="#231f20" stroke-width="0.12">Control</text><text x="420.30" y="491.20" font-size="8.2" text-anchor="end" fill="#231f20" stroke="#231f20" stroke-width="0.12">AZD5438</text><text x="1.80" y="551.70" font-size="12" font-weight="bold" fill="#1a1414">i</text><text x="197.30" y="551.80" font-size="12" font-weight="bold" fill="#1a1414">j</text><line x1="38.80" y1="660.78" x2="38.80" y2="658.80" stroke="#a0a0a0" stroke-width="0.7"/><line x1="37.40" y1="658.80" x2="40.20" y2="658.80" stroke="#a0a0a0" stroke-width="0.7"/><line x1="37.40" y1="660.78" x2="40.20" y2="660.78" stroke="#a0a0a0" stroke-width="0.7"/><line x1="62.59" y1="656.82" x2="62.59" y2="652.86" stroke="#a0a0a0" stroke-width="0.7"/><line x1="61.19" y1="652.86" x2="63.99" y2="652.86" stroke="#a0a0a0" stroke-width="0.7"/><line x1="61.19" y1="656.82" x2="63.99" y2="656.82" stroke="#a0a0a0" stroke-width="0.7"/><line x1="86.38" y1="651.38" x2="86.38" y2="643.46" stroke="#a0a0a0" stroke-width="0.7"/><line x1="84.98" y1="643.46" x2="87.78" y2="643.46" stroke="#a0a0a0" stroke-width="0.7"/><line x1="84.98" y1="651.38" x2="87.78" y2="651.38" stroke="#a0a0a0" stroke-width="0.7"/><line x1="110.17" y1="640.98" x2="110.17" y2="631.08" stroke="#a0a0a0" stroke-width="0.7"/><line x1="108.77" y1="631.08" x2="111.57" y2="631.08" stroke="#a0a0a0" stroke-width="0.7"/><line x1="108.77" y1="640.98" x2="111.57" y2="640.98" stroke="#a0a0a0" stroke-width="0.7"/><line x1="133.96" y1="623.66" x2="133.96" y2="605.84" stroke="#a0a0a0" stroke-width="0.7"/><line x1="132.56" y1="605.84" x2="135.36" y2="605.84" stroke="#a0a0a0" stroke-width="0.7"/><line x1="132.56" y1="623.66" x2="135.36" y2="623.66" stroke="#a0a0a0" stroke-width="0.7"/><line x1="157.75" y1="593.46" x2="157.75" y2="570.69" stroke="#a0a0a0" stroke-width="0.7"/><line x1="156.35" y1="570.69" x2="159.15" y2="570.69" stroke="#a0a0a0" stroke-width="0.7"/><line x1="156.35" y1="593.46" x2="159.15" y2="593.46" stroke="#a0a0a0" stroke-width="0.7"/><line x1="38.80" y1="661.03" x2="38.80" y2="659.54" stroke="#ef7a68" stroke-width="0.7"/><line x1="37.40" y1="659.54" x2="40.20" y2="659.54" stroke="#ef7a68" stroke-width="0.7"/><line x1="37.40" y1="661.03" x2="40.20" y2="661.03" stroke="#ef7a68" stroke-width="0.7"/><line x1="62.59" y1="659.30" x2="62.59" y2="656.33" stroke="#ef7a68" stroke-width="0.7"/><line x1="61.19" y1="656.33" x2="63.99" y2="656.33" stroke="#ef7a68" stroke-width="0.7"/><line x1="61.19" y1="659.30" x2="63.99" y2="659.30" stroke="#ef7a68" stroke-width="0.7"/><line x1="86.38" y1="655.34" x2="86.38" y2="651.38" stroke="#ef7a68" stroke-width="0.7"/><line x1="84.98" y1="651.38" x2="87.78" y2="651.38" stroke="#ef7a68" stroke-width="0.7"/><line x1="84.98" y1="655.34" x2="87.78" y2="655.34" stroke="#ef7a68" stroke-width="0.7"/><line x1="110.17" y1="646.92" x2="110.17" y2="639.00" stroke="#ef7a68" stroke-width="0.7"/><line x1="108.77" y1="639.00" x2="111.57" y2="639.00" stroke="#ef7a68" stroke-width="0.7"/><line x1="108.77" y1="646.92" x2="111.57" y2="646.92" stroke="#ef7a68" stroke-width="0.7"/><line x1="133.96" y1="636.53" x2="133.96" y2="616.73" stroke="#ef7a68" stroke-width="0.7"/><line x1="132.56" y1="616.73" x2="135.36" y2="616.73" stroke="#ef7a68" stroke-width="0.7"/><line x1="132.56" y1="636.53" x2="135.36" y2="636.53" stroke="#ef7a68" stroke-width="0.7"/><line x1="157.75" y1="609.30" x2="157.75" y2="572.67" stroke="#ef7a68" stroke-width="0.7"/><line x1="156.35" y1="572.67" x2="159.15" y2="572.67" stroke="#ef7a68" stroke-width="0.7"/><line x1="156.35" y1="609.30" x2="159.15" y2="609.30" stroke="#ef7a68" stroke-width="0.7"/><line x1="38.80" y1="661.03" x2="38.80" y2="659.54" stroke="#f8c070" stroke-width="0.7"/><line x1="37.40" y1="659.54" x2="40.20" y2="659.54" stroke="#f8c070" stroke-width="0.7"/><line x1="37.40" y1="661.03" x2="40.20" y2="661.03" stroke="#f8c070" stroke-width="0.7"/><line x1="62.59" y1="660.29" x2="62.59" y2="657.32" stroke="#f8c070" stroke-width="0.7"/><line x1="61.19" y1="657.32" x2="63.99" y2="657.32" stroke="#f8c070" stroke-width="0.7"/><line x1="61.19" y1="660.29" x2="63.99" y2="660.29" stroke="#f8c070" stroke-width="0.7"/><line x1="86.38" y1="660.78" x2="86.38" y2="654.84" stroke="#f8c070" stroke-width="0.7"/><line x1="84.98" y1="654.84" x2="87.78" y2="654.84" stroke="#f8c070" stroke-width="0.7"/><line x1="84.98" y1="660.78" x2="87.78" y2="660.78" stroke="#f8c070" stroke-width="0.7"/><line x1="110.17" y1="659.79" x2="110.17" y2="653.85" stroke="#f8c070" stroke-width="0.7"/><line x1="108.77" y1="653.85" x2="111.57" y2="653.85" stroke="#f8c070" stroke-width="0.7"/><line x1="108.77" y1="659.79" x2="111.57" y2="659.79" stroke="#f8c070" stroke-width="0.7"/><line x1="133.96" y1="657.81" x2="133.96" y2="652.86" stroke="#f8c070" stroke-width="0.7"/><line x1="132.56" y1="652.86" x2="135.36" y2="652.86" stroke="#f8c070" stroke-width="0.7"/><line x1="132.56" y1="657.81" x2="135.36" y2="657.81" stroke="#f8c070" stroke-width="0.7"/><line x1="157.75" y1="655.83" x2="157.75" y2="650.88" stroke="#f8c070" stroke-width="0.7"/><line x1="156.35" y1="650.88" x2="159.15" y2="650.88" stroke="#f8c070" stroke-width="0.7"/><line x1="156.35" y1="655.83" x2="159.15" y2="655.83" stroke="#f8c070" stroke-width="0.7"/><line x1="38.80" y1="660.53" x2="38.80" y2="659.05" stroke="#c890d8" stroke-width="0.7"/><line x1="37.40" y1="659.05" x2="40.20" y2="659.05" stroke="#c890d8" stroke-width="0.7"/><line x1="37.40" y1="660.53" x2="40.20" y2="660.53" stroke="#c890d8" stroke-width="0.7"/><line x1="62.59" y1="658.80" x2="62.59" y2="655.83" stroke="#c890d8" stroke-width="0.7"/><line x1="61.19" y1="655.83" x2="63.99" y2="655.83" stroke="#c890d8" stroke-width="0.7"/><line x1="61.19" y1="658.80" x2="63.99" y2="658.80" stroke="#c890d8" stroke-width="0.7"/><line x1="86.38" y1="655.83" x2="86.38" y2="651.87" stroke="#c890d8" stroke-width="0.7"/><line x1="84.98" y1="651.87" x2="87.78" y2="651.87" stroke="#c890d8" stroke-width="0.7"/><line x1="84.98" y1="655.83" x2="87.78" y2="655.83" stroke="#c890d8" stroke-width="0.7"/><line x1="110.17" y1="656.33" x2="110.17" y2="650.38" stroke="#c890d8" stroke-width="0.7"/><line x1="108.77" y1="650.38" x2="111.57" y2="650.38" stroke="#c890d8" stroke-width="0.7"/><line x1="108.77" y1="656.33" x2="111.57" y2="656.33" stroke="#c890d8" stroke-width="0.7"/><line x1="133.96" y1="653.36" x2="133.96" y2="646.43" stroke="#c890d8" stroke-width="0.7"/><line x1="132.56" y1="646.43" x2="135.36" y2="646.43" stroke="#c890d8" stroke-width="0.7"/><line x1="132.56" y1="653.36" x2="135.36" y2="653.36" stroke="#c890d8" stroke-width="0.7"/><line x1="157.75" y1="653.85" x2="157.75" y2="643.95" stroke="#c890d8" stroke-width="0.7"/><line x1="156.35" y1="643.95" x2="159.15" y2="643.95" stroke="#c890d8" stroke-width="0.7"/><line x1="156.35" y1="653.85" x2="159.15" y2="653.85" stroke="#c890d8" stroke-width="0.7"/><polyline points="38.80,659.79 62.59,654.84 86.38,647.42 110.17,636.03 133.96,614.75 157.75,582.08" fill="none" stroke="#6e6e6e" stroke-width="1.3"/><circle cx="38.80" cy="659.79" r="1.4" fill="#6e6e6e"/><circle cx="62.59" cy="654.84" r="1.4" fill="#6e6e6e"/><circle cx="86.38" cy="647.42" r="1.4" fill="#6e6e6e"/><circle cx="110.17" cy="636.03" r="1.4" fill="#6e6e6e"/><circle cx="133.96" cy="614.75" r="1.4" fill="#6e6e6e"/><circle cx="157.75" cy="582.08" r="1.4" fill="#6e6e6e"/><polyline points="38.80,660.29 62.59,657.81 86.38,653.36 110.17,642.96 133.96,626.62 157.75,590.99" fill="none" stroke="#e5311c" stroke-width="1.3"/><rect x="37.35" y="658.84" width="2.90" height="2.90" fill="#e5311c"/><rect x="61.14" y="656.36" width="2.90" height="2.90" fill="#e5311c"/><rect x="84.93" y="651.90" width="2.90" height="2.90" fill="#e5311c"/><rect x="108.72" y="641.51" width="2.90" height="2.90" fill="#e5311c"/><rect x="132.51" y="625.17" width="2.90" height="2.90" fill="#e5311c"/><rect x="156.30" y="589.53" width="2.90" height="2.90" fill="#e5311c"/><polyline points="38.80,660.29 62.59,658.80 86.38,657.81 110.17,656.82 133.96,655.34 157.75,653.36" fill="none" stroke="#f39a1e" stroke-width="1.3"/><path d="M38.80 658.49L40.50 661.49L37.10 661.49Z" fill="#f39a1e"/><path d="M62.59 657.00L64.29 660.00L60.89 660.00Z" fill="#f39a1e"/><path d="M86.38 656.01L88.08 659.01L84.68 659.01Z" fill="#f39a1e"/><path d="M110.17 655.02L111.87 658.02L108.47 658.02Z" fill="#f39a1e"/><path d="M133.96 653.54L135.66 656.54L132.26 656.54Z" fill="#f39a1e"/><path d="M157.75 651.56L159.45 654.56L156.05 654.56Z" fill="#f39a1e"/><polyline points="38.80,659.79 62.59,657.32 86.38,653.85 110.17,653.36 133.96,649.89 157.75,648.90" fill="none" stroke="#9b3fb0" stroke-width="1.3"/><line x1="38.80" y1="569.70" x2="38.80" y2="669.10" stroke="#111" stroke-width="0.9"/><line x1="38.40" y1="668.70" x2="164.10" y2="668.70" stroke="#111" stroke-width="0.9"/><line x1="36.60" y1="668.70" x2="38.80" y2="668.70" stroke="#111" stroke-width="0.8"/><text x="36.00" y="670.90" font-size="7.0" text-anchor="end" fill="#231f20" stroke="#231f20" stroke-width="0.12">0</text><line x1="36.60" y1="643.95" x2="38.80" y2="643.95" stroke="#111" stroke-width="0.8"/><text x="36.00" y="646.15" font-size="7.0" text-anchor="end" fill="#231f20" stroke="#231f20" stroke-width="0.12">500</text><line x1="36.60" y1="619.20" x2="38.80" y2="619.20" stroke="#111" stroke-width="0.8"/><text x="36.00" y="621.40" font-size="7.0" text-anchor="end" fill="#231f20" stroke="#231f20" stroke-width="0.12">1000</text><line x1="36.60" y1="594.45" x2="38.80" y2="594.45" stroke="#111" stroke-width="0.8"/><text x="36.00" y="596.65" font-size="7.0" text-anchor="end" fill="#231f20" stroke="#231f20" stroke-width="0.12">1500</text><line x1="36.60" y1="569.70" x2="38.80" y2="569.70" stroke="#111" stroke-width="0.8"/><text x="36.00" y="571.90" font-size="7.0" text-anchor="end" fill="#231f20" stroke="#231f20" stroke-width="0.12">2000</text><line x1="38.80" y1="668.70" x2="38.80" y2="671.10" stroke="#111" stroke-width="0.8"/><text x="38.80" y="677.50" font-size="7.0" text-anchor="middle" fill="#231f20" stroke="#231f20" stroke-width="0.12">0</text><line x1="56.64" y1="668.70" x2="56.64" y2="671.10" stroke="#111" stroke-width="0.8"/><text x="56.64" y="677.50" font-size="7.0" text-anchor="middle" fill="#231f20" stroke="#231f20" stroke-width="0.12">3</text><line x1="74.49" y1="668.70" x2="74.49" y2="671.10" stroke="#111" stroke-width="0.8"/><text x="74.49" y="677.50" font-size="7.0" text-anchor="middle" fill="#231f20" stroke="#231f20" stroke-width="0.12">6</text><line x1="92.33" y1="668.70" x2="92.33" y2="671.10" stroke="#111" stroke-width="0.8"/><text x="92.33" y="677.50" font-size="7.0" text-anchor="middle" fill="#231f20" stroke="#231f20" stroke-width="0.12">9</text><line x1="110.17" y1="668.70" x2="110.17" y2="671.10" stroke="#111" stroke-width="0.8"/><text x="110.17" y="677.50" font-size="7.0" text-anchor="middle" fill="#231f20" stroke="#231f20" stroke-width="0.12">12</text><line x1="128.01" y1="668.70" x2="128.01" y2="671.10" stroke="#111" stroke-width="0.8"/><text x="128.01" y="677.50" font-size="7.0" text-anchor="middle" fill="#231f20" stroke="#231f20" stroke-width="0.12">15</text><line x1="145.86" y1="668.70" x2="145.86" y2="671.10" stroke="#111" stroke-width="0.8"/><text x="145.86" y="677.50" font-size="7.0" text-anchor="middle" fill="#231f20" stroke="#231f20" stroke-width="0.12">18</text><line x1="163.70" y1="668.70" x2="163.70" y2="671.10" stroke="#111" stroke-width="0.8"/><text x="163.70" y="677.50" font-size="7.0" text-anchor="middle" fill="#231f20" stroke="#231f20" stroke-width="0.12">21</text><text x="101.25" y="690.30" font-size="7.2" text-anchor="middle" fill="#231f20" stroke="#231f20" stroke-width="0.12">Treatment time (days)</text><text x="14.00" y="619.20" font-size="7.4" text-anchor="middle" fill="#231f20" transform="rotate(-90 14.00 619.20)">Tumor volume (mm<tspan font-size="4.88" dy="-2.81">3</tspan><tspan dy="2.81">)</tspan></text><text x="111.50" y="558.40" font-size="8.0" text-anchor="middle" fill="#231f20" stroke="#231f20" stroke-width="0.12">PDX1</text><line x1="48.50" y1="569.70" x2="58.30" y2="569.70" stroke="#6e6e6e" stroke-width="1.3"/><circle cx="53.40" cy="569.70" r="1.4" fill="#6e6e6e"/><text x="63.20" y="571.90" font-size="6.0" fill="#231f20" stroke="#231f20" stroke-width="0.12">Control</text><line x1="48.50" y1="580.80" x2="58.30" y2="580.80" stroke="#e5311c" stroke-width="1.3"/><rect x="51.95" y="579.35" width="2.90" height="2.90" fill="#e5311c"/><text x="63.20" y="583.00" font-size="6.0" fill="#231f20" stroke="#231f20" stroke-width="0.12">AZD5438, 20mg/kg p.o., qd</text><line x1="48.50" y1="591.30" x2="58.30" y2="591.30" stroke="#f39a1e" stroke-width="1.3"/><path d="M53.40 589.50L55.10 592.50L51.70 592.50Z" fill="#f39a1e"/><text x="63.20" y="593.50" font-size="6.0" fill="#231f20" stroke="#231f20" stroke-width="0.12">Trastuzumab, 10mg/kg i.p., biw</text><line x1="48.50" y1="602.10" x2="58.30" y2="602.10" stroke="#9b3fb0" stroke-width="1.3"/><text x="63.20" y="604.30" font-size="6.0" fill="#231f20" stroke="#231f20" stroke-width="0.12">AZD5438 + Trastuzumab</text><path d="M162.60 580.40H167.00V591.40H162.60" fill="none" stroke="#555" stroke-width="0.6"/><text x="169.90" y="585.90" font-size="5.0" text-anchor="middle" fill="#231f20" stroke="#231f20" stroke-width="0.12" transform="rotate(90 169.90 585.90)">n.s.</text><path d="M174.60 580.40H178.70V646.90H174.60" fill="none" stroke="#555" stroke-width="0.6"/><text x="181.30" y="613.20" font-size="5.0" text-anchor="middle" fill="#231f20" stroke="#231f20" stroke-width="0.12" transform="rotate(90 181.30 613.20)">***</text><path d="M183.50 580.40H188.20V652.30H183.50" fill="none" stroke="#555" stroke-width="0.6"/><text x="191.80" y="616.00" font-size="5.0" text-anchor="middle" fill="#231f20" stroke="#231f20" stroke-width="0.12" transform="rotate(90 191.80 616.00)">***</text><line x1="231.20" y1="659.53" x2="231.20" y2="657.59" stroke="#a0a0a0" stroke-width="0.7"/><line x1="229.80" y1="657.59" x2="232.60" y2="657.59" stroke="#a0a0a0" stroke-width="0.7"/><line x1="229.80" y1="659.53" x2="232.60" y2="659.53" stroke="#a0a0a0" stroke-width="0.7"/><line x1="256.24" y1="656.13" x2="256.24" y2="651.28" stroke="#a0a0a0" stroke-width="0.7"/><line x1="254.84" y1="651.28" x2="257.64" y2="651.28" stroke="#a0a0a0" stroke-width="0.7"/><line x1="254.84" y1="656.13" x2="257.64" y2="656.13" stroke="#a0a0a0" stroke-width="0.7"/><line x1="281.28" y1="650.31" x2="281.28" y2="640.60" stroke="#a0a0a0" stroke-width="0.7"/><line x1="279.88" y1="640.60" x2="282.68" y2="640.60" stroke="#a0a0a0" stroke-width="0.7"/><line x1="279.88" y1="650.31" x2="282.68" y2="650.31" stroke="#a0a0a0" stroke-width="0.7"/><line x1="306.32" y1="637.68" x2="306.32" y2="619.24" stroke="#a0a0a0" stroke-width="0.7"/><line x1="304.92" y1="619.24" x2="307.72" y2="619.24" stroke="#a0a0a0" stroke-width="0.7"/><line x1="304.92" y1="637.68" x2="307.72" y2="637.68" stroke="#a0a0a0" stroke-width="0.7"/><line x1="331.36" y1="629.92" x2="331.36" y2="609.53" stroke="#a0a0a0" stroke-width="0.7"/><line x1="329.96" y1="609.53" x2="332.76" y2="609.53" stroke="#a0a0a0" stroke-width="0.7"/><line x1="329.96" y1="629.92" x2="332.76" y2="629.92" stroke="#a0a0a0" stroke-width="0.7"/><line x1="356.40" y1="619.72" x2="356.40" y2="586.71" stroke="#a0a0a0" stroke-width="0.7"/><line x1="355.00" y1="586.71" x2="357.80" y2="586.71" stroke="#a0a0a0" stroke-width="0.7"/><line x1="355.00" y1="619.72" x2="357.80" y2="619.72" stroke="#a0a0a0" stroke-width="0.7"/><line x1="231.20" y1="659.77" x2="231.20" y2="658.32" stroke="#ef7a68" stroke-width="0.7"/><line x1="229.80" y1="658.32" x2="232.60" y2="658.32" stroke="#ef7a68" stroke-width="0.7"/><line x1="229.80" y1="659.77" x2="232.60" y2="659.77" stroke="#ef7a68" stroke-width="0.7"/><line x1="256.24" y1="658.56" x2="256.24" y2="655.65" stroke="#ef7a68" stroke-width="0.7"/><line x1="254.84" y1="655.65" x2="257.64" y2="655.65" stroke="#ef7a68" stroke-width="0.7"/><line x1="254.84" y1="658.56" x2="257.64" y2="658.56" stroke="#ef7a68" stroke-width="0.7"/><line x1="281.28" y1="658.08" x2="281.28" y2="655.16" stroke="#ef7a68" stroke-width="0.7"/><line x1="279.88" y1="655.16" x2="282.68" y2="655.16" stroke="#ef7a68" stroke-width="0.7"/><line x1="279.88" y1="658.08" x2="282.68" y2="658.08" stroke="#ef7a68" stroke-width="0.7"/><line x1="306.32" y1="657.10" x2="306.32" y2="654.19" stroke="#ef7a68" stroke-width="0.7"/><line x1="304.92" y1="654.19" x2="307.72" y2="654.19" stroke="#ef7a68" stroke-width="0.7"/><line x1="304.92" y1="657.10" x2="307.72" y2="657.10" stroke="#ef7a68" stroke-width="0.7"/><line x1="331.36" y1="656.13" x2="331.36" y2="652.25" stroke="#ef7a68" stroke-width="0.7"/><line x1="329.96" y1="652.25" x2="332.76" y2="652.25" stroke="#ef7a68" stroke-width="0.7"/><line x1="329.96" y1="656.13" x2="332.76" y2="656.13" stroke="#ef7a68" stroke-width="0.7"/><line x1="356.40" y1="651.28" x2="356.40" y2="646.42" stroke="#ef7a68" stroke-width="0.7"/><line x1="355.00" y1="646.42" x2="357.80" y2="646.42" stroke="#ef7a68" stroke-width="0.7"/><line x1="355.00" y1="651.28" x2="357.80" y2="651.28" stroke="#ef7a68" stroke-width="0.7"/><line x1="231.20" y1="659.77" x2="231.20" y2="658.32" stroke="#f8c070" stroke-width="0.7"/><line x1="229.80" y1="658.32" x2="232.60" y2="658.32" stroke="#f8c070" stroke-width="0.7"/><line x1="229.80" y1="659.77" x2="232.60" y2="659.77" stroke="#f8c070" stroke-width="0.7"/><line x1="256.24" y1="658.08" x2="256.24" y2="655.16" stroke="#f8c070" stroke-width="0.7"/><line x1="254.84" y1="655.16" x2="257.64" y2="655.16" stroke="#f8c070" stroke-width="0.7"/><line x1="254.84" y1="658.08" x2="257.64" y2="658.08" stroke="#f8c070" stroke-width="0.7"/><line x1="281.28" y1="659.05" x2="281.28" y2="656.13" stroke="#f8c070" stroke-width="0.7"/><line x1="279.88" y1="656.13" x2="282.68" y2="656.13" stroke="#f8c070" stroke-width="0.7"/><line x1="279.88" y1="659.05" x2="282.68" y2="659.05" stroke="#f8c070" stroke-width="0.7"/><line x1="306.32" y1="657.59" x2="306.32" y2="654.68" stroke="#f8c070" stroke-width="0.7"/><line x1="304.92" y1="654.68" x2="307.72" y2="654.68" stroke="#f8c070" stroke-width="0.7"/><line x1="304.92" y1="657.59" x2="307.72" y2="657.59" stroke="#f8c070" stroke-width="0.7"/><line x1="331.36" y1="656.62" x2="331.36" y2="653.71" stroke="#f8c070" stroke-width="0.7"/><line x1="329.96" y1="653.71" x2="332.76" y2="653.71" stroke="#f8c070" stroke-width="0.7"/><line x1="329.96" y1="656.62" x2="332.76" y2="656.62" stroke="#f8c070" stroke-width="0.7"/><line x1="356.40" y1="655.16" x2="356.40" y2="649.34" stroke="#f8c070" stroke-width="0.7"/><line x1="355.00" y1="649.34" x2="357.80" y2="649.34" stroke="#f8c070" stroke-width="0.7"/><line x1="355.00" y1="655.16" x2="357.80" y2="655.16" stroke="#f8c070" stroke-width="0.7"/><line x1="231.20" y1="659.77" x2="231.20" y2="658.32" stroke="#c890d8" stroke-width="0.7"/><line x1="229.80" y1="658.32" x2="232.60" y2="658.32" stroke="#c890d8" stroke-width="0.7"/><line x1="229.80" y1="659.77" x2="232.60" y2="659.77" stroke="#c890d8" stroke-width="0.7"/><line x1="256.24" y1="660.02" x2="256.24" y2="658.08" stroke="#c890d8" stroke-width="0.7"/><line x1="254.84" y1="658.08" x2="257.64" y2="658.08" stroke="#c890d8" stroke-width="0.7"/><line x1="254.84" y1="660.02" x2="257.64" y2="660.02" stroke="#c890d8" stroke-width="0.7"/><line x1="281.28" y1="660.02" x2="281.28" y2="658.08" stroke="#c890d8" stroke-width="0.7"/><line x1="279.88" y1="658.08" x2="282.68" y2="658.08" stroke="#c890d8" stroke-width="0.7"/><line x1="279.88" y1="660.02" x2="282.68" y2="660.02" stroke="#c890d8" stroke-width="0.7"/><line x1="306.32" y1="659.29" x2="306.32" y2="657.35" stroke="#c890d8" stroke-width="0.7"/><line x1="304.92" y1="657.35" x2="307.72" y2="657.35" stroke="#c890d8" stroke-width="0.7"/><line x1="304.92" y1="659.29" x2="307.72" y2="659.29" stroke="#c890d8" stroke-width="0.7"/><line x1="331.36" y1="660.99" x2="331.36" y2="658.08" stroke="#c890d8" stroke-width="0.7"/><line x1="329.96" y1="658.08" x2="332.76" y2="658.08" stroke="#c890d8" stroke-width="0.7"/><line x1="329.96" y1="660.99" x2="332.76" y2="660.99" stroke="#c890d8" stroke-width="0.7"/><line x1="356.40" y1="661.96" x2="356.40" y2="658.08" stroke="#c890d8" stroke-width="0.7"/><line x1="355.00" y1="658.08" x2="357.80" y2="658.08" stroke="#c890d8" stroke-width="0.7"/><line x1="355.00" y1="661.96" x2="357.80" y2="661.96" stroke="#c890d8" stroke-width="0.7"/><polyline points="231.20,658.56 256.24,653.71 281.28,645.45 306.32,628.46 331.36,619.72 356.40,603.21" fill="none" stroke="#6e6e6e" stroke-width="1.3"/><circle cx="231.20" cy="658.56" r="1.4" fill="#6e6e6e"/><circle cx="256.24" cy="653.71" r="1.4" fill="#6e6e6e"/><circle cx="281.28" cy="645.45" r="1.4" fill="#6e6e6e"/><circle cx="306.32" cy="628.46" r="1.4" fill="#6e6e6e"/><circle cx="331.36" cy="619.72" r="1.4" fill="#6e6e6e"/><circle cx="356.40" cy="603.21" r="1.4" fill="#6e6e6e"/><polyline points="231.20,659.05 256.24,657.10 281.28,656.62 306.32,655.65 331.36,654.19 356.40,648.85" fill="none" stroke="#e5311c" stroke-width="1.3"/><rect x="229.75" y="657.60" width="2.90" height="2.90" fill="#e5311c"/><rect x="254.79" y="655.65" width="2.90" height="2.90" fill="#e5311c"/><rect x="279.83" y="655.17" width="2.90" height="2.90" fill="#e5311c"/><rect x="304.87" y="654.20" width="2.90" height="2.90" fill="#e5311c"/><rect x="329.91" y="652.74" width="2.90" height="2.90" fill="#e5311c"/><rect x="354.95" y="647.40" width="2.90" height="2.90" fill="#e5311c"/><polyline points="231.20,659.05 256.24,656.62 281.28,657.59 306.32,656.13 331.36,655.16 356.40,652.25" fill="none" stroke="#f39a1e" stroke-width="1.3"/><path d="M231.20 657.25L232.90 660.25L229.50 660.25Z" fill="#f39a1e"/><path d="M256.24 654.82L257.94 657.82L254.54 657.82Z" fill="#f39a1e"/><path d="M281.28 655.79L282.98 658.79L279.58 658.79Z" fill="#f39a1e"/><path d="M306.32 654.33L308.02 657.33L304.62 657.33Z" fill="#f39a1e"/><path d="M331.36 653.36L333.06 656.36L329.66 656.36Z" fill="#f39a1e"/><path d="M356.40 650.45L358.10 653.45L354.70 653.45Z" fill="#f39a1e"/><polyline points="231.20,659.05 256.24,659.05 281.28,659.05 306.32,658.32 331.36,659.53 356.40,660.02" fill="none" stroke="#9b3fb0" stroke-width="1.3"/><line x1="231.20" y1="570.20" x2="231.20" y2="667.70" stroke="#111" stroke-width="0.9"/><line x1="230.80" y1="667.30" x2="356.80" y2="667.30" stroke="#111" stroke-width="0.9"/><line x1="229.00" y1="667.30" x2="231.20" y2="667.30" stroke="#111" stroke-width="0.8"/><text x="228.40" y="669.50" font-size="7.0" text-anchor="end" fill="#231f20" stroke="#231f20" stroke-width="0.12">0</text><line x1="229.00" y1="643.02" x2="231.20" y2="643.02" stroke="#111" stroke-width="0.8"/><text x="228.40" y="645.23" font-size="7.0" text-anchor="end" fill="#231f20" stroke="#231f20" stroke-width="0.12">500</text><line x1="229.00" y1="618.75" x2="231.20" y2="618.75" stroke="#111" stroke-width="0.8"/><text x="228.40" y="620.95" font-size="7.0" text-anchor="end" fill="#231f20" stroke="#231f20" stroke-width="0.12">1000</text><line x1="229.00" y1="594.48" x2="231.20" y2="594.48" stroke="#111" stroke-width="0.8"/><text x="228.40" y="596.68" font-size="7.0" text-anchor="end" fill="#231f20" stroke="#231f20" stroke-width="0.12">1500</text><line x1="229.00" y1="570.20" x2="231.20" y2="570.20" stroke="#111" stroke-width="0.8"/><text x="228.40" y="572.40" font-size="7.0" text-anchor="end" fill="#231f20" stroke="#231f20" stroke-width="0.12">2000</text><line x1="231.20" y1="667.30" x2="231.20" y2="669.70" stroke="#111" stroke-width="0.8"/><text x="231.20" y="676.10" font-size="7.0" text-anchor="middle" fill="#231f20" stroke="#231f20" stroke-width="0.12">0</text><line x1="256.24" y1="667.30" x2="256.24" y2="669.70" stroke="#111" stroke-width="0.8"/><text x="256.24" y="676.10" font-size="7.0" text-anchor="middle" fill="#231f20" stroke="#231f20" stroke-width="0.12">4</text><line x1="281.28" y1="667.30" x2="281.28" y2="669.70" stroke="#111" stroke-width="0.8"/><text x="281.28" y="676.10" font-size="7.0" text-anchor="middle" fill="#231f20" stroke="#231f20" stroke-width="0.12">8</text><line x1="306.32" y1="667.30" x2="306.32" y2="669.70" stroke="#111" stroke-width="0.8"/><text x="306.32" y="676.10" font-size="7.0" text-anchor="middle" fill="#231f20" stroke="#231f20" stroke-width="0.12">12</text><line x1="331.36" y1="667.30" x2="331.36" y2="669.70" stroke="#111" stroke-width="0.8"/><text x="331.36" y="676.10" font-size="7.0" text-anchor="middle" fill="#231f20" stroke="#231f20" stroke-width="0.12">16</text><line x1="356.40" y1="667.30" x2="356.40" y2="669.70" stroke="#111" stroke-width="0.8"/><text x="356.40" y="676.10" font-size="7.0" text-anchor="middle" fill="#231f20" stroke="#231f20" stroke-width="0.12">20</text><text x="293.80" y="689.30" font-size="7.2" text-anchor="middle" fill="#231f20" stroke="#231f20" stroke-width="0.12">Treatment time (days)</text><text x="208.30" y="618.75" font-size="7.4" text-anchor="middle" fill="#231f20" transform="rotate(-90 208.30 618.75)">Tumor volume (mm<tspan font-size="4.88" dy="-2.81">3</tspan><tspan dy="2.81">)</tspan></text><text x="304.30" y="557.30" font-size="8.2" text-anchor="middle" fill="#231f20" stroke="#231f20" stroke-width="0.12">PDX8</text><line x1="242.70" y1="570.80" x2="251.60" y2="570.80" stroke="#6e6e6e" stroke-width="1.3"/><circle cx="247.15" cy="570.80" r="1.4" fill="#6e6e6e"/><text x="257.40" y="573.00" font-size="6.0" fill="#231f20" stroke="#231f20" stroke-width="0.12">Control</text><line x1="242.70" y1="581.60" x2="251.60" y2="581.60" stroke="#e5311c" stroke-width="1.3"/><rect x="245.70" y="580.15" width="2.90" height="2.90" fill="#e5311c"/><text x="257.40" y="583.80" font-size="6.0" fill="#231f20" stroke="#231f20" stroke-width="0.12">AZD5438, 20mg/kg p.o., qd</text><line x1="242.70" y1="591.90" x2="251.60" y2="591.90" stroke="#f39a1e" stroke-width="1.3"/><path d="M247.15 590.10L248.85 593.10L245.45 593.10Z" fill="#f39a1e"/><text x="257.40" y="594.10" font-size="6.0" fill="#231f20" stroke="#231f20" stroke-width="0.12">Trastuzumab, 10mg/kg i.p., biw</text><line x1="242.70" y1="602.70" x2="251.60" y2="602.70" stroke="#9b3fb0" stroke-width="1.3"/><text x="257.40" y="604.90" font-size="6.0" fill="#231f20" stroke="#231f20" stroke-width="0.12">AZD5438 + Trastuzumab</text><path d="M362.10 602.00H366.80V649.00H362.10" fill="none" stroke="#555" stroke-width="0.6"/><text x="368.70" y="623.30" font-size="5.0" text-anchor="middle" fill="#231f20" stroke="#231f20" stroke-width="0.12" transform="rotate(90 368.70 623.30)">***</text><path d="M371.10 602.00H376.10V652.50H371.10" fill="none" stroke="#555" stroke-width="0.6"/><text x="378.80" y="627.40" font-size="5.0" text-anchor="middle" fill="#231f20" stroke="#231f20" stroke-width="0.12" transform="rotate(90 378.80 627.40)">***</text><path d="M380.50 602.00H385.50V660.10H380.50" fill="none" stroke="#555" stroke-width="0.6"/><text x="388.20" y="628.50" font-size="5.0" text-anchor="middle" fill="#231f20" stroke="#231f20" stroke-width="0.12" transform="rotate(90 388.20 628.50)">***</text><rect x="57.80" y="707.30" width="119.70" height="106.30" fill="#92bcc8"/><radialGradient id="tg34" cx="0.42" cy="0.38" r="0.7"><stop offset="0" stop-color="#f8dac4"/><stop offset="0.55" stop-color="#f0b49a"/><stop offset="1" stop-color="#f0b49a"/></radialGradient><g transform="rotate(-30 68.20 723.20)"><g fill="#5a8ea0" opacity="0.5"><ellipse cx="69.40" cy="724.10" rx="6.00" ry="10.00"/><ellipse cx="67.62" cy="725.95" rx="3.67" ry="6.59"/><ellipse cx="68.97" cy="720.68" rx="3.96" ry="7.22"/></g><g fill="url(#tg34)"><ellipse cx="68.20" cy="723.20" rx="6.00" ry="10.00"/><ellipse cx="66.42" cy="725.05" rx="3.67" ry="6.59"/><ellipse cx="67.77" cy="719.78" rx="3.96" ry="7.22"/></g></g><radialGradient id="tg35" cx="0.42" cy="0.38" r="0.7"><stop offset="0" stop-color="#f8dac4"/><stop offset="0.55" stop-color="#f0b49a"/><stop offset="1" stop-color="#f0b49a"/></radialGradient><g transform="rotate(-35 91.00 724.30)"><g fill="#5a8ea0" opacity="0.5"><ellipse cx="92.20" cy="725.20" rx="6.00" ry="9.00"/><ellipse cx="93.44" cy="722.66" rx="3.71" ry="6.01"/><ellipse cx="94.29" cy="725.43" rx="4.08" ry="6.34"/></g><g fill="url(#tg35)"><ellipse cx="91.00" cy="724.30" rx="6.00" ry="9.00"/><ellipse cx="92.24" cy="721.76" rx="3.71" ry="6.01"/><ellipse cx="93.09" cy="724.53" rx="4.08" ry="6.34"/></g></g><radialGradient id="tg36" cx="0.42" cy="0.38" r="0.7"><stop offset="0" stop-color="#f8dac4"/><stop offset="0.55" stop-color="#f0b49a"/><stop offset="1" stop-color="#f0b49a"/></radialGradient><g transform="rotate(-35 117.50 722.90)"><g fill="#5a8ea0" opacity="0.5"><ellipse cx="118.70" cy="723.80" rx="6.50" ry="10.00"/><ellipse cx="117.92" cy="727.09" rx="4.49" ry="6.54"/><ellipse cx="120.96" cy="723.36" rx="4.76" ry="7.31"/></g><g fill="url(#tg36)"><ellipse cx="117.50" cy="722.90" rx="6.50" ry="10.00"/><ellipse cx="116.72" cy="726.19" rx="4.49" ry="6.54"/><ellipse cx="119.76" cy="722.46" rx="4.76" ry="7.31"/></g></g><radialGradient id="tg37" cx="0.42" cy="0.38" r="0.7"><stop offset="0" stop-color="#f8dac4"/><stop offset="0.55" stop-color="#f0b49a"/><stop offset="1" stop-color="#f0b49a"/></radialGradient><g transform="rotate(-15 140.80 725.50)"><g fill="#5a8ea0" opacity="0.5"><ellipse cx="142.00" cy="726.40" rx="6.00" ry="10.00"/><ellipse cx="143.73" cy="728.39" rx="4.14" ry="7.24"/><ellipse cx="143.06" cy="723.38" rx="4.24" ry="7.40"/></g><g fill="url(#tg37)"><ellipse cx="140.80" cy="725.50" rx="6.00" ry="10.00"/><ellipse cx="142.53" cy="727.49" rx="4.14" ry="7.24"/><ellipse cx="141.86" cy="722.48" rx="4.24" ry="7.40"/></g></g><radialGradient id="tg38" cx="0.42" cy="0.38" r="0.7"><stop offset="0" stop-color="#f8dac4"/><stop offset="0.55" stop-color="#f0b49a"/><stop offset="1" stop-color="#f0b49a"/></radialGradient><g transform="rotate(-30 164.00 726.00)"><g fill="#5a8ea0" opacity="0.5"><ellipse cx="165.20" cy="726.90" rx="6.50" ry="9.50"/><ellipse cx="166.35" cy="729.77" rx="4.07" ry="6.73"/><ellipse cx="165.09" cy="723.58" rx="4.01" ry="6.28"/></g><g fill="url(#tg38)"><ellipse cx="164.00" cy="726.00" rx="6.50" ry="9.50"/><ellipse cx="165.15" cy="728.87" rx="4.07" ry="6.73"/><ellipse cx="163.89" cy="722.68" rx="4.01" ry="6.28"/></g></g><radialGradient id="tg39" cx="0.42" cy="0.38" r="0.7"><stop offset="0" stop-color="#f8dac4"/><stop offset="0.55" stop-color="#f0b49a"/><stop offset="1" stop-color="#f0b49a"/></radialGradient><g transform="rotate(-35 71.80 752.90)"><g fill="#5a8ea0" opacity="0.5"><ellipse cx="73.00" cy="753.80" rx="6.50" ry="11.00"/><ellipse cx="74.23" cy="750.56" rx="4.67" ry="7.98"/><ellipse cx="71.16" cy="756.07" rx="4.39" ry="7.16"/></g><g fill="url(#tg39)"><ellipse cx="71.80" cy="752.90" rx="6.50" ry="11.00"/><ellipse cx="73.03" cy="749.66" rx="4.67" ry="7.98"/><ellipse cx="69.96" cy="755.17" rx="4.39" ry="7.16"/></g></g><radialGradient id="tg40" cx="0.42" cy="0.38" r="0.7"><stop offset="0" stop-color="#f8dac4"/><stop offset="0.55" stop-color="#f0b49a"/><stop offset="1" stop-color="#f0b49a"/></radialGradient><g transform="rotate(-30 95.20 752.90)"><g fill="#5a8ea0" opacity="0.5"><ellipse cx="96.40" cy="753.80" rx="5.80" ry="10.00"/><ellipse cx="97.74" cy="751.17" rx="4.10" ry="6.22"/><ellipse cx="96.21" cy="750.31" rx="3.84" ry="7.39"/></g><g fill="url(#tg40)"><ellipse cx="95.20" cy="752.90" rx="5.80" ry="10.00"/><ellipse cx="96.54" cy="750.27" rx="4.10" ry="6.22"/><ellipse cx="95.01" cy="749.41" rx="3.84" ry="7.39"/></g></g><radialGradient id="tg41" cx="0.42" cy="0.38" r="0.7"><stop offset="0" stop-color="#f8dac4"/><stop offset="0.55" stop-color="#f0b49a"/><stop offset="1" stop-color="#f0b49a"/></radialGradient><g transform="rotate(-5 118.20 754.70)"><g fill="#5a8ea0" opacity="0.5"><ellipse cx="119.40" cy="755.60" rx="5.50" ry="10.00"/><ellipse cx="118.94" cy="759.00" rx="3.48" ry="7.02"/><ellipse cx="121.11" cy="753.99" rx="3.36" ry="6.00"/></g><g fill="url(#tg41)"><ellipse cx="118.20" cy="754.70" rx="5.50" ry="10.00"/><ellipse cx="117.74" cy="758.10" rx="3.48" ry="7.02"/><ellipse cx="119.91" cy="753.09" rx="3.36" ry="6.00"/></g></g><radialGradient id="tg42" cx="0.42" cy="0.38" r="0.7"><stop offset="0" stop-color="#f8dac4"/><stop offset="0.55" stop-color="#f0b49a"/><stop offset="1" stop-color="#f0b49a"/></radialGradient><g transform="rotate(-15 140.50 756.10)"><g fill="#5a8ea0" opacity="0.5"><ellipse cx="141.70" cy="757.00" rx="5.80" ry="9.50"/><ellipse cx="139.88" cy="755.52" rx="3.68" ry="6.32"/><ellipse cx="142.16" cy="760.24" rx="4.11" ry="6.82"/></g><g fill="url(#tg42)"><ellipse cx="140.50" cy="756.10" rx="5.80" ry="9.50"/><ellipse cx="138.68" cy="754.62" rx="3.68" ry="6.32"/><ellipse cx="140.96" cy="759.34" rx="4.11" ry="6.82"/></g></g><radialGradient id="tg43" cx="0.42" cy="0.38" r="0.7"><stop offset="0" stop-color="#f8dac4"/><stop offset="0.55" stop-color="#f0b49a"/><stop offset="1" stop-color="#f0b49a"/></radialGradient><g transform="rotate(-15 164.00 758.20)"><g fill="#5a8ea0" opacity="0.5"><ellipse cx="165.20" cy="759.10" rx="5.00" ry="8.50"/><ellipse cx="164.45" cy="756.41" rx="3.64" ry="5.27"/><ellipse cx="165.51" cy="762.03" rx="3.64" ry="5.40"/></g><g fill="url(#tg43)"><ellipse cx="164.00" cy="758.20" rx="5.00" ry="8.50"/><ellipse cx="163.25" cy="755.51" rx="3.64" ry="5.27"/><ellipse cx="164.31" cy="761.13" rx="3.64" ry="5.40"/></g></g><radialGradient id="tg44" cx="0.42" cy="0.38" r="0.7"><stop offset="0" stop-color="#f8dac4"/><stop offset="0.55" stop-color="#f0b49a"/><stop offset="1" stop-color="#f0b49a"/></radialGradient><g transform="rotate(-30 74.90 779.80)"><g fill="#5a8ea0" opacity="0.5"><ellipse cx="76.10" cy="780.70" rx="5.50" ry="6.50"/><ellipse cx="77.46" cy="782.31" rx="3.53" ry="3.93"/><ellipse cx="77.99" cy="780.27" rx="4.07" ry="4.27"/></g><g fill="url(#tg44)"><ellipse cx="74.90" cy="779.80" rx="5.50" ry="6.50"/><ellipse cx="76.26" cy="781.41" rx="3.53" ry="3.93"/><ellipse cx="76.79" cy="779.37" rx="4.07" ry="4.27"/></g></g><radialGradient id="tg45" cx="0.42" cy="0.38" r="0.7"><stop offset="0" stop-color="#f8dac4"/><stop offset="0.55" stop-color="#f0b49a"/><stop offset="1" stop-color="#f0b49a"/></radialGradient><g transform="rotate(0 100.30 778.90)"><g fill="#5a8ea0" opacity="0.5"><ellipse cx="101.50" cy="779.80" rx="5.00" ry="5.60"/><ellipse cx="101.09" cy="781.71" rx="3.49" ry="4.10"/><ellipse cx="100.19" cy="781.10" rx="3.67" ry="3.96"/></g><g fill="url(#tg45)"><ellipse cx="100.30" cy="778.90" rx="5.00" ry="5.60"/><ellipse cx="99.89" cy="780.81" rx="3.49" ry="4.10"/><ellipse cx="98.99" cy="780.20" rx="3.67" ry="3.96"/></g></g><radialGradient id="tg46" cx="0.42" cy="0.38" r="0.7"><stop offset="0" stop-color="#f8dac4"/><stop offset="0.55" stop-color="#f0b49a"/><stop offset="1" stop-color="#f0b49a"/></radialGradient><g transform="rotate(-35 122.50 779.30)"><g fill="#5a8ea0" opacity="0.5"><ellipse cx="123.70" cy="780.20" rx="5.30" ry="6.50"/><ellipse cx="123.95" cy="777.95" rx="3.66" ry="4.40"/><ellipse cx="122.25" cy="778.78" rx="3.90" ry="4.20"/></g><g fill="url(#tg46)"><ellipse cx="122.50" cy="779.30" rx="5.30" ry="6.50"/><ellipse cx="122.75" cy="777.05" rx="3.66" ry="4.40"/><ellipse cx="121.05" cy="777.88" rx="3.90" ry="4.20"/></g></g><radialGradient id="tg47" cx="0.42" cy="0.38" r="0.7"><stop offset="0" stop-color="#f8dac4"/><stop offset="0.55" stop-color="#f0b49a"/><stop offset="1" stop-color="#f0b49a"/></radialGradient><g transform="rotate(0 143.20 778.20)"><g fill="#5a8ea0" opacity="0.5"><ellipse cx="144.40" cy="779.10" rx="4.10" ry="5.00"/><ellipse cx="143.49" cy="780.45" rx="2.81" ry="3.67"/><ellipse cx="145.66" cy="779.93" rx="2.47" ry="3.39"/></g><g fill="url(#tg47)"><ellipse cx="143.20" cy="778.20" rx="4.10" ry="5.00"/><ellipse cx="142.29" cy="779.55" rx="2.81" ry="3.67"/><ellipse cx="144.46" cy="779.03" rx="2.47" ry="3.39"/></g></g><radialGradient id="tg48" cx="0.42" cy="0.38" r="0.7"><stop offset="0" stop-color="#f8dac4"/><stop offset="0.55" stop-color="#f0b49a"/><stop offset="1" stop-color="#f0b49a"/></radialGradient><g transform="rotate(0 165.70 778.90)"><g fill="#5a8ea0" opacity="0.5"><ellipse cx="166.90" cy="779.80" rx="4.00" ry="5.50"/><ellipse cx="167.91" cy="781.13" rx="2.97" ry="3.48"/><ellipse cx="165.55" cy="780.31" rx="2.86" ry="3.67"/></g><g fill="url(#tg48)"><ellipse cx="165.70" cy="778.90" rx="4.00" ry="5.50"/><ellipse cx="166.71" cy="780.23" rx="2.97" ry="3.48"/><ellipse cx="164.35" cy="779.41" rx="2.86" ry="3.67"/></g></g><radialGradient id="tg49" cx="0.42" cy="0.38" r="0.7"><stop offset="0" stop-color="#f8dac4"/><stop offset="0.55" stop-color="#f0b49a"/><stop offset="1" stop-color="#f0b49a"/></radialGradient><g transform="rotate(-20 75.70 800.10)"><g fill="#5a8ea0" opacity="0.5"><ellipse cx="76.90" cy="801.00" rx="5.50" ry="6.30"/><ellipse cx="74.98" cy="800.96" rx="4.11" ry="4.34"/><ellipse cx="75.31" cy="799.76" rx="3.33" ry="4.29"/></g><g fill="url(#tg49)"><ellipse cx="75.70" cy="800.10" rx="5.50" ry="6.30"/><ellipse cx="73.78" cy="800.06" rx="4.11" ry="4.34"/><ellipse cx="74.11" cy="798.86" rx="3.33" ry="4.29"/></g></g><radialGradient id="tg50" cx="0.42" cy="0.38" r="0.7"><stop offset="0" stop-color="#f8dac4"/><stop offset="0.55" stop-color="#f0b49a"/><stop offset="1" stop-color="#f0b49a"/></radialGradient><g transform="rotate(-30 99.40 802.70)"><g fill="#5a8ea0" opacity="0.5"><ellipse cx="100.60" cy="803.60" rx="5.30" ry="5.80"/><ellipse cx="98.78" cy="804.01" rx="3.56" ry="3.74"/><ellipse cx="102.31" cy="802.80" rx="3.95" ry="3.94"/></g><g fill="url(#tg50)"><ellipse cx="99.40" cy="802.70" rx="5.30" ry="5.80"/><ellipse cx="97.58" cy="803.11" rx="3.56" ry="3.74"/><ellipse cx="101.11" cy="801.90" rx="3.95" ry="3.94"/></g></g><radialGradient id="tg51" cx="0.42" cy="0.38" r="0.7"><stop offset="0" stop-color="#f8dac4"/><stop offset="0.55" stop-color="#f0b49a"/><stop offset="1" stop-color="#f0b49a"/></radialGradient><g transform="rotate(0 125.70 801.70)"><g fill="#5a8ea0" opacity="0.5"><ellipse cx="126.90" cy="802.60" rx="4.70" ry="4.60"/><ellipse cx="127.10" cy="804.20" rx="3.21" ry="3.33"/><ellipse cx="126.58" cy="804.18" rx="3.51" ry="3.16"/></g><g fill="url(#tg51)"><ellipse cx="125.70" cy="801.70" rx="4.70" ry="4.60"/><ellipse cx="125.90" cy="803.30" rx="3.21" ry="3.33"/><ellipse cx="125.38" cy="803.28" rx="3.51" ry="3.16"/></g></g><radialGradient id="tg52" cx="0.42" cy="0.38" r="0.7"><stop offset="0" stop-color="#f8dac4"/><stop offset="0.55" stop-color="#f0b49a"/><stop offset="1" stop-color="#f0b49a"/></radialGradient><g transform="rotate(-15 143.20 802.20)"><g fill="#5a8ea0" opacity="0.5"><ellipse cx="144.40" cy="803.10" rx="4.00" ry="6.00"/><ellipse cx="144.08" cy="801.06" rx="2.53" ry="3.76"/><ellipse cx="144.92" cy="801.15" rx="2.56" ry="3.94"/></g><g fill="url(#tg52)"><ellipse cx="143.20" cy="802.20" rx="4.00" ry="6.00"/><ellipse cx="142.88" cy="800.16" rx="2.53" ry="3.76"/><ellipse cx="143.72" cy="800.25" rx="2.56" ry="3.94"/></g></g><radialGradient id="tg53" cx="0.42" cy="0.38" r="0.7"><stop offset="0" stop-color="#f8dac4"/><stop offset="0.55" stop-color="#f0b49a"/><stop offset="1" stop-color="#f0b49a"/></radialGradient><g transform="rotate(0 164.90 801.70)"><g fill="#5a8ea0" opacity="0.5"><ellipse cx="166.10" cy="802.60" rx="3.70" ry="4.60"/><ellipse cx="167.34" cy="802.14" rx="2.37" ry="2.82"/><ellipse cx="167.09" cy="803.64" rx="2.44" ry="3.42"/></g><g fill="url(#tg53)"><ellipse cx="164.90" cy="801.70" rx="3.70" ry="4.60"/><ellipse cx="166.14" cy="801.24" rx="2.37" ry="2.82"/><ellipse cx="165.89" cy="802.74" rx="2.44" ry="3.42"/></g></g><linearGradient id="rg54" x1="0" y1="0" x2="1" y2="0"><stop offset="0" stop-color="#a38474"/><stop offset="1" stop-color="#8a6a5c"/></linearGradient><rect x="57.80" y="813.60" width="119.70" height="15.20" fill="url(#rg54)"/><path d="M58.80 814.60v4.5M59.96 814.60v2M61.12 814.60v2M62.28 814.60v2M63.44 814.60v2M64.60 814.60v3M65.76 814.60v2M66.92 814.60v2M68.08 814.60v2M69.24 814.60v2M70.40 814.60v4.5M71.56 814.60v2M72.72 814.60v2M73.88 814.60v2M75.04 814.60v2M76.20 814.60v3M77.36 814.60v2M78.52 814.60v2M79.68 814.60v2M80.84 814.60v2M82.00 814.60v4.5M83.16 814.60v2M84.32 814.60v2M85.48 814.60v2M86.64 814.60v2M87.80 814.60v3M88.96 814.60v2M90.12 814.60v2M91.28 814.60v2M92.44 814.60v2M93.60 814.60v4.5M94.76 814.60v2M95.92 814.60v2M97.08 814.60v2M98.24 814.60v2M99.40 814.60v3M100.56 814.60v2M101.72 814.60v2M102.88 814.60v2M104.04 814.60v2M105.20 814.60v4.5M106.36 814.60v2M107.52 814.60v2M108.68 814.60v2M109.84 814.60v2M111.00 814.60v3M112.16 814.60v2M113.32 814.60v2M114.48 814.60v2M115.64 814.60v2M116.80 814.60v4.5M117.96 814.60v2M119.12 814.60v2M120.28 814.60v2M121.44 814.60v2M122.60 814.60v3M123.76 814.60v2M124.92 814.60v2M126.08 814.60v2M127.24 814.60v2M128.40 814.60v4.5M129.56 814.60v2M130.72 814.60v2M131.88 814.60v2M133.04 814.60v2M134.20 814.60v3M135.36 814.60v2M136.52 814.60v2M137.68 814.60v2M138.84 814.60v2M140.00 814.60v4.5M141.16 814.60v2M142.32 814.60v2M143.48 814.60v2M144.64 814.60v2M145.80 814.60v3M146.96 814.60v2M148.12 814.60v2M149.28 814.60v2M150.44 814.60v2M151.60 814.60v4.5M152.76 814.60v2M153.92 814.60v2M155.08 814.60v2M156.24 814.60v2M157.40 814.60v3M158.56 814.60v2M159.72 814.60v2M160.88 814.60v2M162.04 814.60v2M163.20 814.60v4.5M164.36 814.60v2M165.52 814.60v2M166.68 814.60v2M167.84 814.60v2M169.00 814.60v3M170.16 814.60v2M171.32 814.60v2M172.48 814.60v2M173.64 814.60v2M174.80 814.60v4.5M175.96 814.60v2M177.12 814.60v2" stroke="#000" stroke-opacity="0.28" stroke-width="0.4"/><line x1="57.80" y1="813.90" x2="177.50" y2="813.90" stroke="#000" stroke-width="0.5" stroke-opacity="0.2"/><g font-family="Liberation Serif, serif" font-size="5.8" font-weight="bold" fill="#2a2020" text-anchor="middle"><text x="67.50" y="828.00" font-size="5.80" font-family="'Liberation Serif', serif">3</text><text x="79.10" y="828.00" font-size="5.80" font-family="'Liberation Serif', serif">4</text><text x="90.70" y="828.00" font-size="5.80" font-family="'Liberation Serif', serif">5</text><text x="102.30" y="828.00" font-size="5.80" font-family="'Liberation Serif', serif">6</text><text x="113.90" y="828.00" font-size="5.80" font-family="'Liberation Serif', serif">7</text><text x="125.50" y="828.00" font-size="5.80" font-family="'Liberation Serif', serif">8</text><text x="137.10" y="828.00" font-size="5.80" font-family="'Liberation Serif', serif">9</text><text x="148.70" y="828.00" font-size="7.83" font-family="'Liberation Serif', serif">10</text><text x="160.30" y="828.00" font-size="5.80" font-family="'Liberation Serif', serif">11</text><text x="171.90" y="828.00" font-size="5.80" font-family="'Liberation Serif', serif">12</text></g><text x="51.10" y="717.60" font-size="8.0" text-anchor="end" fill="#231f20" stroke="#231f20" stroke-width="0.12">Control</text><text x="51.10" y="748.00" font-size="8.0" text-anchor="end" fill="#231f20" stroke="#231f20" stroke-width="0.12">AZD5438</text><text x="51.10" y="773.20" font-size="8.0" text-anchor="end" fill="#231f20" stroke="#231f20" stroke-width="0.12">Trastuzumab</text><text x="5.30" y="791.30" font-size="8.0" fill="#231f20" stroke="#231f20" stroke-width="0.12">AZD4328 +</text><text x="5.30" y="800.60" font-size="8.0" fill="#231f20" stroke="#231f20" stroke-width="0.12">Trastuzumab</text><rect x="243.80" y="708.20" width="136.30" height="120.60" fill="#84c6d0"/><radialGradient id="tg55" cx="0.42" cy="0.38" r="0.7"><stop offset="0" stop-color="#fde4cf"/><stop offset="0.55" stop-color="#f4c0a6"/><stop offset="1" stop-color="#f4c0a6"/></radialGradient><g transform="rotate(0 257.50 722.20)"><g fill="#3a8a98" opacity="0.5"><ellipse cx="255.90" cy="722.80" rx="8.00" ry="9.20"/><ellipse cx="253.55" cy="724.55" rx="5.60" ry="6.74"/><ellipse cx="258.54" cy="723.88" rx="5.25" ry="6.25"/></g><g fill="url(#tg55)"><ellipse cx="257.50" cy="722.20" rx="8.00" ry="9.20"/><ellipse cx="255.15" cy="723.95" rx="5.60" ry="6.74"/><ellipse cx="260.14" cy="723.28" rx="5.25" ry="6.25"/></g></g><radialGradient id="tg56" cx="0.42" cy="0.38" r="0.7"><stop offset="0" stop-color="#fde4cf"/><stop offset="0.55" stop-color="#f4c0a6"/><stop offset="1" stop-color="#f4c0a6"/></radialGradient><g transform="rotate(0 285.50 724.40)"><g fill="#3a8a98" opacity="0.5"><ellipse cx="283.90" cy="725.00" rx="7.40" ry="9.20"/><ellipse cx="282.48" cy="722.31" rx="4.72" ry="6.41"/><ellipse cx="281.59" cy="723.53" rx="4.92" ry="6.86"/></g><g fill="url(#tg56)"><ellipse cx="285.50" cy="724.40" rx="7.40" ry="9.20"/><ellipse cx="284.08" cy="721.71" rx="4.72" ry="6.41"/><ellipse cx="283.19" cy="722.93" rx="4.92" ry="6.86"/></g></g><radialGradient id="tg57" cx="0.42" cy="0.38" r="0.7"><stop offset="0" stop-color="#fde4cf"/><stop offset="0.55" stop-color="#f4c0a6"/><stop offset="1" stop-color="#f4c0a6"/></radialGradient><g transform="rotate(0 314.40 725.50)"><g fill="#3a8a98" opacity="0.5"><ellipse cx="312.80" cy="726.10" rx="7.70" ry="7.40"/><ellipse cx="314.76" cy="724.33" rx="5.33" ry="4.65"/><ellipse cx="310.78" cy="724.38" rx="4.75" ry="4.62"/></g><g fill="url(#tg57)"><ellipse cx="314.40" cy="725.50" rx="7.70" ry="7.40"/><ellipse cx="316.36" cy="723.73" rx="5.33" ry="4.65"/><ellipse cx="312.38" cy="723.78" rx="4.75" ry="4.62"/></g></g><radialGradient id="tg58" cx="0.42" cy="0.38" r="0.7"><stop offset="0" stop-color="#fde4cf"/><stop offset="0.55" stop-color="#f4c0a6"/><stop offset="1" stop-color="#f4c0a6"/></radialGradient><g transform="rotate(0 343.20 725.10)"><g fill="#3a8a98" opacity="0.5"><ellipse cx="341.60" cy="725.70" rx="6.90" ry="8.50"/><ellipse cx="341.74" cy="722.73" rx="4.22" ry="6.24"/><ellipse cx="344.00" cy="726.01" rx="4.94" ry="6.11"/></g><g fill="url(#tg58)"><ellipse cx="343.20" cy="725.10" rx="6.90" ry="8.50"/><ellipse cx="343.34" cy="722.13" rx="4.22" ry="6.24"/><ellipse cx="345.60" cy="725.41" rx="4.94" ry="6.11"/></g></g><radialGradient id="tg59" cx="0.42" cy="0.38" r="0.7"><stop offset="0" stop-color="#fde4cf"/><stop offset="0.55" stop-color="#f4c0a6"/><stop offset="1" stop-color="#f4c0a6"/></radialGradient><g transform="rotate(-20 370.00 724.50)"><g fill="#3a8a98" opacity="0.5"><ellipse cx="368.40" cy="725.10" rx="7.20" ry="8.00"/><ellipse cx="368.28" cy="722.30" rx="5.16" ry="5.04"/><ellipse cx="368.48" cy="722.30" rx="5.23" ry="5.16"/></g><g fill="url(#tg59)"><ellipse cx="370.00" cy="724.50" rx="7.20" ry="8.00"/><ellipse cx="369.88" cy="721.70" rx="5.16" ry="5.04"/><ellipse cx="370.08" cy="721.70" rx="5.23" ry="5.16"/></g></g><radialGradient id="tg60" cx="0.42" cy="0.38" r="0.7"><stop offset="0" stop-color="#fde4cf"/><stop offset="0.55" stop-color="#f4c0a6"/><stop offset="1" stop-color="#f4c0a6"/></radialGradient><g transform="rotate(0 256.40 750.50)"><g fill="#3a8a98" opacity="0.5"><ellipse cx="254.80" cy="751.10" rx="4.80" ry="5.30"/><ellipse cx="255.17" cy="749.29" rx="2.90" ry="3.77"/><ellipse cx="253.52" cy="749.89" rx="2.89" ry="3.46"/></g><g fill="url(#tg60)"><ellipse cx="256.40" cy="750.50" rx="4.80" ry="5.30"/><ellipse cx="256.77" cy="748.69" rx="2.90" ry="3.77"/><ellipse cx="255.12" cy="749.29" rx="2.89" ry="3.46"/></g></g><radialGradient id="tg61" cx="0.42" cy="0.38" r="0.7"><stop offset="0" stop-color="#fde4cf"/><stop offset="0.55" stop-color="#f4c0a6"/><stop offset="1" stop-color="#f4c0a6"/></radialGradient><g transform="rotate(0 283.90 752.40)"><g fill="#3a8a98" opacity="0.5"><ellipse cx="282.30" cy="753.00" rx="5.80" ry="5.50"/><ellipse cx="280.54" cy="753.95" rx="4.21" ry="3.83"/><ellipse cx="282.26" cy="751.08" rx="3.95" ry="3.76"/></g><g fill="url(#tg61)"><ellipse cx="283.90" cy="752.40" rx="5.80" ry="5.50"/><ellipse cx="282.14" cy="753.35" rx="4.21" ry="3.83"/><ellipse cx="283.86" cy="750.48" rx="3.95" ry="3.76"/></g></g><radialGradient id="tg62" cx="0.42" cy="0.38" r="0.7"><stop offset="0" stop-color="#fde4cf"/><stop offset="0.55" stop-color="#f4c0a6"/><stop offset="1" stop-color="#f4c0a6"/></radialGradient><g transform="rotate(0 313.80 751.00)"><g fill="#3a8a98" opacity="0.5"><ellipse cx="312.20" cy="751.60" rx="5.00" ry="5.80"/><ellipse cx="310.98" cy="750.14" rx="3.42" ry="3.75"/><ellipse cx="311.13" cy="753.21" rx="3.08" ry="4.12"/></g><g fill="url(#tg62)"><ellipse cx="313.80" cy="751.00" rx="5.00" ry="5.80"/><ellipse cx="312.58" cy="749.54" rx="3.42" ry="3.75"/><ellipse cx="312.73" cy="752.61" rx="3.08" ry="4.12"/></g></g><radialGradient id="tg63" cx="0.42" cy="0.38" r="0.7"><stop offset="0" stop-color="#fde4cf"/><stop offset="0.55" stop-color="#f4c0a6"/><stop offset="1" stop-color="#f4c0a6"/></radialGradient><g transform="rotate(20 340.90 752.60)"><g fill="#3a8a98" opacity="0.5"><ellipse cx="339.30" cy="753.20" rx="6.70" ry="5.70"/><ellipse cx="338.45" cy="751.34" rx="4.44" ry="3.45"/><ellipse cx="338.76" cy="751.26" rx="4.80" ry="3.71"/></g><g fill="url(#tg63)"><ellipse cx="340.90" cy="752.60" rx="6.70" ry="5.70"/><ellipse cx="340.05" cy="750.74" rx="4.44" ry="3.45"/><ellipse cx="340.36" cy="750.66" rx="4.80" ry="3.71"/></g></g><radialGradient id="tg64" cx="0.42" cy="0.38" r="0.7"><stop offset="0" stop-color="#fde4cf"/><stop offset="0.55" stop-color="#f4c0a6"/><stop offset="1" stop-color="#f4c0a6"/></radialGradient><g transform="rotate(0 366.30 750.80)"><g fill="#3a8a98" opacity="0.5"><ellipse cx="364.70" cy="751.40" rx="4.50" ry="6.00"/><ellipse cx="365.69" cy="749.76" rx="2.95" ry="4.40"/><ellipse cx="363.13" cy="751.59" rx="2.76" ry="3.90"/></g><g fill="url(#tg64)"><ellipse cx="366.30" cy="750.80" rx="4.50" ry="6.00"/><ellipse cx="367.29" cy="749.16" rx="2.95" ry="4.40"/><ellipse cx="364.73" cy="750.99" rx="2.76" ry="3.90"/></g></g><radialGradient id="tg65" cx="0.42" cy="0.38" r="0.7"><stop offset="0" stop-color="#fde4cf"/><stop offset="0.55" stop-color="#f4c0a6"/><stop offset="1" stop-color="#f4c0a6"/></radialGradient><g transform="rotate(0 255.90 773.20)"><g fill="#3a8a98" opacity="0.5"><ellipse cx="254.30" cy="773.80" rx="4.20" ry="4.80"/><ellipse cx="253.69" cy="775.33" rx="3.09" ry="3.58"/><ellipse cx="255.16" cy="772.44" rx="2.85" ry="3.06"/></g><g fill="url(#tg65)"><ellipse cx="255.90" cy="773.20" rx="4.20" ry="4.80"/><ellipse cx="255.29" cy="774.73" rx="3.09" ry="3.58"/><ellipse cx="256.76" cy="771.84" rx="2.85" ry="3.06"/></g></g><radialGradient id="tg66" cx="0.42" cy="0.38" r="0.7"><stop offset="0" stop-color="#fde4cf"/><stop offset="0.55" stop-color="#f4c0a6"/><stop offset="1" stop-color="#f4c0a6"/></radialGradient><g transform="rotate(0 283.90 774.30)"><g fill="#3a8a98" opacity="0.5"><ellipse cx="282.30" cy="774.90" rx="3.70" ry="4.80"/><ellipse cx="281.31" cy="775.98" rx="2.42" ry="3.35"/><ellipse cx="283.49" cy="774.25" rx="2.33" ry="3.08"/></g><g fill="url(#tg66)"><ellipse cx="283.90" cy="774.30" rx="3.70" ry="4.80"/><ellipse cx="282.91" cy="775.38" rx="2.42" ry="3.35"/><ellipse cx="285.09" cy="773.65" rx="2.33" ry="3.08"/></g></g><radialGradient id="tg67" cx="0.42" cy="0.38" r="0.7"><stop offset="0" stop-color="#fde4cf"/><stop offset="0.55" stop-color="#f4c0a6"/><stop offset="1" stop-color="#f4c0a6"/></radialGradient><g transform="rotate(0 312.60 774.10)"><g fill="#3a8a98" opacity="0.5"><ellipse cx="311.00" cy="774.70" rx="5.30" ry="4.60"/><ellipse cx="311.73" cy="773.22" rx="3.59" ry="3.29"/><ellipse cx="310.71" cy="773.11" rx="3.31" ry="3.38"/></g><g fill="url(#tg67)"><ellipse cx="312.60" cy="774.10" rx="5.30" ry="4.60"/><ellipse cx="313.33" cy="772.62" rx="3.59" ry="3.29"/><ellipse cx="312.31" cy="772.51" rx="3.31" ry="3.38"/></g></g><radialGradient id="tg68" cx="0.42" cy="0.38" r="0.7"><stop offset="0" stop-color="#fde4cf"/><stop offset="0.55" stop-color="#f4c0a6"/><stop offset="1" stop-color="#f4c0a6"/></radialGradient><g transform="rotate(0 341.20 773.20)"><g fill="#3a8a98" opacity="0.5"><ellipse cx="339.60" cy="773.80" rx="4.20" ry="4.80"/><ellipse cx="338.25" cy="774.45" rx="2.61" ry="2.96"/><ellipse cx="339.39" cy="772.14" rx="2.85" ry="2.90"/></g><g fill="url(#tg68)"><ellipse cx="341.20" cy="773.20" rx="4.20" ry="4.80"/><ellipse cx="339.85" cy="773.85" rx="2.61" ry="2.96"/><ellipse cx="340.99" cy="771.54" rx="2.85" ry="2.90"/></g></g><radialGradient id="tg69" cx="0.42" cy="0.38" r="0.7"><stop offset="0" stop-color="#fde4cf"/><stop offset="0.55" stop-color="#f4c0a6"/><stop offset="1" stop-color="#f4c0a6"/></radialGradient><g transform="rotate(-20 367.40 775.50)"><g fill="#3a8a98" opacity="0.5"><ellipse cx="365.80" cy="776.10" rx="4.20" ry="5.30"/><ellipse cx="366.37" cy="774.39" rx="3.13" ry="3.25"/><ellipse cx="366.08" cy="774.28" rx="2.65" ry="3.64"/></g><g fill="url(#tg69)"><ellipse cx="367.40" cy="775.50" rx="4.20" ry="5.30"/><ellipse cx="367.97" cy="773.79" rx="3.13" ry="3.25"/><ellipse cx="367.68" cy="773.68" rx="2.65" ry="3.64"/></g></g><radialGradient id="tg70" cx="0.42" cy="0.38" r="0.7"><stop offset="0" stop-color="#fde4cf"/><stop offset="0.55" stop-color="#f4c0a6"/><stop offset="1" stop-color="#f4c0a6"/></radialGradient><g transform="rotate(0 256.10 791.80)"><g fill="#3a8a98" opacity="0.5"><ellipse cx="254.50" cy="792.40" rx="3.00" ry="1.70"/></g><g fill="url(#tg70)"><ellipse cx="256.10" cy="791.80" rx="3.00" ry="1.70"/></g></g><radialGradient id="tg71" cx="0.42" cy="0.38" r="0.7"><stop offset="0" stop-color="#fde4cf"/><stop offset="0.55" stop-color="#f4c0a6"/><stop offset="1" stop-color="#f4c0a6"/></radialGradient><g transform="rotate(0 283.20 791.00)"><g fill="#3a8a98" opacity="0.5"><ellipse cx="281.60" cy="791.60" rx="3.00" ry="2.90"/></g><g fill="url(#tg71)"><ellipse cx="283.20" cy="791.00" rx="3.00" ry="2.90"/></g></g><radialGradient id="tg72" cx="0.42" cy="0.38" r="0.7"><stop offset="0" stop-color="#fde4cf"/><stop offset="0.55" stop-color="#f4c0a6"/><stop offset="1" stop-color="#f4c0a6"/></radialGradient><g transform="rotate(0 312.00 792.70)"><g fill="#3a8a98" opacity="0.5"><ellipse cx="310.40" cy="793.30" rx="3.20" ry="3.40"/></g><g fill="url(#tg72)"><ellipse cx="312.00" cy="792.70" rx="3.20" ry="3.40"/></g></g><radialGradient id="tg73" cx="0.42" cy="0.38" r="0.7"><stop offset="0" stop-color="#fde4cf"/><stop offset="0.55" stop-color="#f4c0a6"/><stop offset="1" stop-color="#f4c0a6"/></radialGradient><g transform="rotate(0 341.30 793.20)"><g fill="#3a8a98" opacity="0.5"><ellipse cx="339.70" cy="793.80" rx="3.50" ry="3.90"/></g><g fill="url(#tg73)"><ellipse cx="341.30" cy="793.20" rx="3.50" ry="3.90"/></g></g><radialGradient id="tg74" cx="0.42" cy="0.38" r="0.7"><stop offset="0" stop-color="#fde4cf"/><stop offset="0.55" stop-color="#f4c0a6"/><stop offset="1" stop-color="#f4c0a6"/></radialGradient><g transform="rotate(0 366.40 793.60)"><g fill="#3a8a98" opacity="0.5"><ellipse cx="364.80" cy="794.20" rx="3.20" ry="2.90"/></g><g fill="url(#tg74)"><ellipse cx="366.40" cy="793.60" rx="3.20" ry="2.90"/></g></g><linearGradient id="rg75" x1="0" y1="0" x2="1" y2="0"><stop offset="0" stop-color="#cbb8ae"/><stop offset="1" stop-color="#b49c90"/></linearGradient><rect x="251.60" y="808.30" width="128.50" height="20.50" fill="url(#rg75)"/><path d="M252.60 809.30v4.5M253.95 809.30v2M255.30 809.30v2M256.65 809.30v2M258.00 809.30v2M259.35 809.30v3M260.70 809.30v2M262.05 809.30v2M263.40 809.30v2M264.75 809.30v2M266.10 809.30v4.5M267.45 809.30v2M268.80 809.30v2M270.15 809.30v2M271.50 809.30v2M272.85 809.30v3M274.20 809.30v2M275.55 809.30v2M276.90 809.30v2M278.25 809.30v2M279.60 809.30v4.5M280.95 809.30v2M282.30 809.30v2M283.65 809.30v2M285.00 809.30v2M286.35 809.30v3M287.70 809.30v2M289.05 809.30v2M290.40 809.30v2M291.75 809.30v2M293.10 809.30v4.5M294.45 809.30v2M295.80 809.30v2M297.15 809.30v2M298.50 809.30v2M299.85 809.30v3M301.20 809.30v2M302.55 809.30v2M303.90 809.30v2M305.25 809.30v2M306.60 809.30v4.5M307.95 809.30v2M309.30 809.30v2M310.65 809.30v2M312.00 809.30v2M313.35 809.30v3M314.70 809.30v2M316.05 809.30v2M317.40 809.30v2M318.75 809.30v2M320.10 809.30v4.5M321.45 809.30v2M322.80 809.30v2M324.15 809.30v2M325.50 809.30v2M326.85 809.30v3M328.20 809.30v2M329.55 809.30v2M330.90 809.30v2M332.25 809.30v2M333.60 809.30v4.5M334.95 809.30v2M336.30 809.30v2M337.65 809.30v2M339.00 809.30v2M340.35 809.30v3M341.70 809.30v2M343.05 809.30v2M344.40 809.30v2M345.75 809.30v2M347.10 809.30v4.5M348.45 809.30v2M349.80 809.30v2M351.15 809.30v2M352.50 809.30v2M353.85 809.30v3M355.20 809.30v2M356.55 809.30v2M357.90 809.30v2M359.25 809.30v2M360.60 809.30v4.5M361.95 809.30v2M363.30 809.30v2M364.65 809.30v2M366.00 809.30v2M367.35 809.30v3M368.70 809.30v2M370.05 809.30v2M371.40 809.30v2M372.75 809.30v2M374.10 809.30v4.5M375.45 809.30v2M376.80 809.30v2M378.15 809.30v2M379.50 809.30v2" stroke="#000" stroke-opacity="0.28" stroke-width="0.4"/><line x1="251.60" y1="808.60" x2="380.10" y2="808.60" stroke="#000" stroke-width="0.5" stroke-opacity="0.2"/><g font-family="Liberation Serif, serif" font-size="7.4" font-weight="bold" fill="#2a2020" text-anchor="middle"><text x="262.20" y="827.60" font-size="7.40" font-family="'Liberation Serif', serif">1</text><text x="275.70" y="827.60" font-size="7.40" font-family="'Liberation Serif', serif">2</text><text x="289.20" y="827.60" font-size="7.40" font-family="'Liberation Serif', serif">3</text><text x="302.70" y="827.60" font-size="7.40" font-family="'Liberation Serif', serif">4</text><text x="316.20" y="827.60" font-size="7.40" font-family="'Liberation Serif', serif">5</text><text x="329.70" y="827.60" font-size="7.40" font-family="'Liberation Serif', serif">6</text><text x="343.20" y="827.60" font-size="7.40" font-family="'Liberation Serif', serif">7</text><text x="356.70" y="827.60" font-size="7.40" font-family="'Liberation Serif', serif">8</text><text x="370.20" y="827.60" font-size="7.40" font-family="'Liberation Serif', serif">9</text></g><text x="236.90" y="719.00" font-size="8.1" text-anchor="end" fill="#231f20" stroke="#231f20" stroke-width="0.12">Control</text><text x="236.90" y="749.60" font-size="8.1" text-anchor="end" fill="#231f20" stroke="#231f20" stroke-width="0.12">AZD5438</text><text x="236.90" y="774.40" font-size="8.1" text-anchor="end" fill="#231f20" stroke="#231f20" stroke-width="0.12">Trastuzumab</text><text x="191.10" y="793.20" font-size="8.0" fill="#231f20" stroke="#231f20" stroke-width="0.12">AZD4328 +</text><text x="191.10" y="802.50" font-size="8.0" fill="#231f20" stroke="#231f20" stroke-width="0.12">Trastuzumab</text><text x="385.50" y="551.90" font-size="12" font-weight="bold" fill="#1a1414">k</text><rect x="448.20" y="620.26" width="19.10" height="6.64" fill="#e5321b"/><rect x="477.30" y="575.08" width="19.40" height="51.82" fill="#f0921e"/><rect x="506.50" y="578.24" width="19.50" height="48.66" fill="#8a2388"/><line x1="438.80" y1="626.90" x2="535.50" y2="626.90" stroke="#8f8f8f" stroke-width="0.9"/><line x1="457.75" y1="628.48" x2="457.75" y2="611.73" stroke="#111" stroke-width="0.7"/><line x1="454.55" y1="611.73" x2="460.95" y2="611.73" stroke="#111" stroke-width="0.7"/><line x1="454.55" y1="628.48" x2="460.95" y2="628.48" stroke="#111" stroke-width="0.7"/><g fill="#111"><circle cx="458.75" cy="611.73" r="0.85"/><circle cx="456.25" cy="611.73" r="0.85"/><circle cx="457.75" cy="619.32" r="0.85"/><circle cx="457.75" cy="623.74" r="0.85"/><circle cx="457.75" cy="632.59" r="0.85"/></g><g fill="#111"><circle cx="483.00" cy="575.71" r="0.85"/><circle cx="485.50" cy="574.44" r="0.85"/><circle cx="488.50" cy="575.08" r="0.85"/><circle cx="491.00" cy="574.44" r="0.85"/></g><g fill="#111"><circle cx="512.25" cy="577.60" r="0.85"/><circle cx="514.75" cy="578.87" r="0.85"/><circle cx="517.75" cy="578.24" r="0.85"/><circle cx="520.25" cy="577.60" r="0.85"/></g><line x1="438.80" y1="563.70" x2="438.80" y2="639.90" stroke="#222" stroke-width="1.1"/><line x1="438.30" y1="639.40" x2="535.50" y2="639.40" stroke="#222" stroke-width="1.1"/><line x1="436.60" y1="639.54" x2="438.80" y2="639.54" stroke="#222" stroke-width="0.8"/><text x="436.20" y="641.44" font-size="5.3" text-anchor="end" fill="#231f20" stroke="#231f20" stroke-width="0.12">-20</text><line x1="436.60" y1="626.90" x2="438.80" y2="626.90" stroke="#222" stroke-width="0.8"/><text x="436.20" y="628.80" font-size="5.3" text-anchor="end" fill="#231f20" stroke="#231f20" stroke-width="0.12">0</text><line x1="436.60" y1="614.26" x2="438.80" y2="614.26" stroke="#222" stroke-width="0.8"/><text x="436.20" y="616.16" font-size="5.3" text-anchor="end" fill="#231f20" stroke="#231f20" stroke-width="0.12">20</text><line x1="436.60" y1="601.62" x2="438.80" y2="601.62" stroke="#222" stroke-width="0.8"/><text x="436.20" y="603.52" font-size="5.3" text-anchor="end" fill="#231f20" stroke="#231f20" stroke-width="0.12">40</text><line x1="436.60" y1="588.98" x2="438.80" y2="588.98" stroke="#222" stroke-width="0.8"/><text x="436.20" y="590.88" font-size="5.3" text-anchor="end" fill="#231f20" stroke="#231f20" stroke-width="0.12">60</text><line x1="436.60" y1="576.34" x2="438.80" y2="576.34" stroke="#222" stroke-width="0.8"/><text x="436.20" y="578.24" font-size="5.3" text-anchor="end" fill="#231f20" stroke="#231f20" stroke-width="0.12">80</text><line x1="436.60" y1="563.70" x2="438.80" y2="563.70" stroke="#222" stroke-width="0.8"/><text x="436.20" y="565.60" font-size="5.3" text-anchor="end" fill="#231f20" stroke="#231f20" stroke-width="0.12">100</text><line x1="457.75" y1="639.40" x2="457.75" y2="642.40" stroke="#222" stroke-width="0.8"/><line x1="487.00" y1="639.40" x2="487.00" y2="642.40" stroke="#222" stroke-width="0.8"/><line x1="516.25" y1="639.40" x2="516.25" y2="642.40" stroke="#222" stroke-width="0.8"/><text x="459.55" y="649.70" font-size="6.9" text-anchor="end" fill="#231f20" stroke="#231f20" stroke-width="0.12" transform="rotate(-45 459.55 649.70)">AZD5438</text><text x="488.80" y="649.70" font-size="6.9" text-anchor="end" fill="#231f20" stroke="#231f20" stroke-width="0.12" transform="rotate(-45 488.80 649.70)">Trastuzumab</text><text x="518.05" y="649.70" font-size="6.9" text-anchor="end" fill="#231f20" stroke="#231f20" stroke-width="0.12" transform="rotate(-45 518.05 649.70)">AZD5438 + Trastuzumab</text><text x="434.80" y="556.90" font-size="7.8" fill="#231f20" stroke="#231f20" stroke-width="0.12">PDX1</text><path d="M488.90 569.20V563.90H515.40V569.20" fill="none" stroke="#333" stroke-width="0.7"/><text x="502.15" y="561.50" font-size="6.0" text-anchor="middle" fill="#231f20" stroke="#231f20" stroke-width="0.12">n.s.</text><text x="415.90" y="603.00" font-size="6.35" text-anchor="middle" fill="#231f20" stroke="#231f20" stroke-width="0.12" transform="rotate(-90 415.90 603.00)">% Tumor growth inhibition</text><rect x="448.20" y="738.87" width="19.10" height="51.03" fill="#e5321b"/><rect x="477.30" y="734.50" width="19.40" height="55.40" fill="#f0921e"/><rect x="506.50" y="725.75" width="19.50" height="64.15" fill="#8a2388"/><line x1="457.75" y1="739.96" x2="457.75" y2="736.68" stroke="#111" stroke-width="0.7"/><line x1="454.55" y1="736.68" x2="460.95" y2="736.68" stroke="#111" stroke-width="0.7"/><line x1="454.55" y1="739.96" x2="460.95" y2="739.96" stroke="#111" stroke-width="0.7"/><g fill="#111"><circle cx="457.75" cy="735.95" r="0.85"/><circle cx="454.25" cy="739.60" r="0.85"/><circle cx="456.75" cy="738.87" r="0.85"/><circle cx="459.25" cy="739.60" r="0.85"/><circle cx="461.75" cy="738.87" r="0.85"/></g><line x1="487.00" y1="734.86" x2="487.00" y2="733.77" stroke="#111" stroke-width="0.7"/><line x1="483.80" y1="733.77" x2="490.20" y2="733.77" stroke="#111" stroke-width="0.7"/><line x1="483.80" y1="734.86" x2="490.20" y2="734.86" stroke="#111" stroke-width="0.7"/><g fill="#111"><circle cx="482.00" cy="734.50" r="0.85"/><circle cx="485.00" cy="733.04" r="0.85"/><circle cx="487.50" cy="734.50" r="0.85"/><circle cx="490.00" cy="734.50" r="0.85"/><circle cx="492.50" cy="735.23" r="0.85"/></g><line x1="516.25" y1="726.11" x2="516.25" y2="725.02" stroke="#111" stroke-width="0.7"/><line x1="513.05" y1="725.02" x2="519.45" y2="725.02" stroke="#111" stroke-width="0.7"/><line x1="513.05" y1="726.11" x2="519.45" y2="726.11" stroke="#111" stroke-width="0.7"/><g fill="#111"><circle cx="510.75" cy="725.75" r="0.85"/><circle cx="513.75" cy="725.02" r="0.85"/><circle cx="516.75" cy="725.02" r="0.85"/><circle cx="519.25" cy="725.02" r="0.85"/><circle cx="521.75" cy="726.11" r="0.85"/></g><line x1="438.80" y1="717.00" x2="438.80" y2="790.40" stroke="#222" stroke-width="1.1"/><line x1="438.30" y1="789.90" x2="535.50" y2="789.90" stroke="#222" stroke-width="1.1"/><line x1="436.60" y1="789.90" x2="438.80" y2="789.90" stroke="#222" stroke-width="0.8"/><text x="436.20" y="791.80" font-size="5.3" text-anchor="end" fill="#231f20" stroke="#231f20" stroke-width="0.12">0</text><line x1="436.60" y1="775.32" x2="438.80" y2="775.32" stroke="#222" stroke-width="0.8"/><text x="436.20" y="777.22" font-size="5.3" text-anchor="end" fill="#231f20" stroke="#231f20" stroke-width="0.12">20</text><line x1="436.60" y1="760.74" x2="438.80" y2="760.74" stroke="#222" stroke-width="0.8"/><text x="436.20" y="762.64" font-size="5.3" text-anchor="end" fill="#231f20" stroke="#231f20" stroke-width="0.12">40</text><line x1="436.60" y1="746.16" x2="438.80" y2="746.16" stroke="#222" stroke-width="0.8"/><text x="436.20" y="748.06" font-size="5.3" text-anchor="end" fill="#231f20" stroke="#231f20" stroke-width="0.12">60</text><line x1="436.60" y1="731.58" x2="438.80" y2="731.58" stroke="#222" stroke-width="0.8"/><text x="436.20" y="733.48" font-size="5.3" text-anchor="end" fill="#231f20" stroke="#231f20" stroke-width="0.12">80</text><line x1="436.60" y1="717.00" x2="438.80" y2="717.00" stroke="#222" stroke-width="0.8"/><text x="436.20" y="718.90" font-size="5.3" text-anchor="end" fill="#231f20" stroke="#231f20" stroke-width="0.12">100</text><line x1="457.75" y1="789.90" x2="457.75" y2="792.90" stroke="#222" stroke-width="0.8"/><line x1="487.00" y1="789.90" x2="487.00" y2="792.90" stroke="#222" stroke-width="0.8"/><line x1="516.25" y1="789.90" x2="516.25" y2="792.90" stroke="#222" stroke-width="0.8"/><text x="459.55" y="800.20" font-size="6.9" text-anchor="end" fill="#231f20" stroke="#231f20" stroke-width="0.12" transform="rotate(-45 459.55 800.20)">AZD5438</text><text x="488.80" y="800.20" font-size="6.9" text-anchor="end" fill="#231f20" stroke="#231f20" stroke-width="0.12" transform="rotate(-45 488.80 800.20)">Trastuzumab</text><text x="518.05" y="800.20" font-size="6.9" text-anchor="end" fill="#231f20" stroke="#231f20" stroke-width="0.12" transform="rotate(-45 518.05 800.20)">AZD5438 + Trastuzumab</text><text x="434.80" y="710.60" font-size="7.8" fill="#231f20" stroke="#231f20" stroke-width="0.12">PDX8</text><path d="M487.90 719.10V713.80H516.40V719.10" fill="none" stroke="#333" stroke-width="0.7"/><text x="502.15" y="711.40" font-size="6.0" text-anchor="middle" fill="#231f20" stroke="#231f20" stroke-width="0.12">***</text><text x="415.90" y="754.50" font-size="6.35" text-anchor="middle" fill="#231f20" stroke="#231f20" stroke-width="0.12" transform="rotate(-90 415.90 754.50)">% Tumor growth inhibition</text><text x="543.30" y="551.90" font-size="12" font-weight="bold" fill="#1a1414">l</text><filter id="bl" x="-20%" y="-100%" width="140%" height="300%"><feGaussianBlur stdDeviation="0.55"/></filter><text x="581.60" y="588.90" font-size="7.2" fill="#231f20" stroke="#231f20" stroke-width="0.12" transform="rotate(-61 581.60 588.90)">Control</text><text x="601.30" y="588.40" font-size="7.2" fill="#231f20" stroke="#231f20" stroke-width="0.12" transform="rotate(-61 601.30 588.40)">Trastuzumab</text><text x="623.20" y="589.60" font-size="7.2" fill="#231f20" stroke="#231f20" stroke-width="0.12" transform="rotate(-61 623.20 589.60)">AZD5438</text><text x="643.00" y="584.60" font-size="7.2" fill="#231f20" stroke="#231f20" stroke-width="0.12" transform="rotate(-61 643.00 584.60)">Trastuzumab</text><text x="652.40" y="588.90" font-size="7.2" fill="#231f20" stroke="#231f20" stroke-width="0.12" transform="rotate(-61 652.40 588.90)">+AZD5438</text><rect x="569.20" y="593.90" width="87.20" height="22.40" fill="#ededed" stroke="#8a8a8a" stroke-width="0.8"/><g filter="url(#bl)"><ellipse cx="581.90" cy="605.10" rx="8.00" ry="2.50" fill="#111" opacity="1.0"/><rect x="575.40" y="602.60" width="13.00" height="5.00" fill="#111" opacity="1.0"/><ellipse cx="601.60" cy="605.10" rx="8.50" ry="1.70" fill="#111" opacity="0.95"/><rect x="594.60" y="603.40" width="14.00" height="3.40" fill="#111" opacity="0.95"/><ellipse cx="623.60" cy="605.10" rx="8.00" ry="2.00" fill="#111" opacity="1.0"/><rect x="617.10" y="603.10" width="13.00" height="4.00" fill="#111" opacity="1.0"/><ellipse cx="644.60" cy="605.10" rx="7.50" ry="1.50" fill="#111" opacity="0.95"/><rect x="638.60" y="603.60" width="12.00" height="3.00" fill="#111" opacity="0.95"/></g><text x="660.20" y="607.70" font-size="7.2" fill="#231f20" stroke="#231f20" stroke-width="0.12">ERBB2</text><text x="566.80" y="607.50" font-size="6.6" text-anchor="end" fill="#231f20" stroke="#231f20" stroke-width="0.12">185kDa</text><rect x="569.20" y="618.84" width="87.20" height="22.40" fill="#ededed" stroke="#8a8a8a" stroke-width="0.8"/><g filter="url(#bl)"><ellipse cx="581.90" cy="627.40" rx="8.00" ry="1.70" fill="#111" opacity="1"/><rect x="575.40" y="625.70" width="13.00" height="3.40" fill="#111" opacity="1"/><ellipse cx="601.60" cy="627.40" rx="8.00" ry="1.70" fill="#111" opacity="1"/><rect x="595.10" y="625.70" width="13.00" height="3.40" fill="#111" opacity="1"/><ellipse cx="623.60" cy="627.40" rx="8.00" ry="1.70" fill="#111" opacity="1"/><rect x="617.10" y="625.70" width="13.00" height="3.40" fill="#111" opacity="1"/><ellipse cx="644.60" cy="627.40" rx="8.00" ry="1.70" fill="#111" opacity="1"/><rect x="638.10" y="625.70" width="13.00" height="3.40" fill="#111" opacity="1"/><ellipse cx="581.90" cy="632.30" rx="8.00" ry="1.80" fill="#111" opacity="1"/><rect x="575.40" y="630.50" width="13.00" height="3.60" fill="#111" opacity="1"/><ellipse cx="601.60" cy="632.30" rx="8.00" ry="1.80" fill="#111" opacity="1"/><rect x="595.10" y="630.50" width="13.00" height="3.60" fill="#111" opacity="1"/><ellipse cx="623.60" cy="632.30" rx="8.00" ry="1.80" fill="#111" opacity="1"/><rect x="617.10" y="630.50" width="13.00" height="3.60" fill="#111" opacity="1"/><ellipse cx="644.60" cy="632.30" rx="8.00" ry="1.80" fill="#111" opacity="1"/><rect x="638.10" y="630.50" width="13.00" height="3.60" fill="#111" opacity="1"/></g><text x="660.20" y="632.64" font-size="7.2" fill="#231f20" stroke="#231f20" stroke-width="0.12">ERK</text><text x="566.80" y="628.84" font-size="6.6" text-anchor="end" fill="#231f20" stroke="#231f20" stroke-width="0.12">44kDa</text><text x="566.80" y="636.44" font-size="6.6" text-anchor="end" fill="#231f20" stroke="#231f20" stroke-width="0.12">42kDa</text><rect x="569.20" y="643.78" width="87.20" height="22.40" fill="#ededed" stroke="#8a8a8a" stroke-width="0.8"/><g filter="url(#bl)"><ellipse cx="581.90" cy="652.10" rx="8.00" ry="1.70" fill="#111" opacity="1"/><rect x="575.40" y="650.40" width="13.00" height="3.40" fill="#111" opacity="1"/><ellipse cx="601.60" cy="652.10" rx="7.50" ry="1.30" fill="#111" opacity="0.85"/><rect x="595.60" y="650.80" width="12.00" height="2.60" fill="#111" opacity="0.85"/><ellipse cx="623.60" cy="652.10" rx="8.00" ry="1.70" fill="#111" opacity="1"/><rect x="617.10" y="650.40" width="13.00" height="3.40" fill="#111" opacity="1"/><ellipse cx="644.60" cy="652.10" rx="7.00" ry="1.30" fill="#111" opacity="0.75"/><rect x="639.10" y="650.80" width="11.00" height="2.60" fill="#111" opacity="0.75"/><ellipse cx="581.90" cy="657.00" rx="8.00" ry="1.70" fill="#111" opacity="1"/><rect x="575.40" y="655.30" width="13.00" height="3.40" fill="#111" opacity="1"/><ellipse cx="601.60" cy="657.00" rx="7.50" ry="1.40" fill="#111" opacity="0.9"/><rect x="595.60" y="655.60" width="12.00" height="2.80" fill="#111" opacity="0.9"/><ellipse cx="623.60" cy="657.00" rx="8.00" ry="1.70" fill="#111" opacity="1"/><rect x="617.10" y="655.30" width="13.00" height="3.40" fill="#111" opacity="1"/><ellipse cx="644.60" cy="657.00" rx="7.50" ry="1.40" fill="#111" opacity="0.9"/><rect x="638.60" y="655.60" width="12.00" height="2.80" fill="#111" opacity="0.9"/></g><text x="660.20" y="657.58" font-size="7.2" fill="#231f20" stroke="#231f20" stroke-width="0.12">p-ERK</text><text x="566.80" y="653.78" font-size="6.6" text-anchor="end" fill="#231f20" stroke="#231f20" stroke-width="0.12">44kDa</text><text x="566.80" y="661.38" font-size="6.6" text-anchor="end" fill="#231f20" stroke="#231f20" stroke-width="0.12">42kDa</text><rect x="569.20" y="668.72" width="87.20" height="22.40" fill="#ededed" stroke="#8a8a8a" stroke-width="0.8"/><g filter="url(#bl)"><ellipse cx="581.90" cy="679.40" rx="8.00" ry="1.80" fill="#111" opacity="1"/><rect x="575.40" y="677.60" width="13.00" height="3.60" fill="#111" opacity="1"/><ellipse cx="601.60" cy="679.40" rx="8.00" ry="1.80" fill="#111" opacity="1"/><rect x="595.10" y="677.60" width="13.00" height="3.60" fill="#111" opacity="1"/><ellipse cx="623.60" cy="679.40" rx="8.00" ry="1.80" fill="#111" opacity="1"/><rect x="617.10" y="677.60" width="13.00" height="3.60" fill="#111" opacity="1"/><ellipse cx="644.60" cy="679.40" rx="8.00" ry="2.00" fill="#111" opacity="1"/><rect x="638.10" y="677.40" width="13.00" height="4.00" fill="#111" opacity="1"/></g><text x="660.20" y="682.52" font-size="7.2" fill="#231f20" stroke="#231f20" stroke-width="0.12">AKT</text><text x="566.80" y="682.32" font-size="6.6" text-anchor="end" fill="#231f20" stroke="#231f20" stroke-width="0.12">60kDa</text><rect x="569.20" y="693.66" width="87.20" height="22.40" fill="#ededed" stroke="#8a8a8a" stroke-width="0.8"/><g filter="url(#bl)"><ellipse cx="581.90" cy="704.60" rx="8.00" ry="1.90" fill="#111" opacity="1"/><rect x="575.40" y="702.70" width="13.00" height="3.80" fill="#111" opacity="1"/><ellipse cx="601.60" cy="704.60" rx="7.50" ry="1.20" fill="#111" opacity="0.85"/><rect x="595.60" y="703.40" width="12.00" height="2.40" fill="#111" opacity="0.85"/><ellipse cx="623.60" cy="704.60" rx="8.00" ry="1.50" fill="#111" opacity="0.95"/><rect x="617.10" y="703.10" width="13.00" height="3.00" fill="#111" opacity="0.95"/><ellipse cx="644.60" cy="704.60" rx="7.50" ry="1.00" fill="#111" opacity="0.45"/><rect x="638.60" y="703.60" width="12.00" height="2.00" fill="#111" opacity="0.45"/></g><text x="660.20" y="707.46" font-size="7.2" fill="#231f20" stroke="#231f20" stroke-width="0.12">p-AKT</text><text x="566.80" y="707.26" font-size="6.6" text-anchor="end" fill="#231f20" stroke="#231f20" stroke-width="0.12">60kDa</text><rect x="569.20" y="718.60" width="87.20" height="22.40" fill="#ededed" stroke="#8a8a8a" stroke-width="0.8"/><g filter="url(#bl)"><ellipse cx="581.90" cy="729.50" rx="8.50" ry="2.50" fill="#111" opacity="1"/><rect x="574.90" y="727.00" width="14.00" height="5.00" fill="#111" opacity="1"/><ellipse cx="601.60" cy="729.50" rx="8.00" ry="1.90" fill="#111" opacity="1"/><rect x="595.10" y="727.60" width="13.00" height="3.80" fill="#111" opacity="1"/><ellipse cx="623.60" cy="729.50" rx="8.00" ry="1.60" fill="#111" opacity="0.95"/><rect x="617.10" y="727.90" width="13.00" height="3.20" fill="#111" opacity="0.95"/><ellipse cx="644.60" cy="729.50" rx="7.00" ry="1.10" fill="#111" opacity="0.8"/><rect x="639.10" y="728.40" width="11.00" height="2.20" fill="#111" opacity="0.8"/></g><text x="660.20" y="732.40" font-size="7.2" fill="#231f20" stroke="#231f20" stroke-width="0.12">CDK2</text><text x="566.80" y="732.20" font-size="6.6" text-anchor="end" fill="#231f20" stroke="#231f20" stroke-width="0.12">33kDa</text><rect x="569.20" y="743.54" width="87.20" height="22.40" fill="#ededed" stroke="#8a8a8a" stroke-width="0.8"/><g filter="url(#bl)"><ellipse cx="581.90" cy="754.30" rx="8.50" ry="2.00" fill="#111" opacity="1"/><rect x="574.90" y="752.30" width="14.00" height="4.00" fill="#111" opacity="1"/><ellipse cx="601.60" cy="754.30" rx="8.50" ry="2.00" fill="#111" opacity="1"/><rect x="594.60" y="752.30" width="14.00" height="4.00" fill="#111" opacity="1"/><ellipse cx="623.60" cy="754.30" rx="8.50" ry="2.00" fill="#111" opacity="1"/><rect x="616.60" y="752.30" width="14.00" height="4.00" fill="#111" opacity="1"/><ellipse cx="644.60" cy="754.30" rx="8.50" ry="2.10" fill="#111" opacity="1"/><rect x="637.60" y="752.20" width="14.00" height="4.20" fill="#111" opacity="1"/></g><text x="660.20" y="757.34" font-size="7.2" fill="#231f20" stroke="#231f20" stroke-width="0.12">RB</text><text x="566.80" y="757.14" font-size="6.6" text-anchor="end" fill="#231f20" stroke="#231f20" stroke-width="0.12">110kDa</text><rect x="569.20" y="768.48" width="87.20" height="22.40" fill="#ededed" stroke="#8a8a8a" stroke-width="0.8"/><g filter="url(#bl)"><ellipse cx="581.90" cy="779.40" rx="7.50" ry="1.50" fill="#111" opacity="1"/><rect x="575.90" y="777.90" width="12.00" height="3.00" fill="#111" opacity="1"/><ellipse cx="601.60" cy="779.40" rx="7.50" ry="1.50" fill="#111" opacity="1"/><rect x="595.60" y="777.90" width="12.00" height="3.00" fill="#111" opacity="1"/><ellipse cx="623.60" cy="779.40" rx="7.50" ry="1.50" fill="#111" opacity="1"/><rect x="617.60" y="777.90" width="12.00" height="3.00" fill="#111" opacity="1"/><ellipse cx="644.60" cy="779.40" rx="7.00" ry="1.30" fill="#111" opacity="0.8"/><rect x="639.10" y="778.10" width="11.00" height="2.60" fill="#111" opacity="0.8"/></g><text x="660.20" y="782.28" font-size="7.2" fill="#231f20" stroke="#231f20" stroke-width="0.12">p-RB</text><text x="566.80" y="782.08" font-size="6.6" text-anchor="end" fill="#231f20" stroke="#231f20" stroke-width="0.12">110kDa</text><rect x="569.20" y="793.42" width="87.20" height="22.40" fill="#ededed" stroke="#8a8a8a" stroke-width="0.8"/><g filter="url(#bl)"><ellipse cx="581.90" cy="804.80" rx="8.50" ry="2.20" fill="#111" opacity="1"/><rect x="574.90" y="802.60" width="14.00" height="4.40" fill="#111" opacity="1"/><ellipse cx="601.60" cy="804.80" rx="8.50" ry="2.20" fill="#111" opacity="1"/><rect x="594.60" y="802.60" width="14.00" height="4.40" fill="#111" opacity="1"/><ellipse cx="623.60" cy="804.80" rx="8.50" ry="2.20" fill="#111" opacity="1"/><rect x="616.60" y="802.60" width="14.00" height="4.40" fill="#111" opacity="1"/><ellipse cx="644.60" cy="804.80" rx="8.50" ry="2.30" fill="#111" opacity="1"/><rect x="637.60" y="802.50" width="14.00" height="4.60" fill="#111" opacity="1"/></g><text x="660.20" y="807.22" font-size="7.2" fill="#231f20" stroke="#231f20" stroke-width="0.12">β-actin</text><text x="566.80" y="807.02" font-size="6.6" text-anchor="end" fill="#231f20" stroke="#231f20" stroke-width="0.12">42kDa</text>
</svg>
</body></html>
